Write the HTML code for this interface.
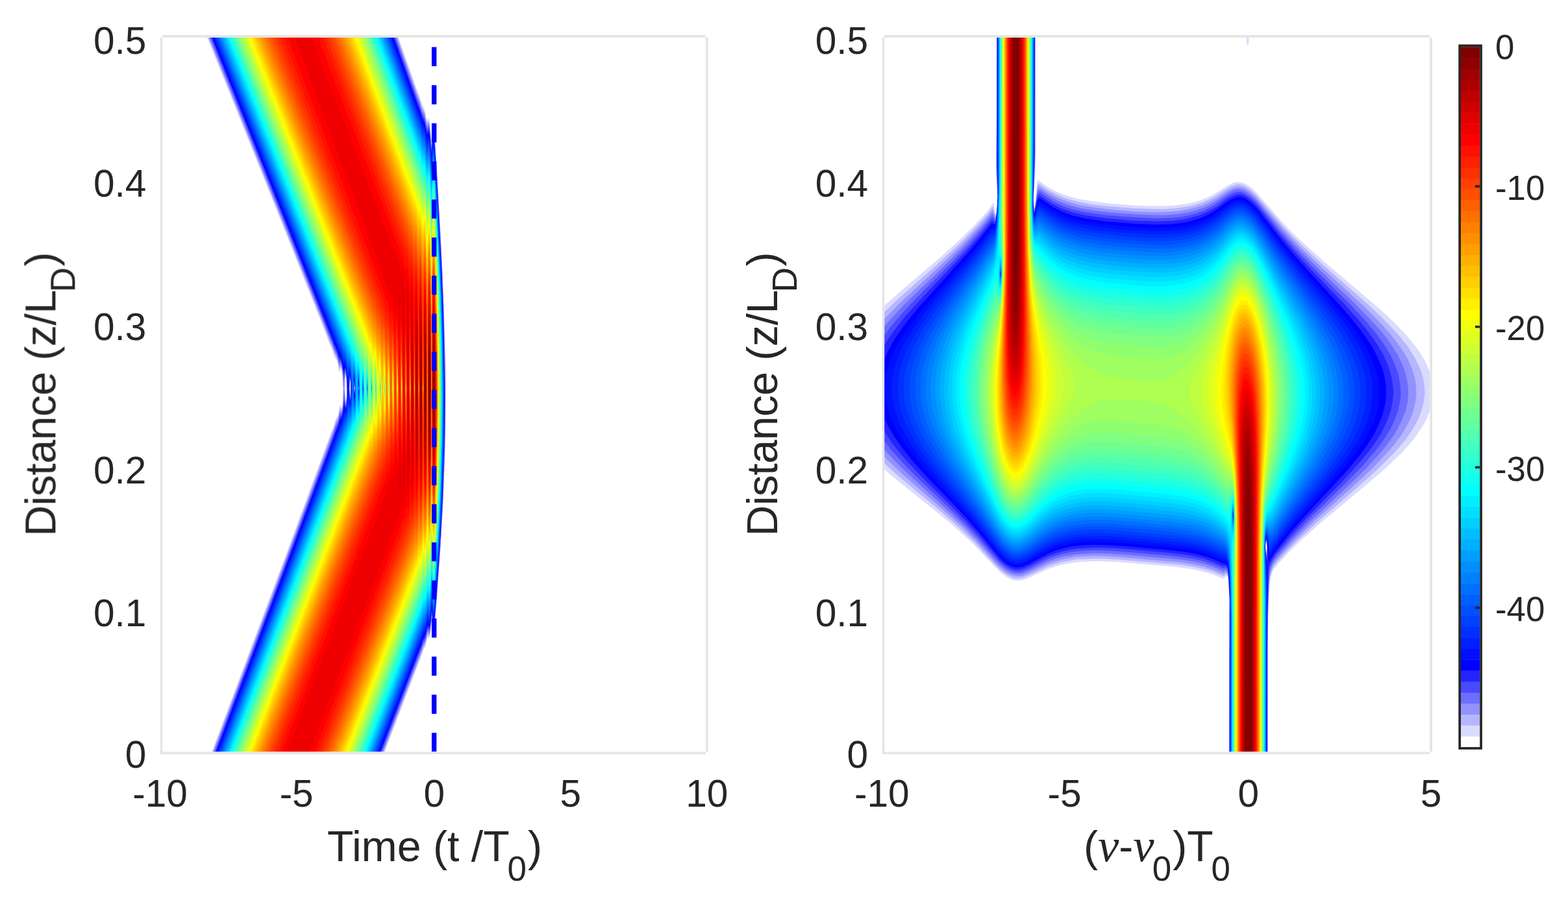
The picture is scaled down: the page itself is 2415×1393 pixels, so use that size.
<!DOCTYPE html>
<html lang="en"><head><meta charset="utf-8"><title>Temporal reflection: pulse and spectrum evolution</title>
<style>html,body{margin:0;padding:0;background:#fff}body{width:2415px;height:1393px;overflow:hidden}svg{display:block}</style></head>
<body>
<svg width="2415" height="1393" viewBox="0 0 2415 1393">
<defs><clipPath id="cl"><rect x="250.2" y="57.8" width="836.7" height="1100.7"/></clipPath><clipPath id="cr"><rect x="1362.1" y="57.8" width="840.1" height="1100.7"/></clipPath></defs>
<filter id="bh" filterUnits="userSpaceOnUse" x="200" y="0" width="2100" height="1300" color-interpolation-filters="sRGB"><feGaussianBlur stdDeviation="0.7"/></filter><filter id="bt" filterUnits="userSpaceOnUse" x="0" y="0" width="2415" height="1393" color-interpolation-filters="sRGB"><feGaussianBlur stdDeviation="0.7"/></filter>
<rect width="2415" height="1393" fill="#fff"/>
<g clip-path="url(#cl)"><g filter="url(#bh)"><rect x="200" y="0" width="940" height="1220" fill="#fff"/><path fill="#dbdbff" d="M318 52l295.5 0 0 3 0.5 3 29 82 3.5 8.5 3.5 12 3.5 6.5 3.5 16 0.5 1.5 0.5 0 2-2.5 1 1.5 1 6 2 23.5 0.5 2 2-19.5 1-3.5 0.5 0.5 1.5 14 6.5 104.5 6.5 127.5 3.5 104 0.5 40.5 0 70.5-1.5 68-1 15-2 50.5-3 52.5-6 85.5-3.5 40.5-1.5 9.5-0.5 0-0.5-2-2-16-2.5 22.5-1 4-0.5 0.5-2-2-0.5 0.5-3.5 14.5-3 5-3.5 10.5-55.5 145-1 3 0 4.5-266.5 0 0-4.5 0.5-1.5 117-311.5 67-181.5 3.5-8 3.5-12.5 0.5-1.5 1.5-1 1.5-3 2.5-16 0.5-1 2.5 5.5 0.5 0 1.5-9.5 0.5-18-1-21-1-7.5-1-4-0.5-0.5-0.5 1-1.5 5.5-0.5 0-2-12.5-1.5-6-2.5-3.5-1.5-3-3-10-3-5.5-10.5-28-65.5-164.5-114-283.5-1-3zM532 579.5l-0.5 8-0.5 15 1 12 0.5 3 0.5 0 1-7.5 0-15-1-13-0.5-2.5zM539 586.5l-0.5 4 0 9 0.5 9 0.5 2 0.5-12.5-0.5-9zM545.5 592.5l0 7 0.5 6 0.5-9-0.5-4.5zM552.5 595l0 3 0 4z"/>
<path fill="#b6b6ff" d="M319.5 52l292.5 0 0 3 0.5 3 30.5 85.5 3.5 9 3.5 11.5 4 8 3 15 0.5 1 0.5 0.5 2-3 1 1.5 1 6 2 24 0.5 2 2-20 1-3.5 0.5 0.5 1.5 14 3.5 55 7 120 3 72 2.5 90 1 39-0.5 64.5-1 61.5-1 16-1.5 50-3.5 57-6.5 91.5-3 36-1.5 10-0.5-0.5-0.5-2-2-16-2.5 22-1 4.5-0.5 0.5-2-2-0.5 0.5-3.5 14.5-3 5-3.5 10.5-56.5 148-1 3 0 4.5-264.5 0 0-4.5 0.5-1.5 113.5-301.5 71.5-193.5 1.5-3 3.5-12 3.5-6 3-15 0.5-0.5 0.5 0.5 1.5 3 0.5-0.5 1.5-10 0.5-19.5-1-24-1-6.5-1-4.5-0.5-0.5-0.5 0.5-1.5 4-0.5 0-2-12.5-1.5-4.5-4.5-8-3-10-2.5-4.5-10.5-27.5-69.5-174.5-108.5-270.5-1-3zM532 577.5l-1 7 0 15 1 15 0.5 5 0.5 0 1-8 0-15-0.5-15-1-4zM539 585l-0.5 4 0 10.5 0.5 9 0.5 3.5 1-14-0.5-9zM545.5 591l0 8.5 0.5 7 0.5-8.5-0.5-6.5zM552.5 594.5l-0.5 3.5 0.5 4.5 0.5-4.5z"/>
<path fill="#9292ff" d="M321 52l289.5 0 0 3 1 3 31.5 89.5 3.5 8.5 3.5 12 3 5 1 2.5 3 15 0.5 1.5 0.5 0 2-3 1 1.5 1 6 2 24.5 0.5 2 2-20.5 1-3.5 0.5 0.5 1.5 14 3.5 55.5 7 123.5 3 73.5 2.5 90 0.5 39-0.5 90-3 81.5-4 72.5-6.5 90-2.5 30.5-1.5 10-0.5-0.5-0.5-2-2-16.5-2.5 22.5-1 4.5-0.5 0.5-2-2-0.5 0.5-3.5 14.5-3 5-3.5 10.5-58 151-1 3 0 4.5-262 0 0.5-4.5 0-1.5 110-291.5 74-200 1.5-3.5 4-12.5 3-5.5 3-14 1 0 1.5 1.5 0.5 0 1-5 1-8 0.5-21-1-21-1.5-10.5-1-4.5-0.5-0.5-0.5 0-1.5 2.5-0.5 0-3.5-15-4.5-9-3-9.5-2.5-5-10.5-27.5-56.5-141.5-120.5-300-0.5-3zM532 575.5l-1 9-0.5 16.5 1.5 16.5 0.5 4 0.5 0 1-8.5 0.5-16.5-1-15-1-6zM539 583.5l-0.5 5.5-0.5 10.5 1 10.5 0.5 3.5 0.5-5 0.5-10.5-0.5-10.5zM545.5 590l0 9.5 0.5 8 0.5-9.5-0.5-7.5zM552.5 593.5l-0.5 4.5 0.5 5.5 0.5-5.5z"/>
<path fill="#6d6dff" d="M322 52l287.5 0 0 3 0.5 3 33 93 3.5 9 3.5 11.5 1 2.5 2 2.5 1 2.5 3.5 17 0.5 0 2-3.5 1 1.5 1 6 2 25 0.5 2 2-20.5 1-4 0.5 0.5 1.5 14 6.5 107 6.5 135 3 103 0.5 46.5-1 80-3 82-6 101.5-6.5 84.5-1.5 10-0.5-0.5-0.5-2.5-2-16.5-2 21.5-1.5 6-0.5 0.5-2-2.5-0.5 0.5-3.5 15-3 4.5-3.5 11-3 7-56 147-1 3 0 4.5-259.5 0 0-4.5 0.5-1.5 108.5-288.5 75.5-203 4-12.5 3-5.5 3-13 1-1 1.5 1 0.5-0.5 1.5-9.5 1.5-25 0.5-1.5 1.5 17.5 0.5 4.5 0.5 1.5 0.5 0 1-7.5 0.5-15-0.5-16.5-1.5-11-0.5-0.5-1 4-1.5 20-1.5-23-1.5-9-1-4-0.5-1-0.5 0-1 1.5-0.5 0-0.5-0.5-3.5-13.5-4.5-9.5-3-9-2.5-5-10.5-27.5-56.5-142-119-296.5-1-3zM539 582l-0.5 5.5-0.5 12 0.5 10.5 1 5 0.5-5 0.5-12-0.5-10.5zM545.5 588.5l-0.5 11 1 9 0.5-10.5-0.5-8.5zM552.5 593l-0.5 5 0.5 6 0.5-6z"/>
<path fill="#4949ff" d="M323.5 52l284.5 0 0 3 0.5 3 34.5 97 3.5 8.5 3.5 12 1 2 2 3 1 2.5 3.5 16.5 0.5 0.5 2-4 1 1.5 1 6 2 25.5 0.5 2 2-21 1-4 0.5 0.5 1.5 14.5 3.5 56 7 131 3 75.5 2 87.5 0.5 42-0.5 60-3 91.5-6 104-6.5 84.5-1.5 10.5-0.5-0.5-0.5-2.5-2-17-2 20.5-1.5 7.5-0.5 0.5-2-3-0.5 0.5-3.5 15-3 5-3.5 10.5-3 7-57.5 150.5-1 3 0 4.5-257 0 0-4.5 0.5-1.5 105-278.5 78-209.5 4-12.5 3-6 3-12 1-1.5 1.5 0 0.5-0.5 1.5-6 2-19.5 2 11.5 0.5 1.5 0.5 0 1.5-8.5 0-16.5-0.5-18-1.5-11.5-0.5-0.5-0.5 1.5-2 11-2.5-20-1.5-5-1-1.5-1 0.5-1-0.5-3.5-12.5-4.5-9.5-3-9-2.5-5.5-67-169.5-117.5-293-1-3zM538.5 581.5l-0.5 7.5 0 12 0.5 10.5 1 5 1-8 0-13.5-0.5-10.5-1-4zM545.5 587.5l-0.5 12 0.5 8.5 0.5 1.5 1-11.5-1-10zM552.5 592l-0.5 6 0.5 7 0.5-5.5zM559 594.5l0 7.5 0.5-4z"/>
<path fill="#2424ff" d="M325 52l281.5 0 0 3 0.5 3 36 100.5 3.5 9 3.5 12 1 2 2 2.5 1 2.5 3.5 17 0.5 0.5 2-4 1 1.5 1 6 2 25.5 0.5 2 2-21.5 1-4 0.5 0.5 1.5 14.5 3.5 56.5 7 131 3 78 2 124.5 0 45-3 98.5-3.5 65-2.5 41.5-6.5 85.5-1.5 10.5-0.5-0.5-0.5-2.5-2-17.5-2 21-1.5 7.5-0.5 0.5-2-3-0.5 0.5-3.5 15-3 4.5-3.5 11-3 7-58.5 153.5-1 3 0 4.5-254.5 0 0-4.5 0.5-1.5 121.5-323.5 60-161.5 4-12 3.5-7.5 2.5-10 1-2 2-1 0.5-1 3-20.5 0.5 0 1.5 7 0.5 1.5 0.5-0.5 1-3 0.5-6 0.5-18-1-18-1.5-13.5-0.5-1-0.5 0.5-2 7.5-4-21-1-1.5-1 0-1-0.5-3.5-12-4.5-10-3-9-2.5-5.5-67-169-116-290-1-3zM538.5 579l-0.5 8.5 0 13.5 0.5 12 1 5.5 1-8.5 0-15-1-14-0.5-2.5zM545.5 586l-0.5 13.5 0.5 9 0.5 2.5 0.5-3 0.5-10-1-10.5zM552.5 591l-0.5 2 0 5 0.5 8 0.5-6.5zM559 594l0 4 0 4.5 0.5-4.5z"/>
<path fill="#0000ff" d="M326.5 52l278.5 0 0 3 1 3 37 104.5 3.5 8.5 3.5 12 1 2.5 2 2.5 1 2.5 3.5 17 0.5 0 2-4 0.5 0 0.5 1.5 1 6 2 26 0.5 2 2-22 1-4 0.5 0.5 1.5 14.5 3.5 57 7 131.5 3 81 2 118.5-0.5 39-2.5 96.5-3 65.5-3 43-6.5 87-1.5 10-0.5-0.5-0.5-2-2-18-2 20.5-1.5 8-0.5 0.5-2-3-0.5 0.5-3.5 15-3 4.5-3.5 11-3 7-60 157-1 3 0 4.5-252 0 0-4.5 0.5-1.5 115.5-306.5 65-175 4-11.5 3.5-8 2.5-9.5 1-2 2-2 0.5-1 3-18 0.5-0.5 2 6 1-1.5 1-10.5 0.5-18-0.5-21-2-13-0.5-1-0.5 0.5-2 4.5-1-3-3-15-1-2-1.5-1-1-1.5-3-10.5-4.5-10-3-8.5-39-98.5-145.5-363-0.5-3zM539 577l-0.5 0-0.5 4.5-0.5 16.5 1 15 0.5 6 0.5 1 1-7 0-13.5-0.5-15zM545.5 584.5l-0.5 6 0 9 0.5 9 0.5 4 0.5-4 0.5-10.5-0.5-10.5zM552.5 590l-0.5 1.5 0 6.5 0.5 9 0.5-7.5zM559 593l-0.5 5 0.5 5 0.5-5z"/>
<path fill="#0010ff" d="M328 52l275.5 0 0 3 1 3 38.5 108.5 3.5 8.5 3.5 12 1 2.5 2 2 1 2.5 3.5 17.5 0.5 0 2-4 0.5 0 0.5 1 1 6 2 27 0.5 2 2-22.5 1-4.5 0.5 0.5 1.5 14.5 3.5 57.5 7 130.5 3 82.5 1.5 111-0.5 60-2 71-3 65.5-3 46.5-6.5 88-1.5 10-0.5-0.5-0.5-2-2-19-2 21.5-1.5 8-0.5 0.5-2-3.5-0.5 0.5-3.5 15.5-3 4.5-3.5 11-3 6.5-61 160.5-1 3 0 4.5-249.5 0 0-4.5 0.5-1.5 111.5-296.5 71.5-193 3.5-8.5 2.5-8.5 3.5-6 3-16 0.5-0.5 2 3.5 1-1.5 1.5-11.5 0.5-19.5-1-22.5-2-14-0.5-1-0.5 0-1.5 2.5-0.5 0.5-0.5-1-4-17-2-2-1-2-3-9.5-4.5-10.5-3-8.5-52-131-131-327-0.5-3zM538.5 575l-1 9.5 0 15 1 16.5 0.5 5.5 0.5 1 0.5-2 0.5-7.5 0.5-16.5-1-16.5-1-5zM545.5 583l-0.5 6 0 10.5 0.5 10.5 0.5 4 1-5.5 0-10.5-0.5-10.5zM552 590l0 9.5 0.5 8.5 1-8.5-1-10.5zM559 592.5l-0.5 5.5 0.5 6 0.5-6z"/>
<path fill="#0020ff" d="M329.5 52l273 0 0 3 0.5 3 40 112.5 3.5 8.5 3.5 12 1 2.5 2 2 1 2.5 3.5 17.5 0.5 0.5 2-5 0.5 0 0.5 1.5 1 6 2 27 0.5 2.5 2-23.5 1-4 0.5 0.5 1.5 14.5 3.5 57.5 6.5 126.5 3 82.5 1.5 105-0.5 75-1.5 54.5-3 67-3 48.5-6.5 88.5-1.5 10.5-0.5-0.5-0.5-2.5-2-19-2 21.5-1.5 8.5-0.5 0.5-2-4-0.5 0.5-3.5 16-3 4-3.5 11-3 7-62.5 163.5-1 3 0 4.5-247 0 0.5-4.5 0-1.5 108-286 74-200 3.5-8.5 2.5-8.5 3.5-6.5 3-14 0.5-1 0.5 0 1.5 2 1-1.5 1.5-11.5 1-22.5-1.5-22.5-1-10.5-1-6-1-1.5-1.5 1.5-0.5 0-0.5-1-4-15.5-3-4.5-3-9.5-64-161-125-312.5-0.5-3zM538.5 572.5l-1 9-0.5 18 1 16.5 0.5 6 1 2.5 0.5-1.5 0.5-7 0.5-19.5-1-17-0.5-4.5-0.5-2zM545.5 581.5l-0.5 6-0.5 12 1 12 0.5 4 1-5.5 0-12-0.5-12zM552 588.5l0 11 0.5 10 0.5-2.5 0.5-9-1-10zM559 591.5l-0.5 6.5 0.5 7 0.5-7z"/>
<path fill="#0030ff" d="M330.5 52l270.5 0 0 3 0.5 3 41.5 116.5 3.5 8 3.5 12.5 1 2.5 2 2 1 2 3.5 18.5 0.5 0 2-5 0.5 0 0.5 1 1 6 2 27.5 0.5 2.5 2-23.5 1-4.5 0.5 0.5 1.5 14.5 3.5 58.5 6.5 128.5 3 83.5 1 97.5 0 69-1.5 52.5-3 67.5-3 51.5-6.5 90-1.5 10.5-0.5-0.5-0.5-2.5-2-20-2 22-1.5 8.5-0.5 0.5-0.5-0.5-1.5-3.5-0.5 0.5-3.5 16-3 4-3.5 11.5-3 6.5-63.5 167-1 3 0 4.5-244.5 0 0-4.5 0.5-1.5 103.5-274.5 80.5-216.5 2.5-8 3.5-7 3-13 1-1.5 1.5 1 1-1.5 1-7 2-21.5 2 14 1 3 0.5-1 1-9.5 0-13.5-0.5-21-1.5-11-0.5-0.5-0.5 2.5-2 15.5-2-20-1.5-9-1-1.5-1.5 0.5-1-1-4-14.5-3-5-3-9-64-161.5-123.5-309-1-3zM545.5 579.5l-0.5 6.5-0.5 13.5 0.5 12 1 6 1-6 0-12-0.5-14zM552 587l-0.5 12.5 1 11 0.5-2 0.5-10.5-1-11.5zM559 590.5l-0.5 7.5 0.5 8 0.5-6.5zM565.5 594.5l0 7 0.5-2z"/>
<path fill="#0040ff" d="M332 52l267.5 0 0 3 0.5 3 43 120.5 3.5 8 3.5 12.5 1 2.5 2 1.5 1 2.5 3.5 18.5 0.5 0 2-5.5 0.5 0 0.5 1.5 1 6 2.5 30.5 2-24 1-5 0.5 0.5 1.5 15 3.5 58.5 6.5 130.5 3 88.5 1 86.5-1 96-2.5 70.5-4.5 77.5-6.5 88.5-1 5-0.5-0.5-0.5-2.5-2-20-2 22.5-1.5 8.5-0.5 0.5-0.5-1-1.5-3.5-0.5 0.5-3.5 16-3 4-3.5 11.5-3 6.5-65 170.5-1 3 0 4.5-241.5 0 0-4.5 0.5-1.5 102-271 80.5-216.5 2.5-7.5 3.5-7.5 3.5-13.5 0.5-0.5 1.5 0 1-1.5 1-5.5 2-17 0.5 0.5 1.5 8 1 2 0.5-1 1-10.5 0.5-16.5-1-19.5-1.5-13-0.5-1-0.5 0.5-2 11-3.5-22.5-1-2-2-1-1-2-3.5-12.5-3-5.5-10.5-27.5-65-164-113.5-284-1-3zM545.5 577.5l-0.5 5.5-0.5 15 0.5 13.5 1 7.5 1-6 0.5-13.5-1-15zM552 585.5l-0.5 14 1 12.5 0.5-3.5 0.5-10.5-0.5-10.5-0.5-2zM559 589.5l-0.5 8.5 0.5 9 0.5-2 0.5-5.5zM565.5 593.5l0 9 0.5-3z"/>
<path fill="#0050ff" d="M333.5 52l264.5 0 0 3 0.5 3 44.5 124.5 3.5 8 3.5 12.5 1 2.5 2 1.5 1 2.5 3.5 18.5 0.5 0 2-5.5 0.5 0 0.5 1 1 7 2.5 30.5 2-25 1-4.5 0.5 0.5 1.5 14.5 3.5 59.5 6.5 133 3 94 1 74-1 84.5-3 86.5-4 69-6.5 89.5-1 5-0.5-0.5-0.5-2.5-2-21-2 23-1.5 8.5-0.5 0.5-0.5-0.5-1.5-4-0.5 0.5-3.5 16.5-3 3.5-3.5 11.5-3 6.5-66.5 174-1 3 0 4.5-239 0 0-4.5 0.5-1.5 101-267.5 80.5-216 2.5-8 3.5-7.5 3.5-13 0.5-0.5 1.5-1 1-1.5 1-4.5 2-14.5 0.5-0.5 2 7 0.5 0 0.5-1 1-11.5 0.5-18-0.5-21-2-14-0.5-1-0.5 0-2 7.5-2.5-15-1.5-5.5-2.5-2.5-1-2-3.5-11.5-3-6-10.5-27.5-69.5-175.5-107.5-269-1-3zM545 577l-0.5 9 0 15 0.5 13.5 1 6.5 0.5-1 0.5-5.5 0.5-18-1-15-1-6zM552 584l-0.5 14 0.5 10.5 0.5 5 0.5-3.5 0.5-12-0.5-10.5-0.5-3.5zM559 588.5l-0.5 9.5 0.5 10 0.5-1.5 0.5-7zM565.5 592.5l0 10.5 0.5-0.5 0-3z"/>
<path fill="#0060ff" d="M335 52l261.5 0 0 3 0.5 3 46 128.5 3.5 8 3.5 12.5 1 2.5 2 1.5 1 2.5 3.5 19 0.5 0 2-6 0.5 0 0.5 1 1.5 9 2 29 2-25.5 1-5 0.5 0.5 1.5 15 4 62.5 6 132.5 3 100 0.5 61.5-0.5 78-3.5 93-3.5 64.5-6.5 90.5-1 5-0.5-0.5-0.5-2.5-2-21.5-2 23.5-1.5 9-0.5 0-0.5-0.5-1.5-4-0.5 0-3.5 17-3 3.5-3.5 11.5-3 6.5-67.5 177.5-1 3 0 4.5-236.5 0 0-4.5 0.5-1.5 118-313.5 64.5-174 3.5-8 3.5-12.5 2-2 1-2 1-4 1.5-10 1-3 2 4 0.5 0.5 0.5-1 1.5-11.5 0.5-21-1-24-2-14-0.5-1-0.5 0-2 5-4-18-2.5-3-1-2-3.5-11.5-3-6-80-203-106-265.5-1-3zM545.5 573.5l-0.5 1-0.5 5.5-0.5 16.5 1 19.5 1 7.5 0.5-1.5 0.5-6 0.5-16.5-0.5-18zM552 582l-0.5 16 0.5 10.5 0.5 6.5 0.5-1 0.5-4 0-12-0.5-11-0.5-4.5zM559 587.5l-0.5 2.5 0 8 0.5 11 0.5-1 0.5-8.5zM565.5 592l0 6 0 6 0.5-0.5 0.5-4z"/>
<path fill="#0070ff" d="M336.5 52l258.5 0 0 3 0.5 3 47.5 132.5 3.5 8 3.5 13 1 2 2 1.5 1 2 3.5 19.5 0.5 0 2-6 0.5-0.5 0.5 1 1.5 12 2 27 2-26 1-5 0.5 0.5 1.5 15 3.5 61.5 6.5 132 2.5 97.5 1 61.5-1 78-3 88-3.5 65-6.5 91.5-1 5.5-1-3.5-2-22-2 24-1.5 9-0.5 0-0.5-0.5-1.5-4-0.5 0-3.5 17-3 3.5-3.5 11.5-3 6.5-69 181-1 3 0 4.5-233.5 0 0-4.5 0.5-1.5 114-303 67-180.5 3.5-8.5 3.5-12 3-4.5 3-15 0.5-1 0.5 0.5 1.5 2 0.5 0.5 0.5-1 1.5-14.5 1-21-1-22.5-1.5-12-1-6-1-1.5-1.5 3-0.5 0-0.5-0.5-3.5-15.5-3.5-6-3.5-11-3-6.5-80-202.5-104.5-262-1-3zM545 571.5l-1 13-0.5 16.5 1.5 18 1 6.5 1-2 0.5-7.5 0-21-1-18-1-5.5zM552 580l-0.5 6 0 12 0 12 1 7 0.5-1 0.5-4.5 0-13.5-0.5-13-0.5-4zM559 586l-0.5 2.5 0 9.5 0.5 12.5 0.5-1 0.5-10zM565.5 590.5l-0.5 7.5 0.5 7 0.5 0 0.5-5.5zM572 596l0 4 0.5 2 0-6z"/>
<path fill="#0080ff" d="M338 52l255.5 0 0 3 0.5 3 45.5 126 3.5 11 4 9 3.5 13 1 1.5 1.5 0.5 1 2 3.5 20 0.5 0 2-6.5 0.5-0.5 0.5 1 1.5 11.5 2 28 2-26.5 1-5.5 0.5 0.5 1.5 15 3.5 62.5 6 129 3 106 0.5 51.5-0.5 64-3 95.5-3.5 67-6.5 93-1 5-1-3-2-23-2 24.5-1.5 9-0.5 0.5-0.5-1-1.5-4.5-0.5 0-3.5 17.5-3 3.5-3.5 11.5-3 6.5-70.5 184.5-1 3 0 4.5-231 0 0-4.5 0.5-1.5 110.5-293 73-195.5 3.5-11 3-5.5 3-13.5 1-1.5 1.5 1.5 0.5 0 0.5-1 1.5-8.5 1.5-23.5 2 17.5 1 3 0.5-1 1-9.5 0.5-15-1-21-0.5-7.5-1-5-0.5 0-0.5 2-1.5 17-0.5-0.5-2-19.5-1.5-10.5-1-1.5-1.5 1.5-0.5 0-0.5-0.5-3.5-14.5-4-7.5-3-9.5-3-6.5-66.5-169-116.5-292-1-3zM552 578l-0.5 8-0.5 13.5 1 13.5 0.5 5.5 0.5-0.5 0.5-5 0.5-13.5-1-16.5-0.5-4zM559 585l-0.5 2.5-0.5 10.5 1 14 0.5-2 0.5-10.5zM565.5 589.5l-0.5 8.5 0.5 8.5 0.5-0.5 0.5-6.5zM572 594.5l0 7 0.5 1.5 0-8z"/>
<path fill="#008fff" d="M340 52l252 0 0 3 0.5 3 47 130.5 3.5 10.5 4 9 3.5 13 1 1.5 1.5 1 1 1.5 3.5 20.5 0.5 0 2-7 0.5-0.5 0.5 1 1.5 11.5 2 29 2-27.5 1-5.5 0.5 0.5 1.5 15 3.5 61.5 6 129 3 109.5 0.5 46.5-1 61.5-2.5 93-3.5 66-6.5 94-1 5.5-1-3.5-2-23.5-2 25-1.5 9-0.5 0.5-0.5-1-1.5-4.5-0.5 0-2.5 14-1 3.5-3 3-3.5 12-3 6.5-72.5 189.5 0 1.5-0.5 4.5-228 0 0-4.5 0.5-1.5 106-281 76-203.5 3.5-11 3-6 3-12.5 1-1.5 1.5 0 1-1 1.5-7 1.5-17 0.5 0 2 11.5 0.5 0.5 0.5-0.5 1-11 0.5-16.5-0.5-22.5-1-8-1-5.5-0.5 0-0.5 1-1.5 10.5-0.5 0.5-2.5-19-1.5-6.5-0.5-0.5-2 0.5-0.5-0.5-3.5-13.5-4-8-3-9-3-7-66.5-168.5-115-288.5-0.5-3zM552 576l-1 7 0 15 0.5 13.5 1 9 0.5-0.5 0.5-5.5 0.5-15-1-16.5-0.5-6zM559 583.5l-0.5 2.5-0.5 10.5 1 17 0.5-1 0.5-2.5 0-10.5zM565.5 588.5l-0.5 11 0.5 8 0.5 0 0.5-11zM572 593.5l0 7.5 0.5 3 0-7.5 0-2.5z"/>
<path fill="#009fff" d="M341.5 52l248.5 0 0.5 3 0.5 3 48.5 134.5 3.5 11 4 9 3.5 13 1 1.5 1.5 0.5 1 2 3.5 20.5 0.5-0.5 2-7 0.5-0.5 0.5 1 1.5 11.5 2 29.5 2-28 1-5.5 0.5 0.5 1.5 15 3.5 62 3 60 3 67.5 1.5 64.5 1.5 90-1 67.5-2 84-3.5 63-6.5 95-1 5.5-1-3.5-2-24-2 25.5-1.5 9-0.5 0.5-0.5-1-1.5-5-0.5 0-2.5 14.5-1 3.5-0.5 1-2 1-0.5 1-3.5 12-3 6-73.5 193.5-0.5 1.5 0 4.5-225.5 0 0-4.5 0.5-1.5 102-270.5 78.5-210.5 3.5-10.5 3-6.5 3.5-12 0.5-1.5 2-0.5 0.5-1 1.5-6 1.5-14.5 0.5-0.5 2 8 0.5 0.5 0.5-1 1.5-10.5 0-19.5-0.5-25.5-1-8-1-5-0.5-0.5-0.5 1-1.5 6.5-0.5 0.5-2.5-17-1.5-4.5-0.5-1-1.5 0-1-1-3.5-12.5-4-8.5-3-8.5-74-187-109-273.5-0.5-3zM552 574l-1 7.5 0 16.5 0.5 16.5 1 8.5 0.5-1 0.5-6 0.5-18-0.5-16.5-1-6.5zM558.5 582.5l-0.5 17 1 15.5 0.5-0.5 0.5-4.5 0-12-1-16zM565.5 587l-0.5 12.5 0.5 9 0.5 0.5 0.5-12.5zM572 592l0 9 0.5 4 0.5-8.5-0.5-3.5zM579 595l-0.5 3 0.5 5z"/>
<path fill="#00afff" d="M343 52l245.5 0 0 3 1 3 50 139 3.5 10.5 4 9 3.5 13.5 1 1.5 1.5 0 1 2 3.5 21 0.5-0.5 2-7.5 0.5-0.5 0.5 1 1.5 12 2 30 2-29 1-5.5 0.5 0.5 1.5 15 3.5 62.5 3 61 2.5 65 2 64.5 1 87-0.5 73.5-2.5 75-3 63-6.5 94.5-1 5.5-1-3.5-2-25-2 26.5-1.5 9-0.5 0.5-0.5-1-1.5-5.5-0.5 0-2.5 15-1 3.5-0.5 0.5-2 1-0.5 1-3.5 12-3 6.5-3.5 10-71.5 187-0.5 1.5 0 4.5-222.5 0 0-4.5 1-3 100-265.5 78.5-210 3.5-10.5 3.5-8 3-11 3-3 3.5-19 2 5.5 0.5 0 0.5-0.5 1.5-12 0.5-22.5-1-25.5-1-9.5-1-5-0.5-0.5-0.5 0.5-1.5 4.5-0.5 0-4-18.5-0.5-1-1.5-1-1-1.5-3.5-11.5-4-8.5-3-9-73.5-185.5-108-271-0.5-3zM552 571.5l-0.5 1-0.5 6-0.5 18 1 19.5 1 9 0.5-0.5 1-7 0-19.5-0.5-18zM558.5 580.5l-0.5 17.5 0.5 12 0.5 6.5 0.5 0 0.5-5 0-13.5-0.5-14-0.5-4zM565.5 586l-0.5 13.5 0.5 10.5 0.5 0.5 0.5-14zM572 591l0 8.5 0 5 0.5 2 0.5-10-0.5-4.5zM579 594l-0.5 4 0.5 6z"/>
<path fill="#00bfff" d="M344.5 52l242.5 0 0 3 1 3 51.5 143 3.5 11 4 9 3.5 13.5 1 1 1.5 0.5 1 1.5 3.5 21.5 0.5 0 2-8.5 0.5-0.5 0.5 1 1.5 12 2 31 2-30 1-5.5 0.5 0.5 1.5 15 3.5 63.5 5.5 119.5 1.5 64.5 1 88.5-0.5 72-2 69.5-3 64-6.5 97-1 5.5-1-3.5-2-26-2 27.5-1.5 9-0.5 0.5-0.5-1-1.5-6-0.5 0-2.5 15-1 3.5-0.5 1-2 1-0.5 0.5-3.5 12.5-3 6-3.5 10-73 191-0.5 1.5 0 4.5-219.5 0 0-4.5 0.5-1.5 115-305.5 66-178 3.5-8 3-10.5 3-4 3.5-17 0.5 0 1.5 3 0.5 0.5 0.5-1 1-5.5 0.5-8 1-24-1-25.5-1.5-12-1-5.5-0.5-0.5-0.5 0-1.5 3-0.5 0-4-17-3-4-3.5-11-4-9-76.5-194.5-106-267-1-3zM552 569l-0.5 2-1 6-0.5 21 1 18 0.5 7.5 1 4 0.5-0.5 1-6.5 0.5-19.5-1-22.5zM558.5 578.5l-0.5 7.5 0 12 0.5 13.5 0.5 7 0.5 0 0.5-5.5 0.5-15-1-16-0.5-3.5zM565.5 584.5l-0.5 4.5 0 10.5 0.5 10.5 0 1.5 0.5 0.5 0.5-14zM572 589.5l0 10 0 6.5 0.5 1.5 0.5-11-0.5-5.5zM579 593l-0.5 5 0.5 7 0.5-5.5z"/>
<path fill="#00cfff" d="M346 52l239.5 0 0 3 0.5 3 53.5 147.5 4 12 3.5 7.5 3.5 14 1 1 1.5 0 1 1.5 3.5 22 0.5 0 2-8.5 0.5-0.5 0.5 0.5 1.5 12 2 32 2-31 1-5.5 0.5 0.5 1.5 15 2.5 45.5 5 99 3 91.5 1 93-0.5 70.5-2 67-3 66.5-6.5 98-1 5.5-1-3.5-2-27-2 28-1.5 9.5-0.5 0-0.5-1-1.5-6-0.5 0-2.5 15.5-1 3.5-0.5 1-2 0.5-0.5 1-3.5 12.5-3 5.5-3.5 10.5-74.5 194.5-0.5 1.5 0 4.5-216.5 0 0-4.5 0.5-1.5 110.5-293.5 69.5-186.5 3-7.5 3-10 3-5 3.5-15.5 0.5-0.5 1.5 2 0.5 0 0.5-0.5 1.5-8 1.5-24.5 2 17 1 3.5 0.5 0 1-9.5 0.5-18-0.5-22.5-1-8.5-1-5-0.5 0.5-0.5 4-1.5 16-0.5-1-2-24-1.5-7-1-1-1.5 1.5-0.5 0-0.5-1-3.5-14.5-3-4.5-3.5-11-4.5-10.5-59-150-121.5-306-1-3zM558.5 576l-0.5 8.5-0.5 13.5 0.5 15 1 7.5 0.5 0 0.5-4.5 0.5-18-1-18-0.5-3.5zM565.5 583l-0.5 4.5 0 12 0.5 12 0 1.5 0.5 0.5 0.5-15.5zM572 588.5l-0.5 11 0.5 7.5 0.5 2 0.5-11-0.5-8.5zM579 592l-0.5 6 0.5 8 0.5-6.5z"/>
<path fill="#00dfff" d="M348 52l235.5 0 0.5 3 0.5 3 55.5 153 3.5 11 3.5 7.5 3.5 14 1 1 1.5 0 1 1.5 3.5 22 0.5 0 2-9 0.5-0.5 0.5 0.5 1.5 12 2 33 2-31.5 1-6 0.5 0.5 1.5 15.5 2.5 44 4.5 97.5 3 91.5 1 91.5-0.5 66-1.5 64.5-3 69-6.5 99-1 5.5-1-4-2-27.5-2 29-1.5 9.5-0.5 0-0.5-1-1.5-6.5-0.5 0-2.5 15.5-1 4-0.5 0.5-2 0.5-0.5 1-3.5 12.5-3 6-3.5 10-76 198.5-0.5 1.5 0 4.5-214 0 0.5-4.5 0.5-1.5 106.5-283 75-200.5 3-10 3-5.5 3.5-14 0.5-1 1.5 1 1-1 1.5-6.5 1.5-18 0.5-0.5 2 12 0.5 1 0.5-0.5 1-10.5 0.5-19.5-0.5-25.5-1-8-1-5-0.5-0.5-0.5 2-1.5 11-0.5 0-2-17.5-1.5-7-1-1.5-1.5 0.5-1-1-3.5-13.5-3.5-6.5-3-9-63.5-161-120-302-0.5-3zM558.5 574l-0.5 7.5-0.5 15 0.5 15 1 11.5 0.5-0.5 0.5-5 0.5-19.5-0.5-18-1-5.5zM565.5 581l-0.5 5-0.5 13.5 1 12 0 3.5 0.5 0.5 0.5-17.5-0.5-12zM572 587l-0.5 12.5 0.5 9 0.5 1.5 0.5-12-0.5-9.5zM579 591l-0.5 2 0 5 0.5 9 0.5-7.5zM585.5 594l0 4 0 5.5 0.5-4z"/>
<path fill="#00efff" d="M349.5 52l232.5 0 0 3 1 3 57 157.5 3.5 11 3.5 7.5 3.5 14 1 1 1.5-0.5 1 1.5 3.5 23 0.5 0 2-9.5 0.5-1 0.5 1 1.5 12 2 34 2-33 1-6 0.5 0.5 1.5 15.5 2.5 46 4.5 97.5 3 96 1 79.5-0.5 66-1.5 64.5-3 67.5-6.5 98.5-1 5.5-0.5-1-0.5-4-2-27.5-2 29.5-1.5 10-0.5 0-0.5-1.5-1.5-6.5-0.5-0.5-2.5 16.5-1 3.5-0.5 1-2 0-0.5 1-3.5 12.5-3 6-3.5 10-77.5 202.5-0.5 1.5 0 4.5-211 0 0.5-4.5 0-1.5 103-272.5 77.5-207 3-9.5 3-6 3.5-13.5 0.5-1 1.5 0 1-1 1-4 2-16.5 0.5-1 2 8 0.5 1 0.5-0.5 1.5-10.5 0.5-22.5-1-27-1-9.5-1-5-0.5-0.5-0.5 1-1.5 8-0.5 0-3.5-21-1-1.5-1.5-0.5-1-1.5-3.5-12.5-3.5-7-4-11-66.5-169-114-287.5-1-3zM558.5 571.5l-1 8.5 0 18 0.5 16.5 1 10.5 0.5 0 1-6 0-19.5-0.5-21-1-6.5zM565.5 579.5l-0.5 5-0.5 15 0.5 13.5 0.5 3.5 0.5 1 0.5-7.5 0.5-12-0.5-12zM572 585.5l-0.5 14 0.5 10.5 0.5 1.5 0.5-13.5-0.5-11zM579 590l-0.5 1.5 0 6.5 0.5 10 0.5-8.5zM585.5 593l-0.5 5 0.5 6.5 0.5-5z"/>
<path fill="#00ffff" d="M351 52l229.5 0 0 3 0.5 3 59 162 3.5 11.5 3.5 6.5 3.5 14.5 1 1.5 1.5-1 1 1.5 1 4.5 2.5 19 0.5-0.5 2-10 0.5-0.5 0.5 0.5 1.5 12 2 35.5 2-34 1-6.5 0.5 0.5 1.5 15.5 2.5 43.5 4.5 97.5 3 94.5 0.5 78-0.5 67.5-1.5 61.5-2.5 66-6.5 99.5-1 5.5-0.5-1-0.5-5-2-27.5-2 30.5-1.5 9.5-0.5 0-0.5-1-1.5-7-0.5-0.5-2.5 16.5-1 4-0.5 0.5-2 0-0.5 0.5-3.5 13-3 6-3.5 10-79 206.5-0.5 1.5 0 4.5-207.5 0 0-4.5 0.5-1.5 101-268.5 77.5-207 3-9 3-6.5 3.5-12.5 0.5-1 1.5-1 1-1 1-4 2.5-15.5 0.5 0.5 1.5 5 0.5 0.5 0.5-0.5 1-4.5 0.5-7.5 0.5-24-0.5-27-1.5-12-1-5.5-0.5-0.5-0.5 0.5-1.5 5.5-0.5 0-3.5-18.5-1-2-1.5-1-1-1.5-4-13-3-6-4.5-12.5-70-177.5-108.5-273.5-0.5-3zM558.5 569l-0.5 2-0.5 7.5-0.5 18 1 21 1 10 0.5 0 0.5-1 0.5-6 0.5-21-1-22.5-1-7.5zM565 578.5l-0.5 10.5 0 15 1 12 0 2.5 0.5 1 1-9.5 0-15-0.5-12-1-5.5zM572 583.5l-0.5 16 0.5 10.5 0.5 3.5 0.5-15.5-0.5-12zM579 589l-0.5 0.5 0 8.5 0.5 11 0.5-9.5zM585.5 592l-0.5 6 0.5 7.5 0.5-6zM592 595l0 7 0.5-2.5z"/>
<path fill="#10ffef" d="M353 52l225.5 0 0 3 1 3 56.5 156.5 4 10 3.5 11.5 3.5 6.5 3.5 15 1 1 1.5-1 1 1.5 1 4.5 2.5 19.5 0.5-0.5 2-10.5 0.5-1 0.5 1 1.5 12 2 36.5 2-35 1-6.5 0.5 0 1 8.5 1 16.5 6 129 3 94.5 1 76.5-0.5 66-1.5 60-3.5 82.5-5.5 82-1 5.5-0.5-0.5-1-7.5-1.5-26.5-2 31.5-1.5 10-0.5 0-0.5-1.5-1.5-7.5-0.5-0.5-2.5 17-1 4-0.5 0.5-2 0-0.5 0.5-3.5 13.5-3 5.5-3.5 10-80.5 210.5-0.5 1.5 0 4.5-204.5 0 0-4.5 1-3 96.5-256 83-222.5 3.5-8.5 3-10.5 3-4 1-3.5 2.5-13.5 0.5 0 1.5 3 0.5 0.5 0.5-0.5 1-5 1-9 0.5-28.5-1-28.5-1.5-11.5-1-5-0.5-0.5-0.5 0-1.5 3.5-0.5 0-3.5-16-1-2-2-2.5-1-2-3.5-11.5-3-6-74.5-190-106.5-269.5-1-3zM558.5 566l-0.5 2-0.5 6-1 22.5 1 19.5 1.5 14.5 0.5 0 0.5-2.5 0.5-6 0.5-22.5-1-22.5-0.5-6.5zM565.5 575.5l-0.5 0.5-0.5 5.5 0 16.5 0.5 16.5 0.5 6.5 0.5 0.5 1-8.5 0-15-0.5-15zM572 582l-0.5 5.5 0 12 0.5 12 0.5 3.5 1-17-0.5-12zM578.5 588l0 11.5 0.5 11 0.5-12.5-0.5-10.5zM585.5 591l-0.5 7 0.5 8.5 0.5-7zM592 594l0 9 0.5-3.5z"/>
<path fill="#20ffdf" d="M354.5 52l222.5 0 0 3 0.5 3 59 162.5 3.5 9 3.5 11 3.5 7 3.5 14.5 1 1.5 1.5-1.5 1 1.5 1 4.5 2.5 20 0.5-0.5 2-11 0.5-1 0.5 0.5 1.5 12.5 2 37.5 2-36.5 1-6.5 0.5 0.5 1 8 1 17 6 128 3 92.5 0.5 75-0.5 76.5-2.5 75-3.5 72-4 63.5-1 5.5-0.5-1-1-8-1.5-27-2 32.5-1.5 10-0.5 0-0.5-1.5-1.5-8-0.5-0.5-2.5 17.5-1 4-0.5 0.5-2-0.5-0.5 1-3.5 13.5-3 5-3.5 10.5-82 214.5-0.5 1.5 0 4.5-201.5 0 0-4.5 1-3 113-299.5 65-175 3.5-8 3-10.5 3.5-6 3-14 0.5-0.5 1.5 1.5 0.5 0.5 0.5-0.5 1-5.5 2-24.5 0.5-0.5 2 16 0.5 2.5 0.5-0.5 1-9.5 0.5-19.5-0.5-25.5-1.5-14-0.5-1.5-1 3.5-1.5 15.5-0.5-1.5-2-23-1.5-6-0.5-1-0.5 0-1.5 2-1-1.5-3.5-14.5-3.5-6-3.5-11-3-6.5-79.5-202.5-100-252.5-0.5-3zM565 573.5l-0.5 11 0 18 0.5 16.5 0.5 4 0.5 1 1-11 0-19.5-1-17.5-0.5-3zM572 580l-0.5 6 0 13.5 0.5 13.5 0.5 4 0.5-7 0.5-12-0.5-13.5zM578.5 586.5l-0.5 13 1 12.5 0.5-14-0.5-12zM585.5 589.5l-0.5 8.5 0.5 9.5 0.5-8zM592 593l0 5 0 5.5 0.5-4z"/>
<path fill="#30ffcf" d="M356.5 52l218.5 0 0 3 1 3 60.5 167.5 3.5 8.5 3.5 11.5 3.5 6.5 3.5 15 1 1 1.5-1 1 1 1 4.5 2.5 20.5 0.5 0 2-12 0.5-1 0.5 0.5 1.5 12.5 2 38.5 2-37.5 1-6.5 0.5 0 1.5 16 2.5 42.5 4 97.5 2.5 90.5 1 73-1 76.5-2 75-4 74.5-4 58-0.5 1.5-1-4-0.5-6-1.5-27-2 33.5-0.5 5.5-1 5-0.5-0.5-0.5-1.5-1.5-8.5-0.5-0.5-2.5 18-1 4-0.5 0.5-2-0.5-0.5 0.5-3.5 13.5-3 5.5-3.5 10.5-3 7-80.5 211.5-0.5 1.5 0 4.5-198.5 0 0-4.5 0.5-1.5 109.5-290.5 71-189.5 3-9.5 3.5-7 3-13 0.5-0.5 2 0.5 0.5-0.5 1-4.5 2-19 0.5-1.5 2 11 0.5 1.5 0.5 0 1.5-11.5 0.5-22.5-1-24-1.5-17-0.5-1.5-0.5 0.5-2 12-0.5-0.5-2-17.5-1.5-6.5-1-1.5-1.5 1-1-1.5-3.5-13.5-3.5-6.5-3.5-10.5-3-7-79.5-202.5-98-248-1-3zM565 570.5l-1 9.5 0 19.5 1 19.5 0.5 6.5 0.5 1 1-10.5 0-19.5-0.5-19.5-1-6.5zM572 578l-0.5 6.5-0.5 15 1 13.5 0.5 6 1-7.5 0-13.5-0.5-13.5zM578.5 584.5l-0.5 16.5 1 12.5 1-15.5-1-13.5zM585.5 588.5l-0.5 9.5 0.5 11 0.5-9.5zM592 592l-0.5 6 0.5 7 0.5-5.5zM598.5 595.5l0 5.5 0.5-3z"/>
<path fill="#40ffbf" d="M358.5 52l215 0 0 3 0.5 3 62.5 172.5 3.5 8.5 3.5 11.5 3.5 6 3.5 15.5 1 1 1.5-1.5 1 1 1 4.5 2.5 21 0.5 0 2-12.5 0.5-1 0.5 0.5 1.5 12.5 2 40 2-39 1-7 0.5 0.5 1.5 16 2.5 44 4 99 2.5 87 0.5 69-0.5 69-2.5 81-3.5 72-4 58.5-0.5 1.5-1-4.5-0.5-6-1.5-28.5-2 35-0.5 5.5-1 5-0.5-0.5-0.5-1.5-1.5-9-0.5-0.5-2.5 18.5-1 4-0.5 0.5-0.5 0-1.5-1-0.5 0.5-3.5 14-3 5-3.5 11-3 7-82.5 215.5 0 1.5-0.5 4.5-195 0 0-4.5 0.5-1.5 105.5-279.5 73.5-196 3.5-10.5 3-6 3-12.5 1-1 1.5 0 1-1.5 3-21 0.5 1 1.5 6.5 0.5 1 0.5 0 1-4 0.5-7.5 0.5-25.5-1-28.5-1-13-1-4-0.5 0-0.5 1-1.5 7-0.5 0-0.5-2.5-3-18.5-1-1.5-1.5 0-1-1.5-3.5-12.5-3.5-7-3.5-10.5-69.5-176.5-109.5-276.5-0.5-3zM565 568l-1 12 0 21 1 21 0.5 6.5 0.5 0.5 1-11.5 0.5-21-1-21-1-7.5zM572 576l-0.5 7-0.5 16.5 0.5 15 1 6.5 1-8 0-15-0.5-15zM578.5 582.5l-0.5 18.5 1 14 0.5-5 0.5-12-1-13.5 0-1.5zM585.5 587l-0.5 3 0 8 0.5 12 1-10.5zM592 591l-0.5 7 0.5 8 0.5-6.5zM598.5 594.5l0 7.5 0.5-4z"/>
<path fill="#50ffaf" d="M360 52l211.5 0 0 3 0.5 3 64.5 177 3.5 8.5 3.5 12 3.5 6 3.5 15.5 0.5 1 0.5 0 1.5-2 0.5 0 0.5 1 1 4.5 2.5 22 0.5 0 2-13.5 0.5-1 0.5 0 1.5 13 2 41.5 2-38 1-9.5 0.5 0 0.5 3 4 75.5 3.5 84 2 85.5 1 66-1 64.5-2 76-3.5 74-4 59-0.5 1.5-1-4.5-0.5-6-1.5-29.5-2 36-0.5 5.5-1 5-0.5-0.5-0.5-1.5-1.5-9.5-0.5-1-2.5 19.5-1 4-0.5 0.5-0.5 0-1.5-1.5-0.5 0.5-3.5 14.5-3 5-3.5 10.5-3 7-83.5 218.5-1 3 0 4.5-192 0 0.5-4.5 0-1.5 104-275 73.5-196 3.5-10.5 3-6.5 3-11 1-2 1.5-0.5 1-2 3-18 0.5 0 2 5.5 0.5 0 1-5 1-8.5 0.5-28.5-1-30-1-12-1.5-5.5-0.5-0.5-0.5 1-1.5 4.5-0.5 0-3.5-18-1-2-1.5-0.5-1-1.5-3.5-12.5-3.5-7-3.5-10-69.5-177-107.5-272-1-3zM565 565l-1 10.5-0.5 24 1 22.5 1 7.5 0.5 2.5 1-4 0.5-9 0-24-1-22.5-1-7zM572 573.5l-0.5 6.5-0.5 18 0.5 16.5 1 8.5 1-8.5 0-16.5-0.5-15.5zM578.5 580.5l-0.5 17.5 0.5 12 0.5 7 0.5-5.5 0.5-13.5-0.5-13.5-0.5-3zM585.5 585.5l-0.5 2.5 0 10 0.5 13.5 1-12zM592 589.5l-0.5 8.5 0.5 9 0.5-7.5zM598.5 593.5l0 9.5 0.5-5z"/>
<path fill="#60ff9f" d="M362 52l207.5 0 0 3 1 3 66 182 3.5 8.5 3.5 12 3.5 5.5 3.5 16 0.5 1 0.5 0 1.5-2 0.5 0 0.5 0.5 1.5 6 2 21.5 0.5 0 2-14.5 0.5-1 0.5 0 1.5 13 2 43.5 2-38.5 1-11 0.5 0 0.5 3 4 77 3.5 86 2 79 0.5 64.5-0.5 60-2 73-3.5 75.5-4 61-0.5 1.5-1-4.5-0.5-6.5-1.5-30.5-2 37-0.5 6-1 5-0.5-0.5-0.5-1.5-2-11.5-2.5 20.5-1 4-0.5 0.5-0.5-0.5-1.5-1.5-0.5 0.5-3.5 14.5-3 5-3.5 11-3 6.5-85 223-1 3 0 4.5-188.5 0 0-4.5 1-3 99-262.5 76-202.5 3.5-10.5 3-6.5 3-10.5 3.5-5.5 3-15.5 0.5-1 2 4 1-1 1-7.5 1.5-27.5 0.5-0.5 2 19 0.5 5 0.5 0.5 1.5-10 0-21-0.5-27-1.5-14.5-0.5-1-0.5 3.5-2 22.5-2.5-28.5-1.5-9-0.5-0.5-0.5 0.5-1.5 3-0.5-0.5-4-17.5-3-3.5-3.5-11.5-4-9-3-8.5-69.5-177-105.5-267.5-1-3zM571.5 572.5l-0.5 12 0 16.5 0.5 16.5 1 8 1-9.5 0-19.5-0.5-17-1-8.5zM578.5 578.5l-0.5 7.5 0 13.5 0.5 13.5 0.5 6 1-6 0-15-0.5-15-0.5-3.5zM585.5 584l-0.5 1.5 0 12.5 0.5 15 0.5-2.5 0.5-11zM592 588l-0.5 10 0.5 10.5 0.5-2 0.5-7zM598.5 592l0 6 0 6 0.5-1 0-5z"/>
<path fill="#70ff8f" d="M364 52l203.5 0 0 3 1 3 68 187.5 3.5 8 3.5 12 3.5 5.5 3.5 16.5 0.5 1 0.5 0 1.5-2.5 0.5-0.5 0.5 1 1.5 8.5 2 19.5 0.5 0 2-15 0.5-1.5 0.5 0.5 1.5 12.5 2 45.5 2-39 1-12.5 0.5 0 0.5 3 4 77 3.5 87 1.5 76.5 0.5 61.5-0.5 58.5-1.5 72-3.5 75-4 60-0.5 1.5-1-4.5-0.5-6.5-1.5-32.5-2 39-0.5 6-1 5-0.5-0.5-0.5-1.5-2-12.5-2.5 21-1 4-0.5 0.5-0.5-0.5-1.5-1.5-0.5 0.5-3.5 15-3 4.5-3.5 11-3 6.5-86.5 227.5-1 3-0.5 4.5-185 0 0-4.5 1-3 97.5-257.5 79.5-213 3-7 3-10 3.5-6 3-14.5 0.5-0.5 0.5 0 1.5 2 1-2 3-27 2 13.5 1 2.5 0.5-2.5 1-7.5 0.5-24-0.5-27-2-17.5-0.5-1-1 3.5-1.5 12.5-0.5-1.5-2-20-1.5-7-0.5-0.5-0.5 0-1.5 2-1-2-3.5-14.5-3-4.5-3.5-11-4-9-76.5-195.5-99.5-253-1-3zM571.5 569.5l-0.5 12-0.5 21 1 18 1 8 1-10 0.5-22-1-21-1-7zM578.5 576l-0.5 8.5 0 15 0.5 15 0.5 6.5 1-6.5 0-16.5-0.5-15-0.5-5.5zM585.5 582.5l-0.5 2-0.5 13.5 1 17 0.5-2.5 0.5-13zM592 586.5l-0.5 11.5 0.5 12 0.5-1.5 0.5-9zM598.5 590.5l-0.5 7.5 0.5 7.5 0.5-0.5 0.5-5.5zM605 596.5l0.5 5.5 0-6.5z"/>
<path fill="#80ff80" d="M366 52l199.5 0 0 3 1 3 70 192.5 3.5 8 3.5 12 1 2.5 1.5 1 1 2 4 18 0.5-0.5 1.5-2.5 0.5-0.5 0.5 0.5 1.5 9 2 20.5 0.5-0.5 2-16 0.5-1.5 0.5 0.5 1.5 13 2 47 1.5-39.5 1.5-14 0.5 0 0.5 3 4 77 3.5 84 1.5 70.5 0.5 66-0.5 63-2 66-3 73.5-4 59-0.5 1.5-1-4.5-0.5-7-1.5-34-2 40.5-0.5 6-1 5-0.5 0-0.5-2-2-13-2.5 21.5-1 4.5-0.5 0-0.5 0-1.5-2.5-0.5 0.5-3.5 15.5-3 4-3.5 11.5-3 6.5-88.5 232-1 3 0 4.5-181.5 0 0-4.5 1-3 111-294.5 64-171 3-7.5 3-9.5 3.5-6.5 3-13 1-1.5 1.5 1 1-2 3-22.5 0.5 1 1.5 8 1 2 0.5-1.5 1.5-13.5 0-22.5-0.5-30-2-18-0.5-1-0.5 0-2 11-0.5-0.5-2-17-1.5-6-1-1.5-1.5 1-1-1.5-3.5-14-3-5-4-11.5-178-452-0.5-3zM571.5 566l-1 11 0 22.5 1 22.5 0.5 7.5 0.5 1.5 0.5-3 1-9 0-24-1-22.5-1-6.5zM578.5 573.5l-0.5 9.5-0.5 16.5 1 16.5 0.5 7 1-7 0-16.5-0.5-18-0.5-6.5zM585 581l-0.5 18.5 1 17.5 0.5-4 0.5-15-1-17.5zM592 585l-0.5 13 0.5 13.5 0.5-1 0.5-11zM598.5 589l-0.5 10.5 0.5 7.5 0.5 0 0.5-9zM605 594.5l0 6.5 0.5 3 0-10z"/>
<path fill="#8fff70" d="M368 52l195.5 0 0 3 1 3 68.5 187 3.5 10.5 3.5 8 3.5 12.5 1 2 1.5 1.5 1 1.5 4 18.5 0.5-0.5 1.5-3 0.5-0.5 0.5 0.5 1.5 8.5 2 21.5 0.5 0 2-17 0.5-1.5 0.5 0 1.5 13 2 49.5 1.5-40.5 1.5-15.5 0.5 0 0.5 3 4 77 3 82.5 1.5 64.5 0.5 67.5-0.5 64.5-1.5 60-3 73.5-4 61-0.5 1.5-1-5-0.5-7-1.5-35.5-2 42-0.5 6.5-1 5-0.5-0.5-0.5-2-2-13.5-2.5 22-1 4.5-0.5 0.5-0.5-0.5-1.5-2.5-0.5 0-3.5 16-3 4-3.5 11.5-3 6.5-90 236.5-1 3-0.5 4.5-178 0 0-4.5 0.5-1.5 107.5-284.5 69.5-185 3-9.5 3.5-7 3-12 1-2 1.5 0 1-1.5 3-19.5 0.5 0 2 7 0.5 0 0.5-1 1.5-14.5 0.5-27-0.5-27-1.5-15-1-8-0.5-1.5-0.5 0-2 7.5-0.5-0.5-0.5-2-1.5-12-1.5-6-1-1.5-1.5 0-1-1.5-3.5-13-3-5.5-4-11.5-62.5-159-113.5-288-0.5-3zM571.5 563l-1 14-0.5 24 1 24 1 7.5 0.5 1.5 1-3 0.5-9 0-27-1-24.5-0.5-5-0.5-2.5zM578.5 571l-0.5 9-0.5 19.5 0.5 18 1 8 0.5-1.5 0.5-6.5 0-18-0.5-21zM585.5 578.5l-0.5 0.5 0 2.5-0.5 13.5 0.5 15 0.5 9 1-4.5 0-13.5zM592 583l-0.5 15 0.5 15.5 0.5-1 0.5-13zM598.5 587.5l-0.5 12 0.5 9 0.5 0.5 0.5-11zM605 593l0 8 0.5 4.5 0-13z"/>
<path fill="#9fff60" d="M370 52l191.5 0 0 3 1 3 70.5 192.5 3.5 10.5 3.5 8 3.5 12.5 1 2 1.5 1 1 1.5 4 19 0.5-0.5 1.5-3.5 0.5-0.5 0.5 0.5 1.5 8.5 2 22.5 0.5 0 2-18 0.5-1.5 0.5 0 1.5 13 2 51.5 1.5-40.5 1.5-18 0.5 0 0.5 3 4 79.5 3 84.5 1.5 60 0.5 63-0.5 61.5-1.5 57-3 75-3 50-1 11.5-0.5 1.5-1-5-0.5-7.5-1.5-37.5-2 44-0.5 6.5-1 5-0.5 0-0.5-2.5-2-14.5-2.5 23.5-1 4-0.5 0.5-0.5-0.5-1.5-3-0.5 0-3.5 16.5-3 3.5-3.5 11.5-3 6.5-92 241.5-1 3 0 4.5-174.5 0 0-4.5 0.5-1.5 100.5-266.5 74.5-198.5 3-9 3.5-7.5 3-11 1-2 1.5-1 1-1.5 2.5-15 1-3 2 5 0.5 0 0.5-1 1.5-9.5 1-28 0.5-3 2 23.5 1 6.5 0.5-1.5 1-11 0.5-21-1-27-0.5-10.5-1-7-0.5 0-0.5 4-2 26-2-32-1-6-1-4-0.5-0.5-0.5 1-1.5 4-1-2-3-16-1-2-1.5-0.5-1-2-3.5-12-3.5-7-3.5-10-63-161-111-281.5-0.5-3zM578.5 568.5l-1 8.5 0 19.5 0.5 21 1 11 0.5-1.5 0.5-7.5 0.5-20-1-22.5zM585 576l-0.5 22 0.5 15 0.5 8 0.5-1.5 0.5-5 0-18-0.5-14.5-0.5-5.5zM592 581l-0.5 3.5 0 13.5 0.5 17 0.5-0.5 0.5-15zM598.5 585.5l-0.5 14 0.5 10.5 0.5 1 0.5-13zM605 591l0 8.5 0.5 8 0.5-11-0.5-5.5z"/>
<path fill="#afff50" d="M372 52l187.5 0 0 3 1 3 72.5 198 3.5 10.5 3.5 7.5 3.5 13 1 2 1.5 1 1 1 4 19.5 0.5 0 1.5-4.5 0.5-0.5 0.5 0.5 1.5 9 2 23.5 0.5 0 2-19.5 0.5-2 0.5 0 1.5 13.5 2 54 1.5-43 1.5-18 0.5 0 0.5 3 4 78 3 82.5 1 58.5 0.5 63-0.5 61.5-1 55.5-3 72-3 50-1 11.5-0.5 2-1-5.5-0.5-7.5-1.5-40-2 46.5-0.5 6.5-1 5.5-0.5-0.5-0.5-2.5-2-15.5-2.5 24-1 4.5-0.5 0.5-2-4.5-0.5 0.5-3.5 16.5-3 3.5-3.5 12-3 6-3.5 10.5-90.5 236-1 3 0 4.5-171 0 0.5-4.5 1-3 97.5-258.5 78.5-210 3-6.5 3.5-12 2-2 1-2 3-15.5 0.5-0.5 0.5 0 1.5 2.5 0.5 0 0.5-1 1-7.5 2-22.5 2 15.5 1 3.5 0.5-1 1-13.5 0.5-22.5-0.5-30-1-10.5-1-7.5-0.5-0.5-0.5 2-2 17-2.5-23.5-1.5-7.5-0.5-1-2 3.5-0.5-0.5-3.5-16-3.5-5-3.5-11.5-3.5-7.5-70.5-181-104.5-266.5-1-3zM578.5 565.5l-0.5 1.5-0.5 8.5-0.5 22.5 1 22.5 1 10.5 0.5-1 0.5-8 0.5-22.5-0.5-24zM585 573.5l-0.5 9.5 0 15 0.5 16.5 0.5 9 0.5-1 0.5-5 0-18-0.5-20-0.5-5.5zM592 579l-0.5 4-0.5 15 1 19 0.5 0 0-2.5 0.5-15zM598.5 583.5l-0.5 16 0.5 12.5 0.5 1 0.5-15zM605 588.5l0 11 0.5 10 0.5-13-0.5-7zM612 591l-0.5 7 0.5 8z"/>
<path fill="#bfff40" d="M374 52l183.5 0 0 3 0.5 3 75 203.5 3.5 10.5 3.5 7.5 3.5 13 1 2 1.5 0.5 1 1.5 4 20 0.5 0 1.5-5 0.5-1 0.5 0.5 1.5 9 2 24.5 0.5 0 2-20.5 0.5-2 0.5 0 1.5 13.5 2 57 1.5-45.5 1.5-19 0.5 0 0.5 3 3.5 73.5 3 76.5 1.5 60 0.5 67.5-0.5 63-1.5 55.5-3 69-3.5 59-0.5 1.5-1-5.5-0.5-7.5-1.5-42.5-2 49-0.5 6.5-1 5.5-0.5-0.5-0.5-2.5-2-17-2.5 24.5-1 5.5-0.5 0-2-4.5-0.5 0-3.5 17.5-0.5 1-2 1-0.5 1-3.5 12-3 6-3.5 10.5-93 242.5 0 1.5-0.5 4.5-167 0 0-4.5 1-3 94-248 80.5-215 3-7 3.5-11.5 3-5 3-13.5 1-1.5 1.5 1.5 1-1 1-5.5 2-19 0.5 0.5 1.5 9.5 1 2.5 0.5-1 1.5-14 0.5-25.5-1-33-1-11.5-1-7-0.5-1-1 3-1.5 10-0.5-1-2.5-19.5-1-5-0.5-0.5-0.5 0-1.5 1.5-0.5-0.5-3.5-14.5-3.5-6-3.5-11-3.5-8-74.5-191-98.5-251-1-3zM578 563l-1 12.5 0 24 1 24 1 11 1-3.5 0.5-9 0-28.5-0.5-21-1.5-10zM585 570.5l-0.5 11 0 18 0.5 18 0.5 8.5 0.5-1 0.5-6 0.5-19.5-1-22.5-0.5-5.5zM592 577l-0.5 4.5-0.5 16.5 1 21.5 0.5 0 0.5-3.5 0-15 0-15zM598.5 581.5l-0.5 18 0.5 14 0.5 1.5 0.5-17zM605 586.5l0 13 0.5 11.5 0.5-14.5-0.5-9zM612 589.5l-0.5 8.5 0.5 10 0.5-10z"/>
<path fill="#cfff30" d="M376.5 52l179 0 0 3 0.5 3 77 209 3.5 11 3.5 7 3.5 13.5 1 2 2 0.5 1 2.5 3.5 19 0.5 0 1.5-5.5 0.5-1 0.5 0.5 1.5 8.5 2 26.5 0.5 0 2-22 0.5-2.5 0.5 0 1 6.5 0.5 8 2 59.5 1.5-48.5 1.5-19.5 0.5 0 0.5 3 3.5 65.5 2.5 69 1.5 70.5 0.5 66-0.5 63-1.5 63-2.5 60-3.5 57.5-0.5 1.5-1-5.5-0.5-8-1.5-45-2 51.5-0.5 7-1 5.5-0.5-0.5-0.5-2.5-2-18.5-2 24.5-1.5 7-0.5 0-2-5.5-0.5 0.5-2.5 14-1 3.5-0.5 1-2 1-0.5 1-3.5 12-3 6-3.5 10.5-94.5 247.5-0.5 1.5 0 4.5-163.5 0 0-4.5 0.5-1.5 176-466.5 3.5-11 3-5.5 3-12.5 1-1.5 1.5 0.5 1-1.5 1-5 1.5-13 0.5-3 0.5 0 2 8 0.5 0.5 0.5-1 1.5-15 0.5-30-0.5-31.5-1.5-15-1-7.5-0.5-1-0.5 0.5-2 8.5-0.5-1-2-16-1.5-5-1-1-1.5 0.5-1-2-3.5-13-3.5-7-3.5-10.5-174-443.5-0.5-3zM578.5 559l-0.5 0.5-0.5 2.5-0.5 7.5-0.5 28.5 1 24 0.5 10.5 1 5 1-2 0.5-7.5 0.5-27-1-28.5zM585 567.5l-0.5 11-0.5 21 0.5 19.5 1 10 0.5-1 0.5-6.5 0.5-22-1-24-0.5-7zM592 574.5l-0.5 1.5 0 5.5-0.5 18 0.5 16.5 0.5 6 0.5 0 0.5-24zM598.5 579.5l-0.5 20 0.5 16.5 0.5 1 0.5-19-0.5-15zM605 584.5l-0.5 15 1 13.5 0.5-16.5-0.5-10.5zM612 588l-0.5 10 0.5 12 0.5-12z"/>
<path fill="#dfff20" d="M378.5 52l174.5 0 0 3 1 3 79 214.5 3.5 11 4 8.5 3.5 13.5 1 1 1.5 0 1 2 3.5 20.5 0.5-0.5 1.5-6 0.5-1 0.5 0 1.5 8 2 28.5 0.5 0.5 2-23 0.5-3 0.5-0.5 1 6.5 1 13.5 1.5 58 1.5-51.5 1.5-20.5 0.5 0 0.5 3 3 59 2.5 69 1.5 72 1 66-0.5 61.5-2 61.5-2 60-3.5 56-0.5 1.5-1-5.5-0.5-8-1.5-48.5-2 55-0.5 7-1 5.5-0.5-0.5-0.5-3-2-20-2 25-1.5 8-0.5 0-0.5-0.5-1.5-5.5-0.5 0-2.5 15-1 3.5-0.5 1-2 0.5-0.5 1-3.5 12.5-3 6-3.5 10-96.5 253-0.5 1.5 0 4.5-159.5 0 0-4.5 0.5-1.5 108.5-287 65.5-174 3.5-11 3-6 3-11.5 1-2 1.5-0.5 1-1 2.5-15.5 1-3.5 2 5.5 0.5 0.5 0.5-1 1.5-10.5 1.5-31.5 2 26 1 5 0.5-0.5 1-12.5 0.5-22.5-0.5-31.5-1-11.5-1-7-0.5 0-0.5 3.5-1.5 25-0.5 1.5-2-28-1.5-13-0.5-1-0.5 0-2 5.5-1-2.5-3-16.5-1-1.5-1.5-0.5-1-2-3.5-12-3.5-7.5-3.5-10-171.5-438.5-1-3zM585 564.5l-1 9.5 0 22.5 0.5 22.5 1 13 0.5-0.5 0.5-8 0.5-25.5-0.5-24-1-8.5zM592 572l-0.5 1 0 5.5-0.5 19.5 0.5 20.5 0.5 6 0.5 0 1-26.5-0.5-16.5zM598.5 577l-0.5 6 0 16.5 0.5 16.5 0.5 3.5 0.5-21.5-0.5-15zM605 582l-0.5 17.5 0.5 12.5 0.5 3.5 0.5-19-0.5-12.5zM612 586l-0.5 2.5 0 8 0.5 15.5 0.5-12.5zM618.5 588l-0.5 10 0.5 11 0.5-11zM625 589.5l0 16 0.5-7.5zM651.5 589.5l0 10 0 9 0.5-9z"/>
<path fill="#efff10" d="M381 52l170 0 0 3 0.5 3 78 212 4 10 3.5 11 3.5 7 3.5 14 1 0.5 1.5 0 1 2 3.5 21 0.5-0.5 2-8 0.5 0 0.5 1.5 1 7.5 2 29 0.5 0.5 2-24 0.5-4 0.5 0 1 6 1 19 1.5 57 2-63 0.5-10 0.5-3.5 0.5 0 0.5 3 3 57 2.5 69 1.5 73.5 0.5 61.5-0.5 60-1.5 64.5-2.5 58.5-3 51.5-0.5 1.5-1-6-0.5-8-1.5-52.5-2 59-0.5 7-1 6-1-3.5-2-22-2 25.5-1.5 9-0.5 0.5-0.5-1.5-1.5-5.5-0.5 0-2.5 15.5-1 3.5-1 1-1.5 0-0.5 1-3.5 13-3 5.5-3.5 10.5-98.5 258-0.5 1.5 0 4.5-155.5 0 0-4.5 1-3 103.5-273.5 68-181 3.5-10 3-6.5 3.5-12 3-3.5 3.5-17.5 0.5 0.5 1.5 3 0.5 0.5 0.5-1 1.5-7.5 1.5-23.5 0.5 1.5 2 16.5 0.5 1.5 0.5-0.5 1.5-13.5 0-25.5-0.5-34.5-1-12.5-1-7-0.5-0.5-0.5 2-2 18-2.5-24-1-7-1-1.5-1.5 3-0.5 0.5-0.5-0.5-3.5-16.5-1-2-1.5-1-1-1.5-3.5-12-3.5-7.5-3.5-10-169.5-433-0.5-3zM585 561l-0.5 4-0.5 9-0.5 24 1 24 1 13 0.5 0 1-8.5 0-25.5-0.5-28.5-1-10zM592 569l-0.5 0.5-0.5 6 0 22.5 0.5 22.5 0.5 6.5 0.5 0.5 1-11.5 0-18-0.5-18zM598.5 574.5l-0.5 7 0 18 0.5 18 0.5 4.5 0.5-24 0-16.5zM605 579.5l-0.5 20 0.5 14.5 0.5 3.5 0.5-19.5-0.5-16.5zM612 584l-0.5 1.5 0 11 0.5 17.5 0.5-14.5zM618.5 586l-0.5 10.5 0.5 14.5 0.5-11.5zM625 587.5l0 20 0.5-8zM631.5 591.5l0 10.5 0.5-2.5zM651.5 588l0 11.5 0 11 0.5-11zM658 588l0 20.5 0.5-10.5z"/>
<path fill="#ffff00" d="M383 52l165.5 0 0 3 0.5 3 80.5 218 4 10 3.5 11 3.5 6.5 3.5 14.5 1 1 1.5-1 1 2 3.5 22 0.5-0.5 2-9 0.5 0 0.5 1.5 1 9 2 29.5 0.5 0.5 2-24 0.5-6 0.5-0.5 1 6.5 1 19 1.5 62 2-64.5 0.5-14 0.5-3 0.5-0.5 0.5 3 2.5 46 2.5 76.5 2 73.5 0 60 0 57-1.5 64.5-2.5 57-3 51-0.5 2-1-6-0.5-8.5-1.5-57-2 63.5-0.5 7.5-1 5.5-1-3.5-2-23.5-2 26.5-1.5 9.5-0.5 0.5-0.5-1.5-1.5-6.5-0.5 0-2.5 16.5-1 3.5-1 1-1.5-0.5-0.5 0.5-3.5 13.5-3 5.5-3.5 10.5-3 7-98 256.5 0 1.5-0.5 4.5-151 0 0-4.5 1-3 98.5-260 74.5-199 3-6.5 3.5-11.5 3-4.5 3.5-15.5 0.5-0.5 1.5 2 0.5 0 0.5-0.5 1-6.5 2-19 0.5 0 2 12 0.5 1.5 0.5-0.5 1.5-15 0.5-28.5-1-34.5-1-16.5-1-7-0.5-0.5-0.5 1-2 12.5-2.5-21-1.5-5.5-0.5-0.5-0.5 0.5-1.5 1.5-0.5-0.5-3.5-15-3.5-5.5-3.5-11.5-3.5-7.5-67.5-174-103-263.5-1-3zM585 557.5l-0.5 3-0.5 9-0.5 27 1 28.5 1 13.5 0.5 0 0.5-1.5 0.5-7.5 0.5-28.5-1-30-0.5-9zM591.5 566l-0.5 14 0 22.5 0.5 22.5 0.5 5 0.5 0.5 1-13 0-24-1-22.5-0.5-5zM598.5 572l-0.5 8-0.5 19.5 0.5 18 0.5 5.5 0.5 1.5 0.5-8.5 0.5-18-0.5-18zM605 577l-0.5 21 0.5 16.5 0.5 5.5 0.5-22-0.5-18zM611.5 582.5l0 18.5 0.5 15 0.5-16.5-0.5-17.5zM618.5 584l-0.5 12.5 0.5 16.5 0.5-13.5zM625 585.5l0 11 0 13 0.5-10zM631.5 588.5l0 16.5 0.5 0 0-5.5zM638.5 592.5l-0.5 7 0.5 8zM645 588.5l-0.5 11 0.5 11.5zM651.5 585.5l-0.5 14 0.5 13 0.5-13zM658 585.5l0 25.5 0.5-13z"/>
<path fill="#ffef00" d="M385.5 52l160.5 0 0 3 1 3 83 226 3.5 8 3.5 11.5 3.5 6 3.5 15 0.5 1 0.5 0 1.5-1.5 1 2 3.5 23 0.5-0.5 2-10.5 0.5 0 0.5 1.5 1.5 11 1.5 30 0.5 0.5 2-26 0.5-6.5 0.5-0.5 1 6 1 20 1.5 68 1.5-66 1-19 0.5-3.5 0.5 0 0.5 3 2.5 46.5 2.5 78 1.5 67.5 0.5 58.5-0.5 57-1.5 61.5-2 57-3 49.5-0.5 2-1-6.5-0.5-9-1.5-62-2 68.5-0.5 8-1 5.5-1-3.5-2-26-2 28.5-1.5 10-0.5 0-0.5-1-1.5-7.5-0.5-0.5-2.5 17.5-1 4-1 0.5-1.5-1-0.5 1-3.5 14-3 4.5-3.5 11-3 7-100 262-0.5 1.5 0 4.5-147 0 0.5-4.5 1-3 96-254.5 74.5-198.5 3-7 3.5-11 3-5 3.5-14.5 0.5-0.5 1.5 1 1-1 1-4.5 2-17 0.5-0.5 2 8.5 0.5 1 0.5-0.5 1-7.5 0.5-10.5 1-33-1-37.5-1.5-15-1-7-0.5-1-0.5 1-2 9-1-4.5-2-14.5-1-4-0.5-0.5-2 0.5-0.5-0.5-4-15-3-5-3.5-11-3.5-8-168-431.5-1-3zM585 553.5l-0.5 2.5-1 9-0.5 31.5 1 28.5 1 12 0.5 5.5 0.5 0 0.5-2.5 0.5-7.5 0.5-31.5-1-31.5-0.5-9.5zM591.5 562.5l-1 14.5 0 27 1 22.5 0.5 7 0.5 0.5 1-15 0-27-1-24-0.5-5zM598.5 569l-0.5 9.5-0.5 21 0.5 19.5 0.5 7 0.5 1.5 0.5-10 0.5-19.5-0.5-19.5zM605 574.5l-0.5 23.5 0.5 18 0.5 6.5 1-24.5-0.5-18zM611.5 580l0 21 0.5 17.5 0.5-22-0.5-17zM618.5 581.5l-0.5 15 0.5 18.5 0.5-15.5zM625 583.5l-0.5 13 0.5 15.5 0.5-12.5zM631.5 586l0 18 0 4 0.5 0 0-16zM638.5 590l-0.5 8 0.5 12zM645 586.5l-0.5 13 0.5 13.5 0.5-13.5zM651.5 583l-0.5 16.5 0.5 15.5 0.5-15.5zM658 582l0 16 0 16 0.5-16z"/>
<path fill="#ffdf00" d="M388 52l155.5 0 0 3 1 3 85.5 232.5 3.5 8 3.5 11.5 3.5 6 3.5 15.5 0.5 0.5 0.5 0 1.5-2 1 1.5 3.5 25 0.5-1 2-11.5 0.5-0.5 0.5 1.5 1.5 14.5 1.5 29 0.5 1 1.5-27 1-7.5 0.5-1.5 1 6 1 20 1.5 76 1.5-73 1-20 0.5-3.5 0.5-0.5 0.5 3 2.5 46 2.5 76.5 1 66 0.5 57-0.5 55.5-1 60-2.5 64.5-2.5 40-0.5 2-1-6.5-0.5-11.5-1.5-66.5-2 72.5-0.5 10.5-1 6-0.5-0.5-0.5-4-2-27.5-2 30.5-1.5 10.5-0.5 0-0.5-1.5-1.5-8.5-0.5-0.5-2.5 18.5-1 4-0.5 0.5-0.5 0-1.5-1.5-0.5 0.5-3.5 14.5-3 5-3.5 11-3 6.5-101.5 266.5-1 3 0 4.5-142.5 0 0-4.5 0.5-1.5 172.5-457 3-9 3-6 3.5-13 0.5-1 2-0.5 0.5-1 3.5-19.5 2 6 0.5 0.5 0.5-0.5 1.5-9 1.5-30 2.5 24 0.5 4 0.5-0.5 1-12.5 0.5-27-0.5-39-1-12.5-1-6-0.5 0.5-0.5 3-1.5 23-0.5 1-2-28.5-1.5-10-0.5-1-0.5 0-2 6-1-3-1.5-11.5-1.5-5-1-1.5-1.5 0-1-2-3.5-13-3-5.5-4-11.5-168.5-432.5-1-3zM591.5 559l-1 13.5 0 28.5 1 27 0.5 9 0.5 0.5 1-14 0-27-0.5-28.5-1-8.5zM598.5 566l-0.5 2-0.5 7.5 0 22.5 0.5 24 0.5 7 0.5 2 1-12 0-21-0.5-21zM605 571.5l-0.5 26.5 0.5 19.5 0.5 8 0.5-8 0.5-19.5-0.5-19.5zM611.5 577l-0.5 24 1 20 0.5-6.5 0.5-18-1-19.5zM618.5 579.5l-0.5 17 0.5 21 1-18zM625 581l-0.5 15.5 0.5 18 0.5-4 0-11zM631.5 583l0 21 0 6.5 0.5 0.5 0-17.5zM638.5 587.5l-0.5 2.5 0 8 0.5 14.5zM645 584l-0.5 15.5 0.5 16 0.5-16zM651.5 580l-0.5 19.5 0.5 18 0.5-18zM658 578l0 20 0 20 0.5-20z"/>
<path fill="#ffcf00" d="M390.5 52l150.5 0 0 3 1 3 84.5 228.5 3.5 10.5 3.5 8 3.5 12 3.5 5 3.5 16.5 0.5 0.5 0.5 0 1.5-2.5 1 1.5 3.5 26 0.5-1 1.5-11 1-2.5 0.5 1.5 1 8 2 38.5 0.5 1 1.5-29.5 0.5-6.5 1-3.5 1 6.5 1 20 1.5 87.5 1.5-84.5 1-20.5 0.5-3.5 0.5-0.5 0.5 3 2 33 2.5 85.5 1.5 61.5 0.5 58.5-0.5 57-1.5 57-2.5 73.5-2 29-0.5 2-1-6.5-0.5-18.5-1.5-69-1.5 75-1 17.5-1 6-0.5-1-0.5-6-2-28.5-2 33-1.5 11-0.5 0-0.5-1.5-1.5-9.5-0.5-1-2.5 20-1 4-0.5 0.5-0.5-0.5-1.5-1.5-0.5 0.5-3.5 15-3 4-3.5 11.5-3 6.5-104 272.5-1 3 0 4.5-138 0 0-4.5 0.5-1.5 106-279.5 64.5-171 3-9.5 3-6 3.5-12.5 0.5-1 1.5-1 1-1.5 3.5-17 0.5 0 1.5 3 0.5 0.5 0.5-0.5 1.5-6.5 1.5-23.5 0.5 0 2 16.5 0.5 2 0.5-0.5 1.5-14 0.5-30-1-37.5-1-18-1-6.5-0.5 0-0.5 2-1.5 15.5-0.5 1-2-22.5-1.5-7.5-0.5-1.5-0.5 0-2 4-1-2.5-3-15-1-2-1.5-1-1-1.5-3.5-12-3.5-7.5-3.5-10-166-426.5-1-3zM591.5 554.5l-0.5 4.5-0.5 12-0.5 31.5 1.5 30 0.5 8.5 0.5 0.5 1-16.5 0.5-30-1-28.5-1-10.5zM598.5 562.5l-0.5 1.5-0.5 8.5 0 25.5 0.5 25.5 0.5 9 0.5 1.5 1-12 0-24-0.5-22.5zM605 568.5l-0.5 10 0 21 0.5 21 0.5 8 0.5-9.5 0.5-21-0.5-21zM611.5 573.5l-0.5 27.5 1 23 0.5-6.5 0.5-21-1-21zM618.5 576.5l-0.5 4 0 16 0.5 23.5 0.5-4.5 0.5-16zM625 578.5l-0.5 18 0.5 20.5 0.5-3 0.5-14.5zM631.5 580l0 22.5 0 10.5 0.5 1 0.5-19zM638 585.5l0 18.5 0.5 11 0-30.5zM645 581l-0.5 18.5 0.5 19 0.5-19zM651.5 576.5l-0.5 23 0.5 21.5 0.5-21.5zM658 573l-0.5 25 0.5 24.5 0.5-24.5zM664.5 562.5l0 60 0.5-26z"/>
<path fill="#ffbf00" d="M393.5 52l145 0 0 3 0.5 3 87.5 235.5 3.5 10.5 3.5 7.5 3.5 12.5 3.5 4.5 3.5 17.5 0.5 0.5 0.5-0.5 1.5-3 0.5 0 0.5 1 1 5.5 2.5 22.5 0.5-1 1.5-12.5 1-3 0.5 1 1 9 2 41 0.5 2 1.5-33 0.5-7 1-4 0.5 2 1 12.5 1 33 1 88.5 1.5-105 1-22 0.5-3.5 0.5-0.5 0.5 3 2 33.5 2.5 85.5 1 58.5 0.5 55.5-0.5 54-1 55.5-2.5 73.5-2 28.5-0.5 2-1-7-1-26-1-76-1.5 84-1.5 28-0.5 1.5-0.5-1-1-8.5-1.5-30-2 36.5-1.5 11-0.5 0-0.5-2-2-11.5-2.5 21-1 4-0.5 0.5-0.5-0.5-1.5-2.5-0.5 0.5-3.5 16-3 4-3.5 11.5-3 6.5-3.5 10-102.5 268.5-1 3 0 4.5-133.5 0 0-3 1-4.5 102.5-270.5 68-181.5 3.5-7 3-11 3-4.5 3.5-15.5 0.5-0.5 2 2 0.5-0.5 1-4.5 2-20 0.5-1 2 11.5 0.5 1.5 0.5 0 1-7 0.5-10.5 1-34.5-0.5-28.5-2-29.5-0.5-4-0.5-2-0.5 0-2.5 13-2.5-21-1.5-5.5-0.5-0.5-0.5 0.5-1.5 2-0.5-0.5-3.5-15.5-3.5-5.5-3.5-11.5-3.5-7.5-167-430-0.5-3zM591.5 550.5l-0.5 4-0.5 10.5-0.5 34.5 1 33 0.5 9 0.5 3.5 0.5 1 1.5-16.5 0-34.5-1-31.5-0.5-9zM598.5 559l-0.5 0.5-0.5 10-0.5 28.5 1 28.5 0.5 9.5 0.5 2 1-13 0-25.5-0.5-25.5zM605 565l-0.5 10.5-0.5 24 1 22.5 0.5 9.5 1-9.5 0-24-0.5-22.5zM611.5 570.5l-0.5 27.5 0.5 19.5 0.5 9.5 0.5-8 0.5-22.5-0.5-21-0.5-4zM618.5 574l-0.5 3 0 19.5 0.5 26.5 0.5-3.5 0.5-18.5zM625 575.5l-0.5 21 0.5 23 0.5-2 0.5-16.5zM631.5 577l0 25.5 0 13.5 0.5 1 0.5-22zM638 581.5l0 22.5 0.5 14.5 0.5-22-0.5-15zM645 578l-0.5 21.5 0.5 22 0.5-22zM651.5 573l-0.5 26.5 0.5 25 0.5-25zM658 566.5l-0.5 31.5 0.5 30 0.5-30zM664.5 539.5l0 96.5 0.5-38z"/>
<path fill="#ffaf00" d="M396 52l139.5 0 0 3 1 3 90 242.5 3.5 10.5 3.5 7.5 3.5 12.5 1 2 1.5 0.5 1 2 3 16 1 2.5 2-4.5 0.5 0 0.5 1 1 5.5 2.5 24.5 0.5-1.5 1.5-14 1-3.5 0.5 1 1.5 16.5 1.5 38 0.5 2.5 1.5-37 0.5-8 1-4 0.5 1.5 1.5 26.5 1.5 69 0.5 205.5-1 103.5-1 26.5-1 13.5-0.5 1.5-1-4-0.5-7.5-1.5-32.5-0.5 4-1.5 36-1.5 12-0.5 0-0.5-2-2-14-2.5 23-1 4-0.5 0.5-2-3.5-0.5 0-3.5 17-3 3-3.5 12-3 6.5-3.5 10-105 275-1 3 0 4.5-128.5 0 0-3 1-4.5 98-259 70-186 3.5-8 3-10 3-5 3.5-14.5 0.5-0.5 2 0.5 0.5-0.5 1-4 2.5-18.5 0.5 1 1.5 7 0.5 1.5 0.5-0.5 1-4.5 0.5-9 1.5-35.5 2 31 1 7 0.5 0.5 1.5-13.5 0.5-30-0.5-31.5-1.5-24-1-6-0.5 1.5-0.5 7.5-1.5 30-2.5-37.5-1.5-12-0.5-0.5-0.5 0.5-2 8.5-1-4.5-2-14.5-1-3.5-1-1-1.5 1-0.5-0.5-3.5-14-3.5-6.5-3.5-11-3.5-7.5-164-423.5-1-3zM598 555l-1 17.5 0 33 1 25.5 0.5 9.5 0.5 1.5 1-15.5 0.5-31.5-1-30-1-10zM605 561.5l-0.5 11-0.5 27 0.5 24 1 11.5 1-11.5 0-27-0.5-22.5zM611.5 567l-0.5 31 0.5 21 0.5 11 1-9.5 0-24-0.5-22.5-0.5-5.5zM618.5 571l-0.5 3-0.5 21 1 31 0.5-4 0.5-21zM625 572.5l-0.5 22.5 0.5 27.5 0.5-1.5 0.5-20zM631.5 574l-0.5 27 0.5 18 0.5 1.5 0.5-25.5zM638 577.5l0 25 0.5 19 0.5-25-0.5-18zM645 574.5l-0.5 25 0.5 25.5 0.5-25.5zM651.5 568.5l-0.5 31 0.5 29.5 0.5-29.5zM658 559l-0.5 39 0.5 36.5 0.5-36.5zM667.5 376l0.5-1 1 10 3 84 1.5 66 1 66-0.5 60-1.5 57-3 80-1 14-0.5 2-1-7.5-0.5-10-1-59-0.5-210 0.5-106.5 1-33z"/>
<path fill="#ff9f00" d="M399 52l134 0 0 3 0.5 3 93 249.5 3.5 11 3.5 7 3.5 13.5 1 1.5 1.5 0.5 1 1 1 4 2 13 1 3 2-5.5 0.5-0.5 0.5 1 1 5.5 2.5 27 0.5-1.5 1.5-16 1-4 0.5 1 1.5 17 1.5 42 0.5 4.5 1.5-43 0.5-7.5 1-5.5 0.5 1.5 1 13 1 36.5 1 95.5 0 207-1 51-1.5 30-0.5 1.5-1-4.5-0.5-7.5-1.5-37.5-0.5 4.5-1.5 40.5-0.5 6.5-1 6-0.5-0.5-0.5-2.5-2-15.5-2.5 24.5-1 4.5-0.5 0.5-0.5-0.5-1.5-4.5-0.5 0.5-3.5 17.5-0.5 1-2 1-0.5 1-3.5 12.5-3 5.5-3.5 10.5-108 282.5-0.5 2 0 4.5-123.5 0 0-3 1-4.5 169-446.5 3-9.5 3.5-7 3-12 1-1 1.5-0.5 0.5-0.5 1-3.5 2.5-16 0.5 0 1.5 5 0.5 1 0.5 0 1-6 2-29 0.5-0.5 2 20.5 0.5 3 0.5 0.5 1-5 0.5-10.5 0.5-33-0.5-36-1.5-24.5-1-6-0.5 0.5-0.5 3.5-1.5 20-0.5 0-2-26.5-1.5-8.5-0.5-1-0.5 0.5-2 5.5-1-3.5-2-12.5-1-4-1-1-1.5 0-1-2-3.5-13-3-5.5-3.5-10.5-165-424.5-0.5-3zM598 550.5l-1 19 0 31.5 1 33 0.5 10.5 0.5 2 1-5 0.5-12 0-34.5-1-33-0.5-9-0.5-2.5zM605 557.5l-1 10.5 0 28.5 0.5 28.5 1 14 1-12.5 0-27-0.5-28.5zM611.5 563l-0.5 12.5 0 22.5 0.5 24 0.5 11.5 1-10 0-27-0.5-22.5-0.5-9zM618.5 567.5l-0.5 1.5 0 3.5-0.5 22.5 1 34.5 0.5-6 0.5-22.5zM625 569.5l-0.5 25.5 0.5 31 0.5-1 0.5-24zM631.5 570.5l-0.5 30.5 0.5 21.5 0.5 2 0.5-28zM638 573l0 29.5 0.5 23 0.5-29-0.5-21.5zM645 570.5l-0.5 7.5 0 21.5 0.5 29.5 0.5-29.5zM651.5 563l-0.5 36.5 0.5 34.5 0.5-34.5zM658 549.5l-0.5 48.5 0.5 44.5 0.5-44.5zM667.5 382l0.5-1 1.5 20.5 2.5 67.5 1.5 66 0.5 64.5-0.5 58.5-1 57-3 77.5-1 14-0.5 2-1-7.5-1-28-1-97 0.5-211.5 0.5-55z"/>
<path fill="#ff8f00" d="M402 52l128 0 0 3 0.5 3 92.5 249 3.5 8 3.5 11 3.5 7 3.5 13.5 1 2 1.5-0.5 1 1.5 1 4 2 14 1 3 2-7 0.5-0.5 0.5 0.5 1.5 11 2 25 0.5-2 1.5-18 1-5 0.5 1 1.5 17 2 55.5 1.5-51.5 0.5-8.5 1-5.5 1 6.5 1.5 33.5 0.5 63 0.5 186-0.5 93-1 26-1 15-0.5 1.5-1-5-0.5-8-1.5-44.5-0.5 5-1.5 47-0.5 7-1 6-0.5-0.5-0.5-2.5-2-18.5-2.5 27-1 5-0.5 0-0.5-0.5-1.5-5.5-0.5 0-2.5 15.5-1 3.5-0.5 1-2 0-0.5 1-3.5 13-3 5.5-3.5 10.5-3 7-108 283 0 1.5-0.5 4.5-118 0 0-3 1-4.5 166.5-439.5 3-9 3.5-7.5 3-11 1-2 1.5-0.5 1-2.5 2.5-14 1-2 1.5 3 0.5 0.5 0.5 0 1.5-6 1.5-21.5 0.5-2 2 14.5 0.5 2.5 0.5 0.5 1-6.5 0.5-11.5 1-37.5-0.5-34.5-2-30-1-6-0.5 0-0.5 2.5-1.5 14-0.5 0.5-2.5-23-1-5.5-0.5-1-0.5-0.5-2 4-1-3-3-15-1-1.5-1.5-1-1-2-3.5-12-3.5-7-3.5-10.5-161.5-416-0.5-3zM598 545l-0.5 6.5-0.5 12-0.5 34.5 1 36 0.5 12 1 5 1-5 0.5-12 0-36-1-37.5-0.5-10.5-0.5-4zM605 553l-0.5 2-0.5 10 0 31.5 0.5 31.5 1 15.5 0.5-2.5 0.5-11 0.5-30.5-1-31.5zM611.5 559l-0.5 13.5 0 27 0.5 25.5 0.5 12.5 0.5-2 0.5-9 0-27-0.5-29-0.5-9.5zM618 564.5l-0.5 36.5 1 32 0.5-1.5 0.5-8 0-27-1-32.5zM625 565.5l-0.5 6.5 0 23 0.5 34.5 0.5-0.5 0-2.5 0.5-24zM631.5 566.5l-0.5 33 0.5 26.5 0.5 2.5 0.5-32zM638 568.5l0 34 0.5 27 0.5-31.5-0.5-27zM645 566l-0.5 6 0 27.5 0.5 34 0.5-32.5zM651.5 557l-0.5 42.5 0.5 40 1-40zM658 537l-0.5 61 0.5 55 0.5-15.5 0.5-39.5zM667.5 388l0.5-1.5 1.5 21.5 2 62.5 1.5 64.5 1 64.5-0.5 57-1 55.5-3 74.5-1 14.5-0.5 2-1-7.5-1-30-0.5-97 0-202.5 0.5-49.5z"/>
<path fill="#ff8000" d="M405 52l121.5 0 0 3 1 3 95.5 257 3.5 8 3.5 11.5 3.5 6 3.5 14.5 1 2 1.5-1 1 0.5 1 4.5 2.5 18 0.5 0.5 2-8.5 0.5-1 0.5 0.5 1.5 11 2 29 0.5-2.5 2-23 0.5-4 0.5 1 1 9 1 15 1.5 65.5 1.5-62.5 0.5-14 1-6.5 1 6.5 1 23.5 1 59.5 0.5 187.5-1 94.5-0.5 24-1 15.5-0.5 2-1-6-0.5-8.5-1.5-55-0.5 6-1.5 56.5-0.5 7.5-1 6.5-0.5-0.5-0.5-3-2-22-0.5 2.5-1.5 25.5-1.5 7.5-0.5 0-0.5-1-1.5-6.5-0.5 0-2.5 16.5-1 4-1 0.5-1.5-0.5-0.5 1-3.5 13.5-3 5-3.5 11-3 7-110.5 290-0.5 1.5 0 4.5-112.5 0 0-3 1-4.5 163.5-432 3-9 3.5-8 3-10 3.5-5.5 3-14.5 0.5-0.5 0.5 0 1.5 1.5 1-1.5 3-23.5 0.5 1 1.5 9 1 2 1-5 0.5-9.5 1.5-42 0.5 3 2 34.5 1 9 0.5-3 1-10.5 0.5-34.5-0.5-37.5-1.5-26.5-1-5-1 12-1.5 36.5-2-44-1-9-1-6-0.5 0-0.5 1.5-1.5 9.5-0.5 1-3.5-24-1-2-1.5 2-0.5 0-0.5-0.5-3.5-15.5-3.5-5.5-3.5-11-3.5-8-3.5-10-158-408.5-1-3zM605 548.5l-0.5 1.5-0.5 12-0.5 36 1 34.5 1 15.5 0.5-2 0.5-12 0.5-34.5-0.5-34.5zM611.5 554.5l-0.5 15-0.5 30 0.5 28.5 1 14 0.5-2 0.5-10.5 0.5-30-1-33zM618 560l-0.5 38 0.5 24 0.5 15 0.5-1 0.5-8 0-28.5-0.5-30.5-0.5-9zM625 561.5l-0.5 11 0 28.5 0.5 27 0 5.5 0.5 0 0.5-37zM631.5 562.5l-0.5 37 0.5 30 0.5 3.5 0.5-36.5zM638 563.5l-0.5 39 1 31.5 0.5-36-0.5-31zM645 561l-0.5 4.5 0 32.5 0.5 40.5 0.5-37.5zM651.5 550l-0.5 49.5 0.5 47 1-47zM658 516l-0.5 82 0.5 69 0.5-11 0.5-58zM667.5 394l0.5-1 1.5 21.5 2 57.5 1.5 64.5 0.5 61.5-0.5 57-1 54-2.5 71.5-1 15-0.5 2-1-8-1-31.5-0.5-97 0-192 0.5-45z"/>
<path fill="#ff7000" d="M408.5 52l115 0 0 3 0.5 3 99 265.5 4 9 3.5 12 2.5 3 1 2.5 3 14 1 1.5 1.5-1.5 0.5 0 0.5 0.5 1 3.5 2 17.5 1 4 2-11 0.5-1 0.5 0.5 1.5 11 2 33.5 0.5-2 1.5-26 1-6.5 0.5 0.5 0.5 3.5 2 38 1 72-0.5 96 0.5 126-1 50.5-1.5 26-0.5 1.5-0.5-0.5-0.5-4-2-25.5-0.5 2.5-1.5 27.5-1.5 10-0.5 0-0.5-1.5-1.5-8-0.5-0.5-2.5 18-1 4-0.5 1-0.5-0.5-1.5-1-0.5 0.5-3.5 14.5-3 4.5-3.5 11.5-3 6.5-113 296.5-1 3 0 4.5-107 0 0-3 1.5-4.5 164-434 3-7 3-10 3.5-6.5 3-12.5 1-1.5 1.5 1 1-2 3-20 0.5 0 2 8 0.5 0 0.5-1 1-11 1.5-25.5 0.5-2 2 23 1 5.5 0.5-1.5 1.5-20.5 0-36-0.5-39-1.5-26-1-5.5-1 6-1.5 23-0.5-1-2-31-1.5-8-0.5-0.5-0.5 1-1.5 7-0.5 0.5-3-18.5-1-3.5-1-0.5-1.5 0-0.5-0.5-3.5-14-3.5-6-3.5-11-3.5-8-158.5-410.5-0.5-3zM604.5 543.5l-1 23 0 34.5 0.5 36 1.5 16.5 1-4.5 0.5-13.5 0-43.5-1-37.5-1-11.5zM611.5 549.5l-1 14 0 31.5 0.5 33 1 18.5 0.5-1.5 0.5-10.5 0.5-35-1-36zM618 555l-0.5 16 0 27 0.5 28.5 0.5 15 0.5-0.5 0.5-10 0.5-31.5-1-35-0.5-9zM625 557.5l-0.5 12-0.5 31.5 0.5 28.5 0.5 8 0.5 0.5 0.5-40zM631.5 558l-0.5 13 0 28.5 0.5 31.5 0.5 6.5 0.5-39.5-0.5-30zM638 558l-0.5 44.5 1 36.5 0.5-41-0.5-36zM645 555.5l-0.5 2.5 0 40 0.5 46.5 1-43.5zM651.5 541.5l-0.5 58 0.5 55 1-55zM661 395.5l0-0.5 0.5 1.5 0.5 5 1 24.5 1 113.5 0 187.5-1 50.5-0.5 10.5-1 7.5-1-6.5-0.5-8.5-1-55 0-127.5-0.5-96 0.5-73.5 1-26zM667.5 400l0.5-1 1.5 22 2 54 1 63 0.5 60 0 54-1 54-2.5 68-1 16-0.5 2-1-8.5-1-33-0.5-97 0-183 1-48z"/>
<path fill="#ff6000" d="M412 52l108 0 0 3 0.5 3 99.5 265 3.5 10.5 3.5 7.5 3.5 12.5 1 1.5 1.5 1 1 2 3.5 17 0.5 0.5 2-3.5 1 1.5 3 26 0.5 1 2-13.5 0.5-2 0.5 0.5 1.5 11.5 2 40.5 0.5-3 1.5-32 1-7.5 0.5 0.5 0.5 3 1.5 31 1 45.5 0.5 213-0.5 70.5-1 21.5-1 13.5-0.5 2-0.5-0.5-1-8-1.5-28.5-0.5 3-1.5 32-1.5 11.5-0.5-0.5-0.5-1.5-2-11-2.5 20.5-1 4.5-0.5 0.5-2-3-0.5 0.5-3.5 16-3 3.5-3.5 12-3 6.5-3 9-113 295.5-1 3 0 4.5-100.5 0 0-3 1-4.5 164-433 3-9.5 3.5-7 3-11.5 1-1.5 1.5-0.5 1-2 2.5-15 1-2.5 2 5 0.5 0 0.5-1 3-31 2 16.5 1 4 0.5-1.5 1.5-21 0.5-43.5-0.5-37.5-2-31.5-1-6.5-1 4-1.5 16-0.5 0-2-24-1.5-7.5-0.5-1-0.5 0.5-2 5-1-3.5-2-11.5-1-4-1-1.5-1.5-0.5-1-2-3.5-12.5-3-5.5-4-12-158-409-0.5-3zM604.5 537l-1 22-0.5 39 1 39 0.5 15 1 7 1-4 0.5-13.5 0.5-45-1.5-45-0.5-10.5-0.5-3.5zM611.5 544l-1 15 0 36 0.5 37.5 1 19.5 0.5-1 0.5-12.5 0.5-39-0.5-39zM618 549.5l-0.5 17 0 31.5 0.5 31.5 0.5 17 0.5-0.5 0.5-11.5 0.5-35-1-39-0.5-10zM625 552.5l-0.5 2.5 0 10-0.5 36 0.5 30 0.5 11.5 0.5 1 1-45.5-0.5-30zM631.5 552.5l-0.5 14 0 33 0.5 33 0.5 10.5 1-45-1-33zM638 552l-0.5 47.5 0.5 34.5 0.5 11 1-47-1-40.5zM644.5 550l-0.5 51 1 50 1-50-1-52.5zM651.5 530.5l-0.5 15.5 0 53.5 0.5 65 0.5-13.5 0.5-51.5zM661 403l0-1 1 6.5 1 25 1 106 0 186-1 45-0.5 11-1 7.5-1-6.5-1-22.5-0.5-66-0.5-220.5 1-51zM667.5 406l0.5-0.5 1 11 2 66 1.5 60 0.5 57-0.5 54-1 51-2 63-1 16.5-0.5 2-1-9-1-35-0.5-105 0-163.5 1-52z"/>
<path fill="#ff5000" d="M415.5 52l100.5 0 0 3 0.5 3 103.5 274.5 3.5 10.5 3.5 7 3.5 13.5 1 1 1.5 0.5 1 2 3.5 18.5 0.5 0 2-5 0.5 0 0.5 1.5 1 6.5 2 22.5 0.5 1.5 2-17 0.5-2 0.5-0.5 1 6 1 13 1.5 45 0.5-3 1.5-40.5 1-11 0.5 0.5 0.5 3 1.5 30 1 45 0.5 199.5-1 70.5-0.5 21-1 15-0.5 2-0.5-3.5-1-8-1.5-36.5-0.5 3-1.5 41-0.5 7-1 5.5-0.5 0-0.5-2-2-15-2.5 24-1 4.5-0.5 0.5-0.5-0.5-1.5-3.5-0.5 0-3.5 17.5-1 1-1.5 1-0.5 0.5-3.5 12.5-3 6-3.5 10.5-116 303.5-0.5 2.5 0 4.5-94.5 0 0-3 1-4.5 161-424.5 3-8.5 3.5-8 3-10.5 1-2 1.5-1 1-2 3-15 0.5-1 0.5 0 1.5 3 0.5 0 0.5-1.5 3-25.5 0.5 0.5 1.5 10.5 1 3.5 0.5-1 1.5-13.5 1-41 0.5-2.5 2 36 1 12 0.5-1 1.5-23 0-39-0.5-40.5-1.5-27.5-0.5-3.5-0.5-1-1 12.5-1.5 38-2-45.5-1-9.5-1-5.5-0.5 0-0.5 2-1.5 11.5-0.5 0.5-3.5-26-1-1.5-1.5 3-0.5 0-0.5-1-3.5-16-1-1.5-1.5-1.5-1-2-3.5-12-3.5-7-3.5-10.5-154-400-1-3zM611.5 538l-0.5 3-0.5 15-0.5 40.5 1 40.5 1 20.5 0.5-0.5 1-12.5 0-40.5-0.5-45zM618 543.5l-0.5 21.5-0.5 42 1 36 0.5 9 0.5 0 1-22.5 0-37.5-1-38.5-0.5-8.5zM625 547l-0.5 1.5 0 10.5-0.5 37.5 0.5 40 0.5 11.5 0.5 1 0.5-18 0.5-33-0.5-33zM631.5 546.5l-0.5 15.5 0 37.5 0.5 36 0.5 13.5 0.5-16.5 0.5-34.5-0.5-36zM638 545l-0.5 53 0.5 39 0.5 14.5 0.5-14 0.5-39.5-1-42zM644.5 540.5l-0.5 60.5 1 58 0.5-13.5 0.5-47.5-1-57zM651.5 514.5l-0.5 12.5 0 72.5 0.5 79.5 0.5-11.5 0.5-68zM661 409l0-0.5 0.5 1.5 0.5 5 1 26.5 1 110 0 174-1 38-0.5 11.5-1 8-1-7-1-25-0.5-70.5 0-205.5 0.5-46 0.5-11.5zM668 412l1.5 23.5 2 62 1 54 0 52.5 0 51-1 49.5-2 56-1 17-0.5 2.5-1-9.5-1-42-0.5-171 0.5-107.5 1-32 0.5-5z"/>
<path fill="#ff4000" d="M420 52l92 0 0 3 0.5 3 104 276.5 3.5 8 3.5 11 3.5 6.5 3.5 14 1 1.5 1.5-1 1 1.5 3.5 21.5 0.5 0 2-8 0.5 0 0.5 1 1 7 2.5 30 2-23 0.5-3 0.5 0 1.5 10.5 1 28.5 1 37.5-0.5 121.5 1 109.5-0.5 51-1 16.5-1 11.5-0.5 2-0.5-0.5-0.5-2-2-20-0.5 2-1.5 25-1.5 6.5-0.5 0-0.5-0.5-1.5-5.5-0.5 0-2.5 15.5-1 3.5-1 1-1.5 0-0.5 1-3.5 13-3 5.5-3.5 10.5-3 7-116.5 307-0.5 1.5 0 4.5-87.5 0 0-4.5 162-427.5 3-7 3.5-11 3-5 3-13.5 1-1.5 1.5 1.5 1-1 2.5-19 0.5-2.5 0.5-0.5 2 8.5 0.5 1.5 0.5-1 1-9.5 2-32 2 25 1 6.5 0.5-0.5 1.5-21.5 0.5-43.5-0.5-42-1.5-34.5-1-7-0.5-1-1 7-1.5 25-0.5-1.5-2-33-1.5-8-0.5-0.5-0.5 1-1.5 8.5-0.5 0.5-3.5-22-1-2-1.5 1-0.5 0-0.5-0.5-3.5-14.5-3.5-6-3.5-11-3.5-8-153.5-400.5-0.5-3zM611.5 531l-0.5 2.5-0.5 13.5-0.5 46.5 0.5 42 1 19.5 0.5 9.5 0.5-0.5 0.5-3 0.5-12 0.5-45-1-46.5-0.5-16.5zM618 536.5l-1 21 0 43.5 1 43.5 0.5 13.5 0.5 0.5 1-24.5 0-43.5-1-40.5-0.5-11zM625 540.5l-0.5 1-0.5 13 0 42 0.5 45 0.5 12.5 0.5 2 1-20.5 0-37.5-0.5-37.5zM631.5 540l-0.5 17.5-0.5 42 0.5 39 1 17.5 0.5-19 0.5-39-0.5-39zM638 537l-0.5 19 0 42 0.5 43.5 0.5 17.5 0.5-16 0.5-45-0.5-45zM644.5 528.5l-0.5 74 1 66.5 0.5-12.5 0.5-58.5-1-67zM654 410.5l0.5-0.5 0.5 3.5 1.5 22.5 1 84 0 198-1 46-0.5 10-1 8-1-5.5-0.5-15-1.5-52.5 0.5-109.5-0.5-124.5 0.5-43zM661 416.5l0-0.5 1 6.5 1 27 1 102-0.5 171-0.5 36-0.5 10.5-1 7-1-7.5-1-23.5-0.5-73.5 0-190.5 0.5-42.5 0.5-13zM667.5 419.5l0.5-0.5 1 11.5 1.5 52 1.5 60 0.5 57-0.5 49.5-0.5 49.5-2 55-1 17-0.5 3-1-9.5-1-40-0.5-105 0.5-147 0.5-35z"/>
<path fill="#ff3000" d="M424.5 52l83 0 0 3 0.5 3 105 277.5 3.5 10 3.5 7.5 3.5 12 1 2 2.5 3.5 3.5 15.5 0.5 1 0.5 0 1.5-2 1 1 1 4.5 2.5 20.5 0.5-0.5 1.5-9 1-2.5 0.5 1 1.5 13 2 34.5 2-29.5 0.5-7.5 0.5-0.5 1 5.5 0.5 7 1 30 0.5 36 0 111 0.5 102-0.5 51-1.5 27.5-0.5 2-0.5-0.5-1-6.5-1.5-24.5-0.5 2-1.5 29-1.5 11-0.5 0-0.5-1.5-2-8.5-2.5 18.5-1 4-0.5 0.5-2-1.5-0.5 0.5-3.5 15-3 4.5-3.5 11.5-3 6.5-120 315.5-1 3 0 4.5-79.5 0 0-4.5 158-417.5 3-7 3.5-10.5 3-5.5 3-12 1-2 1.5 0 1-1 2.5-16 1-3.5 2 6 0.5 0.5 0.5-0.5 1-7 2-26 0.5 1 2 19.5 0.5 2 0.5-0.5 1-10.5 0.5-16.5 1-48-0.5-37.5-2-42.5-0.5-8.5-1-3-1 4.5-1.5 18-0.5 0-2-25.5-1.5-8-0.5-1-0.5 0.5-2 6-4-20.5-0.5-0.5-1.5 0-1-1-3.5-13-3.5-7-3.5-10.5-3.5-8.5-149-389.5-0.5-3zM611 523.5l-1 25-0.5 49.5 1 46.5 0.5 18 1 9.5 0.5 0 0.5-5 0.5-15 0.5-57-1-54-1-14-0.5-4zM618 529l-0.5 6-0.5 18 0 49.5 0.5 48 1 15 0.5 0.5 1-23 0-46.5-0.5-48-1-17zM624.5 533l-0.5 27.5 0 45 0.5 43.5 0.5 12 0.5 2.5 1-26.5 0-48-1-47-0.5-8.5zM631.5 532l-0.5 4.5 0 13.5-0.5 45 0.5 47 1 21.5 1-20.5 0-45-0.5-43.5zM638 527l-0.5 21.5 0 49.5 0.5 48 0.5 22.5 0.5-19.5 0.5-51-0.5-49.5zM644.5 511l-0.5 87 1 85 0.5-16 0.5-69-1-80.5zM654.5 418l1 10 0.5 11.5 1 43 0.5 177-0.5 78-1 29-1 8-1-5.5-0.5-9-1-46.5 0-115.5-0.5-99 0.5-58.5 1-18.5 0.5-3.5zM661 424l0-1 0.5 1.5 0.5 5 1 29 1 96-0.5 166.5-1 40-1 8.5-1-8-0.5-24-1-77.5 0-176 0.5-39zM667.5 427l0.5-1 1 12 1 34 1.5 66 0.5 60 0 51-1 51-1.5 48-1 16.5-0.5 2.5-1-10-1-34.5-0.5-105 0.5-139.5 0.5-32.5z"/>
<path fill="#ff2000" d="M429.5 52l73 0 0 3 0.5 3 110 289.5 4 12 3 5.5 3.5 13 1 2 1.5 0.5 1 1 4 19.5 0.5-0.5 1.5-4 0.5-0.5 0.5 0.5 1.5 9 2 22 0.5 0 1.5-14.5 1-4 1 3 1 12 1.5 28.5 0.5 27-0.5 118.5 1 118.5-1 40.5-1.5 24-0.5 2-0.5 0-2.5-16-2.5 23.5-1 4.5-0.5 0.5-0.5-0.5-1.5-3-0.5 0-3.5 17-3 3-3.5 12.5-3 6-3.5 10-120.5 317-1 3 0 4.5-71.5 0 0-4.5 157-413 3.5-10.5 3-6 3.5-11.5 0.5-1.5 1.5-1 1-1.5 3.5-17 0.5 0 1.5 3.5 0.5 0.5 0.5-1 1-5.5 1.5-17.5 0.5-3.5 0.5-0.5 2 14 0.5 2 0.5-0.5 1.5-14 1.5-42.5 2.5 39.5 0.5 8 0.5 0 1.5-21.5 0.5-46.5-0.5-49.5-1.5-38-1-11.5-0.5 0-1 10.5-1.5 38-2.5-45.5-1.5-13-0.5 0.5-0.5 2-1.5 13-0.5 0.5-3.5-27.5-0.5-1-0.5 0-2 3.5-1-3-3-15-1-1.5-1.5-1-1-2-3.5-12-3.5-7.5-3.5-10-147-385-0.5-3zM618 520l-0.5 4.5-0.5 18-0.5 54 1 55.5 0.5 15.5 0.5 6.5 0.5 1 1-27.5 0.5-52.5-1-52.5-1-18zM624.5 523.5l-1 29.5 0 55.5 1 46.5 0.5 14.5 0.5 2.5 1-24.5 0-51-0.5-54-1-18zM631.5 522l-0.5 3-0.5 16 0 52.5 0.5 54 1 26 1-24.5 0-51-0.5-48zM638 513.5l-0.5 26-0.5 58.5 1 54 0.5 28.5 1-24 0-58.5-0.5-54zM647.5 419.5l0-0.5 1 5.5 1 19.5 1 65.5 0.5 205.5-1 41.5-0.5 10-1 7-0.5-0.5-0.5-3.5-0.5-11-1.5-42 0.5-118.5-1-120 1-39 0.5-14.5zM654 427l0.5-1 1 10.5 0.5 12 1 86.5 0 175.5-0.5 36-0.5 11.5-1 9-1-6.5-0.5-17-1-58.5 0-199.5 0.5-39zM661 431.5l0-0.5 0.5 1 0.5 5.5 1 30 1 91.5-0.5 150.5-1 43.5-1 9-1-8.5-0.5-22-1-82.5 0-157.5 1-42zM667.5 434.5l0.5-1.5 1 12.5 1.5 46 1.5 105-0.5 49.5-0.5 49.5-1.5 48-1 14-0.5 2.5-1-10.5-0.5-27-1-103.5 0.5-138 0.5-27z"/>
<path fill="#ff1000" d="M435 52l61.5 0 0 3 1 3 112.5 296.5 3.5 8 3.5 11 3.5 6 3.5 15 0.5 0.5 0.5 0 1.5-1 1 1.5 3.5 22.5 2-9 0.5-1 0.5 0.5 1.5 9.5 2 35 0.5 1 1.5-25.5 1-9 0.5 0.5 0.5 2.5 1 13 1.5 50 0 114 0.5 108-0.5 39-1.5 24.5-0.5 2.5-0.5-0.5-1-5.5-1.5-22.5-0.5 2-1.5 28-1.5 9-0.5 0.5-0.5-1-2-7-2.5 16.5-1 4-0.5 1-2-0.5-0.5 1-3.5 13.5-3 5-3.5 11-3 7-123 324-0.5 1.5 0 4.5-61.5 0 0-4.5 155.5-410.5 3-6.5 3.5-11.5 3-4 3.5-15 0.5-0.5 1.5 1.5 0.5 0 0.5-0.5 1-5 2-17 0.5-1 2 9.5 0.5 1.5 0.5-0.5 1-8.5 2-33.5 0.5 1 2 28 0.5 3.5 0.5 0 1-8 0.5-15 1-55.5-0.5-46.5-1.5-48-1-11-0.5-4.5-0.5-1-1 8-1.5 26-0.5-1.5-2-34-1.5-8.5-0.5 0-0.5 1.5-1.5 9-0.5 1-3-21-1-3.5-0.5-0.5-0.5 0-1.5 1.5-0.5-0.5-3.5-15-3.5-6-3.5-11.5-3.5-7.5-144.5-381.5-1-3zM618 509l-0.5 1.5-0.5 6.5-0.5 21-0.5 63 1.5 60 0.5 17 0.5 6 0.5 1.5 1-9.5 0.5-21 0-61.5-1-55.5-0.5-16.5zM624.5 511.5l-1 31 0 57 1 60 0.5 20.5 0.5 3 1-28 0.5-60-1-60-1-21zM631.5 509.5l-0.5 1-0.5 18 0 65 0.5 61.5 1 31 1-25 0-57-0.5-57zM638 490.5l-0.5 35.5-0.5 70.5 0.5 60 1 43 0.5-6.5 0.5-21.5 0-67.5-0.5-66zM647.5 428.5l0.5 1 0.5 4.5 1 21.5 1 67.5 0 187.5-0.5 36-0.5 10-1 8.5-0.5-1-0.5-4-0.5-13.5-1-46.5 0-99-0.5-121.5 0.5-34.5 0.5-10.5zM654 436l0.5-1.5 1 10.5 0.5 18 1 78 0 163.5-0.5 39-1 13-0.5 2.5-1-7.5-0.5-12.5-1-60 0-186 0.5-40.5zM661 439l0.5 1 0.5 5.5 1 31.5 1 88-0.5 131.5-1 45.5-0.5 10.5-0.5 2-1-9.5-1-42-0.5-133.5 0.5-96 0.5-21.5zM667.5 442l0.5-1 1 13 1 30 1 60 0.5 54 0 49.5-1 51-1.5 44-1 10.5-1-11.5-0.5-22-0.5-106.5 0-119.5 0.5-30z"/>
<path fill="#ff0000" d="M442.5 52l47 0 0 3 0.5 3 116.5 303 3.5 10.5 3.5 7 3.5 13 1 1.5 1.5 0.5 1 1.5 3 17 0.5 2 0.5 0.5 2-5.5 0.5 0 0.5 1 1.5 10 2 26 2-20.5 0.5-4 0.5-0.5 1.5 9 1 18 0.5 34.5 0 114 1 123-0.5 31.5-1.5 19-0.5 2-0.5 0-1-5-1.5-13.5-0.5 1.5-1.5 21.5-1.5 7.5-0.5 0.5-0.5-0.5-1.5-3.5-0.5 0-3.5 17.5-3 3-3.5 12.5-3 6-3.5 10.5-125 329-0.5 1.5 0 4.5-50.5 0 0-4.5 150-395 3.5-8 3-9.5 3-5 3.5-14 0.5-0.5 2 0 0.5-0.5 3.5-20 0.5 0.5 1.5 6 0.5 1 0.5-0.5 1.5-7.5 1.5-26 0.5-0.5 2 21 0.5 2.5 0.5 0.5 1-6.5 0.5-12 1.5-60.5 2 57.5 1 14 0.5 1.5 0.5-5 1-18 0.5-54-0.5-63-1-45-1.5-19.5-0.5 0.5-0.5 11.5-1.5 54.5-0.5 7-2-61.5-1-12.5-1-6.5-1 5-1.5 19.5-0.5 0.5-2.5-28.5-1-6.5-0.5-1-0.5 0.5-2 7.5-1-3.5-2-13.5-1-4-1-1.5-1.5 0.5-1-2-3.5-13.5-3.5-6.5-3.5-11-3.5-8.5-137-363-0.5-3zM624.5 495l-0.5 8.5-0.5 27-0.5 72 1 66 1 24 0.5 5 0.5-6.5 1-25.5 0-70.5-1-67-1-26zM631 485.5l-1 48 0 70.5 1 64.5 1 37 0.5-4.5 0.5-27 0.5-77.5-1-76.5-1-32zM640.5 431.5l0.5-0.5 0.5 2.5 1 15 1 56.5 0.5 205.5-0.5 33.5-0.5 10.5-1 8-0.5-0.5-0.5-3-0.5-9.5-1-36 0.5-112.5-1-126 0.5-28.5zM647.5 439l0-0.5 0.5 1 0.5 4.5 1 20.5 1 66 0 171-0.5 37.5-1 13.5-0.5 3-0.5-1.5-0.5-4.5-0.5-10.5-0.5-48-0.5-202.5 0.5-34.5zM654 445l0.5-1.5 1 11 1 22 0.5 87 0 135-1 41.5-1 10.5-1-8.5-0.5-12.5-0.5-61-0.5-166.5 0.5-37zM661 448l0-0.5 0.5 0.5 0.5 6 1 24 0.5 88.5 0 129-1 41-1 10.5-1-10.5-0.5-15.5-0.5-88.5 0-135 0.5-35.5zM668 449.5l0-0.5 1 13.5 1 33.5 1.5 103.5-1.5 96-1 39-1 11-1-12-0.5-21.5-0.5-112.5 0-103.5 1-38z"/>
<path fill="#ef0000" d="M453 52l25.5 0 0 3 1 3 120 308 4 12 3.5 6.5 3.5 13 0.5 0.5 2 1 1 2 3.5 19 2.5-6.5 1 2 2 14.5 1 24-1 85.5 0 64.5 1 72 1.5 51.5 0.5-3.5 1-34.5 0.5-78-1-66-1.5-90 0.5-19.5 1.5-10 0.5 0.5 0.5 2 0.5 4.5 1.5 28.5 0 138 1.5 126-0.5 25.5-1.5 15-0.5 2.5-0.5 0-1-5.5-1.5-15-0.5 1.5-1.5 22.5-1.5 8.5-0.5 0.5-0.5-0.5-1.5-3-0.5 0-3.5 17-3 3.5-3.5 12-3 6.5-3.5 10-125.5 331-1 3 0 4.5-35.5 0 0-4.5 146-383 3-9 3-6 3.5-12 0.5-1 2-1 0.5-1 3.5-17.5 0.5 0 1.5 3.5 0.5 1 0.5 0 1-5 2-22.5 0.5-2 2 16 1 3.5 1.5-12.5 1.5-44.5 0.5 0.5 2 42.5 1 9.5 0.5-2.5 1-19 0.5-57 0-48-0.5-60-1.5-44.5-1-17.5-0.5-2-1 14.5-1.5 43-0.5-3-2-46-1.5-12.5-0.5 0-0.5 3-2 18-1-6.5-2-21-1-4.5-0.5 0-0.5 1-1.5 4-0.5 0-0.5-2-3-16-1-2-1.5-1-1-1.5-3.5-12.5-3.5-7.5-3.5-10.5-62-165.5-67.5-183-1-3zM634 436l0.5 1 0.5 3.5 1 12 0.5 45 1 216-0.5 30-1.5 15-0.5-0.5-0.5-2.5-0.5-7.5-1-28.5 0.5-121.5-1-126 0.5-24zM641 443.5l1 8.5 0.5 14 1 61.5 0.5 175.5-0.5 34.5-1.5 13.5-0.5-1-0.5-4.5-0.5-9-0.5-39.5-0.5-213 0.5-30 0.5-9zM647.5 449.5l0.5 0.5 0.5 4.5 1 19 0.5 69 0.5 153-1 39-1 11-1-7.5-0.5-12-0.5-48.5-0.5-181.5 0.5-32.5zM654.5 454l0-1 1 11 0.5 15.5 1 97.5 0 121.5-1 31.5-1 11.5-1-9.5-0.5-15-0.5-66.5 0-147 0.5-36zM661 457l0-0.5 0.5 0.5 0.5 6 0.5 12.5 1 94 0 126-1 32-1 11-1-11-0.5-17.5-0.5-82 0-127 0.5-28zM668 458.5l0-1 1 14 1 33.5 1 91.5-1 93.5-1 36-1 11.5-1-13-0.5-20-0.5-93 0.5-103.5 0.5-34.5z"/>
<path fill="#df0000" d="M614 440.5l0-1 0.5 2.5 0.5 12 0 16.5-0.5 8.5-1-20.5zM620.5 443.5l0-1 0.5 0.5 1 6.5 0.5 24-0.5 81.5-0.5 5-1.5-89.5 0-18zM627.5 448l0-0.5 0.5 2 1 12 0.5 36 0 108 1 106.5-0.5 25.5-1 11-0.5-0.5-0.5-6-0.5-24 0-123-1-118.5 0-20zM634 454l0-1 0.5 0 1 13 1 48 0.5 186-0.5 31-1 11.5-0.5-0.5-0.5-9-0.5-30-0.5-99-0.5-114 0-22.5zM641 458.5l0-1.5 1 9 0.5 13.5 1 52.5 0 162-0.5 31.5-1 12.5-0.5-3.5-0.5-12-1-39-0.5-183 0.5-30zM647.5 461.5l0.5 0 0.5 5 0.5 11.5 1 74 0 139-0.5 30.5-1 12.5-1-8.5-0.5-16-0.5-52 0-151 0-28.5zM654.5 464.5l0-1 1 11.5 0.5 16.5 1 85.5-0.5 117-0.5 24.5-1 13-1-10.5-0.5-17.5-0.5-63.5 0-132 0.5-32.5zM661 466l0.5 0.5 0.5 6 0.5 19 1 97.5-0.5 107.5-0.5 21-1 12-1-12-0.5-19.5-0.5-77.5 0-105 0.5-30zM668 467.5l0-1 1 15 1 26.5 0.5 88.5-0.5 88.5-1 31.5-1 12.5-1-14-0.5-22-0.5-81.5 0.5-103.5 0.5-31zM622 629.5l2 93-0.5 23-1 10-0.5-0.5-0.5-5.5-0.5-18zM616 709l0-1 1.5 32.5-0.5 13.5-1 9-0.5 0-0.5-3-0.5-12 0.5-24zM609.5 748l0.5 1.5 0.5 9-0.5 9-0.5 3.5-0.5-0.5 0-1.5-0.5-6z"/>
<path fill="#cf0000" d="M634.5 473.5l1 16 0.5 53 0.5 142.5 0 25.5-1 13-0.5-2-0.5-9.5-0.5-42-0.5-165 0.5-22.5zM641 473.5l0-1 0.5 2 0.5 7.5 0.5 12.5 0.5 54 0.5 132-0.5 25.5-1 17.5-0.5-2-0.5-11-0.5-45-0.5-153 0.5-25.5zM647.5 475l0.5-1 1 16 0.5 18 0.5 67.5 0 105-0.5 25.5-1 16-0.5-2.5-0.5-18-0.5-55.5-0.5-129 0.5-28.5zM654.5 475l0-0.5 1 12 0.5 18.5 0.5 78 0 94.5-0.5 28.5-1 15-1-12-0.5-21.5-0.5-77 0-96.5 0.5-24.5zM661 476.5l0-0.5 0.5 0.5 0.5 6 0.5 14.5 1 89-0.5 96.5-0.5 24-1 13.5-1-13.5-0.5-22.5-0.5-78.5 0.5-90zM668 476.5l0-0.5 1 14 0.5 21.5 1 88-1 84-0.5 23-1 13-1-15-0.5-24.5-0.5-82 0.5-88 0.5-22zM628 481l0-0.5 0.5 14 0.5 38 1 154-0.5 24-0.5 8.5-0.5-4-0.5-22.5-0.5-187.5z"/>
<path fill="#bf0000" d="M654.5 487l0-0.5 1 12.5 0.5 19.5 0.5 64.5 0 88.5-0.5 24-1 14-0.5-9.5-0.5-21-0.5-75 0-85.5 0.5-22.5zM668 487l0-1 1 17.5 0.5 23 0.5 71.5-0.5 76-0.5 21.5-1 14.5-1-13 0-22.5-0.5-75 0-73.5 0.5-26.5zM648 488.5l0-0.5 1 24.5 1 81-0.5 85.5-0.5 24.5-0.5 5-0.5-5.5-0.5-21-0.5-78 0-85.5 0-19.5zM661 488.5l0-1.5 0.5 0 1 23 1 71.5-0.5 84-0.5 29-1 15-0.5-6.5-0.5-22.5-0.5-69 0-87zM641 493l0-1.5 0.5 0.5 1 22 0.5 66 0 93-0.5 26.5-0.5 6.5-0.5-2.5-0.5-13-0.5-45.5 0-114.5zM634.5 502l0-1 0.5 3.5 0.5 18 0.5 63.5 0 82.5-0.5 28.5-0.5-9-0.5-33-0.5-120z"/>
<path fill="#af0000" d="M668 497.5l0.5 5 1 29.5 0.5 69-0.5 66-1 27-0.5 5-0.5-4.5-0.5-23-0.5-76.5 0.5-72 0.5-22.5zM654.5 500.5l0-0.5 0.5 2.5 1 20.5 0.5 70.5-0.5 79.5-1 23.5-1-17-0.5-69.5 0-80zM661 500.5l0.5-1.5 1 25.5 0.5 55.5 0 84-0.5 25.5-1 8.5-1-17.5-0.5-66 0-78zM648 505l0-1 1 22 0.5 60 0 74-0.5 26-0.5 6.5-0.5-3-0.5-15-0.5-58.5 0-84.5zM641.5 515.5l0-1.5 1 34.5 0.5 52.5-0.5 58.5-0.5 24.5-0.5-3.5-0.5-21 0-45-0.5-69zM635 553l0.5 66 0 22.5-0.5 0 0-61.5z"/>
<path fill="#9f0000" d="M668 511l0-1 1 23 0.5 65-0.5 66-1 23-1-23-0.5-66 0.5-68.5zM661 514l0.5-1.5 1 30 0.5 46.5-0.5 74-1 22-1-21.5-0.5-57.5 0.5-59zM654.5 517l0-1 0.5 2 0.5 12.5 0.5 55.5 0 63-0.5 26-0.5 6.5-0.5-4-0.5-17.5-0.5-56 0.5-57zM648 524.5l0.5 5 0.5 21 0.5 44.5 0 54-1 24-0.5-4-0.5-21.5 0-43.5 0-57zM641.5 547l0-0.5 1 45.5-0.5 58.5-0.5-4-0.5-47z"/>
<path fill="#8f0000" d="M668 526l0-1 1 28.5 0.5 44.5-0.5 48.5-1 26-1-29 0-42.5 0-50.5zM661.5 529l0-0.5 1 24.5 0 48 0 43.5-1 25-1-28.5 0-46 0-46.5 0.5-18zM654.5 536.5l0-0.5 0.5 1 0.5 16.5 0.5 37 0 49.5-1 22.5-0.5-10.5-0.5-40.5 0-52.5zM648 554.5l0-1.5 0.5 5 0.5 37-0.5 50-0.5-5.5-0.5-32.5z"/>
<path fill="#800000" d="M668 544l0-0.5 0.5 14 0.5 42-0.5 42-0.5 13-0.5-13-0.5-43.5 0.5-40.5zM661.5 550l0-0.5 0.5 13 0.5 38.5-0.5 38.5-0.5 9.5-0.5-9-0.5-43.5 0.5-37.5zM655 566.5l0-1 0.5 37-0.5 32-0.5-27.5z"/></g></g>
<g clip-path="url(#cr)"><g filter="url(#bh)"><rect x="1310" y="0" width="940" height="1220" fill="#fff"/><path fill="#dbdbff" d="M1534.5 52l60.5 0 0 192-0.5 18-2.5 45 0.5 10.5 1 1.5 1.5-9 2-25.5 0.5-4.5 1-1.5 1-0.5 2 1 6 5 6 4 15 8 15 5.5 17 5 21 3.5 27 3.5 38 3 29 1 18 0 16-1 15-2 13-2.5 13-4 12-5 10-5.5 19-12 7-3.5 5-1.5 4 0 4 0.5 5 1.5 8.5 5 9.5 8.5 43 49 15 15.5 17 16 32 28.5 77 65.5 18.5 16.5 15.5 15 16.5 18 14.5 18 10.5 16.5 7.5 16.5 4 13.5 2 13.5 0 10.5-2 13.5-3.5 12-5.5 13.5-8 13.5-9.5 13.5-8.5 10.5-11 12-26.5 25.5-28 24-69.5 58-32 28.5-18 17.5-17 18.5-6 7.5-3 5.5-2.5 8.5-1.5 12.5-2 44.5-0.5 42 0 175.5-60.5 0 0-160.5 1-79.5-1.5-25.5-0.5-6.5-1-4-1-2-1 0.5-3 3.5-2 0.5-16-6.5-16-4.5-19-4-22-3-87-7.5-23-1-19 0-24 1.5-21 3.5-11 3-11 3.5-29 13.5-8 3-5 1.5-5 0-5 0-4-1-9-4.5-10-8-41-43-15-14-17-15.5-23-19-57.5-46-29.5-24.5 0-243 28-25 62-53 31-28 19-18.5 17-18 10-11.5 6-9.5 1 1.5 1.5 12.5 1.5 3 1-2.5 1-11 0.5-13.5-2-39 0.5-72zM1950.5 836l-1 1.5-0.5 5 0.5 3.5 1 4 0.5-7.5z"/>
<path fill="#b6b6ff" d="M1535 52l59.5 0 0 186-0.5 27-2.5 42 1 12 1 1.5 1-7.5 3-26 1-3 1-1 2 0.5 7 5 8 5.5 13 6.5 15 6 17 4.5 21 4 27 3 38 3 29 1 18 0 16-1 14-2 13-2.5 13-4 12-5.5 11-6 18-11.5 7-3.5 5-1.5 4-0.5 4 0.5 5 1.5 8 5 10 9 42 48.5 15 16 16 15.5 29 27 70.5 62 17.5 16.5 15 15 16.5 18 14 18 10 16.5 8 16.5 4 13.5 2 12 0.5 12-2 13.5-3.5 13.5-5.5 13.5-7.5 13.5-9 13.5-8.5 10.5-10.5 12-25.5 25.5-26.5 24-63.5 55-32 29.5-16 16.5-17 18.5-5 6.5-3 5.5-2.5 8-2 12-1 18-1 27-0.5 46.5 0 175.5-59.5 0 0-159 0.5-79.5-1-27-1-8.5-1-4.5-1-2-1 0-3 3-2 0-16-6.5-15-4.5-17-3.5-21-3-89-7.5-23-1.5-20 0-24 1-22 4-11 3-11 4-29 13.5-8 3-5 1.5-5 0.5-5-0.5-4-1-8-4-9-6.5-9-9-31-34-24-23-28-25-65-54-28-25.5 0-223 27.5-26 66.5-59 29-27.5 17-17 15-16 11-12.5 6-9 1-0.5 1 2 1.5 9 0.5 1.5 1 0.5 1-3 1.5-12.5 0.5-13.5-2.5-43.5 1-70.5zM1950.5 835l-1 1.5-0.5 6 0.5 5 1 4 1-9z"/>
<path fill="#9292ff" d="M1535 52l59.5 0 0 181.5-0.5 27-2.5 46.5 1 13.5 1 1.5 1.5-7.5 2.5-22.5 1-3 1-1.5 1 0 16 10.5 14 7.5 15 5.5 17 5 22 3.5 27 3.5 38 3 29 1 18-0.5 15-1 14-2 13-3 13-4 12-5.5 10-5.5 18-12 7-3.5 5-1.5 4-0.5 4 0.5 5 1.5 8.5 5 9.5 9 41 48 29 30.5 27 26 66 60.5 17 16.5 14.5 15 15.5 18 13.5 18 10 16.5 6.5 15 4.5 13.5 2 13.5 0.5 12-1.5 13.5-3 12-5 13.5-7 13.5-8.5 13.5-8 10.5-10 12-24 25.5-25.5 24-63.5 57-30 29.5-15 16-15 17-4 5.5-3 6.5-2.5 9.5-1.5 12-1.5 46.5-0.5 46.5 0 174-59.5 0 0.5-240-1-28.5-1-8-1-4.5-1-2-1-0.5-3 2-2 0.5-16-6.5-14-4.5-17-3.5-19-3-91-8-23-1.5-20-0.5-25 1.5-22 4-11 3-11 4-29 14-8 3.5-5 1-5 0.5-5-0.5-4-1-8-3.5-9.5-7.5-9-9-28.5-32-22-22.5-26-24-66.5-58-32.5-31.5 0-201.5 33.5-34 65.5-60.5 27-26.5 28-29.5 11-13 7-9.5 1 0.5 1 2 2 7.5 1 0 1-3.5 1.5-13 0.5-15-2-48 0.5-69zM1950.5 833.5l-1 2-0.5 7 0.5 6.5 1 4.5 0.5-3.5 0.5-7.5z"/>
<path fill="#6d6dff" d="M1535.5 52l58.5 0 0 181.5-0.5 24-2 49.5 0.5 15 1.5 1.5 1-6 3-20.5 1-3.5 1-1 1-0.5 2 1 15 10 13 7 15 6 17 4.5 22 4 27 3 39 3 29 1 17 0 16-1.5 14-2 13-3 13-4.5 12-5.5 10-6 17-11.5 7-4 5-1.5 4-0.5 4 0.5 5 1.5 8 5 10 9 41 49.5 28 30.5 24 23.5 60.5 58 29 30 15.5 18 13 18 9.5 16.5 7 15 4 13.5 2.5 13.5 0.5 13.5-1 12-2.5 12-5 13.5-6.5 13.5-8 13.5-8.5 12-9.5 12-23 25.5-24.5 24-60 56.5-29 29-27 31.5-4 6-3 6-2 9-1 11.5-2 48.5-0.5 49.5 0 172.5-58.5 0 0.5-240-1.5-31-1-8.5-2-6.5-1-0.5-3 1.5-2 0-15-6.5-14-4.5-16-3.5-18-3-26-2.5-66-5.5-24-1.5-20-0.5-25 1.5-22 3.5-12 3.5-11 4-29 14.5-8.5 3.5-5.5 1.5-5 0-5-0.5-4-1-8-4.5-9.5-7.5-8.5-9-26-30-19-20-25-24-68-62.5-19.5-19.5-17.5-19.5 0-177 18-21 18.5-19.5 69.5-67 25-25.5 24-26.5 10-12 6-8 1-0.5 1 0.5 3 7 1-1 1-3.5 1-9 1-21-1.5-51zM1950.5 832.5l-1 1.5-1 8.5 1 8.5 1 4.5 1-2.5 0-9 0-6z"/>
<path fill="#4949ff" d="M1535.5 52l58.5 0 0 178.5-2.5 78 0.5 15 1.5 2 1.5-6.5 2.5-17.5 1-3 1-1.5 1-0.5 2 0.5 18 12.5 14 7 17 6 20 4.5 32 4.5 46 3.5 31 1.5 27-1 13-1.5 12-2.5 11-3 10-3.5 15-7.5 23-16 9-4.5 4-1 4-0.5 4 0.5 4 1.5 8 5 9 8 9 10.5 30 37.5 22 25 25 26 60 59.5 26.5 28.5 14.5 18 13 18 9.5 16.5 6.5 15 4.5 13.5 2.5 13.5 1 13.5-1 12-3 13.5-4.5 13.5-6 13.5-8 13.5-7 10.5-9 12-22 25.5-23.5 24-58 57-28 30-23 27-4 6-3.5 7.5-2 7.5-1 10.5-1.5 51-0.5 52.5 0 172.5-58.5 0 0.5-243-2-33-1.5-10.5-1-2.5-1-0.5-5 0.5-16-6.5-13-4.5-16-3.5-18-3-27-3-66-5.5-23-1.5-20-0.5-25 1.5-11 1.5-11 2.5-12 3.5-11 4-10 5-19 10-9 3.5-5 1.5-5 0.5-5-1-4-1-8-4.5-9-7.5-8-8.5-28-33-19-20-23-23-49.5-47-18-18-20.5-22.5-18-23 0-148.5 16.5-22 18-21 22.5-24 50-50 22-22.5 24-27 18-22.5 1-0.5 1 0.5 2 4 1 1 1-1.5 2-13.5 1-22.5-1.5-55.5zM1950.5 831l-1 2-1 9.5 1 10 1 5.5 1-1 0-1 0.5-10.5-0.5-7.5z"/>
<path fill="#2424ff" d="M1536 52l57.5 0 0 175.5-2.5 81 1 15 0.5 3 1 1 1-5.5 3-16 1-3 1-1.5 1-0.5 3 1.5 17 11.5 14 7 17 6 19 4.5 31 4.5 44 4 33 1 27-0.5 22-3 19-5.5 10-4 10-5 9-5.5 16-12 7-3.5 5-2 4-0.5 4 0 5 1.5 8 5 9 8.5 9 10.5 29 37 20 23.5 24 26 55.5 57.5 24 27 14.5 18 12.5 18 9.5 16.5 7 16.5 4 13.5 2.5 13.5 1 12-1 13.5-2.5 13.5-4.5 13.5-6 13.5-7 13.5-7 10.5-8.5 12-21.5 25.5-22 24-55.5 56.5-27 30-20 25-4 6.5-4 8-1.5 6-0.5 9-1.5 63-0.5 217.5-57.5 0 0-244.5-1.5-33-2-12-2-3.5-6 0-16-7-15-5-14-3-15-2.5-26-3-68-6-24-1.5-20 0-25 1.5-11 1.5-11 2.5-12 3.5-11 4-10 5-19.5 10.5-8.5 3.5-5 1.5-5 0.5-5-0.5-5-2-8-4.5-9-8-33-39.5-18-20-21-21.5-48-47.5-20-21-13-15-12-15-9-13.5-9-15 0-113 9-16 10.5-15 12.5-16.5 14-16.5 19.5-21 66.5-70.5 21-24 17-21.5 2-1.5 1 0.5 2 3 1 0 1-2 2-14.5 1.5-24-1.5-58.5zM1950.5 830l-1 1.5-1 11 1 12 1 6 1 1.5 0.5-6 0-13.5-0.5-7.5z"/>
<path fill="#0000ff" d="M1536 52l57.5 0-0.5 174-2 82.5 1 16.5 0.5 3.5 1 0.5 1-4 3-14.5 1-3 2-2 3 1 18 12.5 13 6.5 17 6.5 19 4.5 31 4.5 43 3.5 33 1.5 27-0.5 22-3 10-2.5 10-3 11-4.5 10-5.5 9-6 15-11 7-4 5-2 4-0.5 4 0 5 1.5 8 5 10 10 9 11 27 35 19 23 21 23.5 52 56.5 22 25.5 14 18 12.5 18 9 16.5 7.5 16.5 4.5 15 2.5 15 0.5 15-1.5 13.5-3.5 15-5.5 15-7 15-10 16.5-14.5 19.5-18.5 22.5-65 70-23 26-22 28-10 16-1-0.5-0.5-1.5-1-25.5-0.5-6.5-1-3-1 2-1 10.5 0.5 9 1.5 13.5 1.5 6 0.5 9-1 102 0 184.5-57.5 0 0-246-1.5-34.5-2-12-2-3.5-6-1-15-7-14-4.5-14-3.5-16-2.5-26-3-68-6-24-1.5-20-0.5-14 0.5-12 1-11 1.5-11 2.5-12 3.5-11 4.5-10 5-20 11-8 3.5-5 1.5-5 0.5-5-0.5-5-2-8-4.5-9-8.5-32-39-16-18.5-20-21.5-45.5-47-23-25.5-14-18-12.5-18-9.5-16.5-7-15-3.5-11 0-60.5 7.5-20 10-19.5 7.5-12 9.5-13.5 11.5-15 12.5-15 75.5-83.5 19-22.5 17-21.5 2-1.5 3 2 1-0.5 1-2.5 2-15.5 1.5-25.5-1-61.5z"/>
<path fill="#0010ff" d="M1536.5 52l56.5 0 0 172.5-2 84 0.5 16.5 1 5.5 1 1 4-17 2-4 2-0.5 18 12.5 14 7.5 17 6.5 19 4.5 29 4.5 42 4 35 1.5 27-0.5 13-1.5 11-1.5 10-2.5 10-3 11-4.5 10-5.5 9-6.5 16-12 7-4 5-1.5 4-0.5 4 0.5 4 1 5 3 4 3 10 10 35 46 17 21 20 23.5 46 52 21.5 25.5 13.5 18 12 18 9 16.5 6.5 15 4.5 15 3 15 1 15-1 13.5-3 15-4.5 15-7 15-9 16.5-12.5 18-15 19.5-19 22.5-42 47-19 22-22 27.5-7 9.5-6 9-2 2.5-1-1-0.5-2.5-2-21-1.5-6.5-1 2-1 9 0 7.5 1 13.5 2 18 0.5 15-1 94.5 0 178.5-56.5 0 0-243-1-22.5-1-18.5-2-11.5-2-4-6-1.5-15-7-13-4.5-14-3.5-16-3-26-3-68-6-25-1.5-20-0.5-14 0.5-12 1-11 2-11 2-12 4-11 4.5-10 5-20 11.5-8 3.5-5 1.5-5 0.5-5-0.5-5-2-4.5-2-4.5-3.5-9-9-30-37.5-15-18-60-65.5-22-25.5-13.5-18-11-16.5-9.5-16.5-6.5-15-4.5-13.5-2.5-13.5-1-13.5 0.5-13.5 2-13.5 4.5-15 5-13.5 7.5-15 7.5-12 9-13.5 21.5-28.5 72-82.5 17-21 16-21 3-2.5 3 0.5 1-1 1-2.5 2.5-18.5 1-27-1-63z"/>
<path fill="#0020ff" d="M1536.5 52l56.5 0-0.5 171-1.5 85.5 0.5 18 1 6 1 1 5-17 1-1.5 2-0.5 18 12.5 14 8 16 6 19 5 29 4.5 41 4 36 1.5 27-0.5 13-1 11-2 11-2.5 10-3 11-5 10-5.5 9-6 16-12.5 7-4.5 5-1.5 4-0.5 4 0 4 1.5 5 2.5 4 3.5 10 10 34 46 16 20.5 60.5 72 19.5 24 13 18 11.5 18 9 16.5 6.5 15 5 15 3 15 1 15-1 13.5-2.5 15-4.5 15-6 15-9 16.5-12.5 19.5-15.5 21-17 21-55 65-18 23-17 23.5-1 0-1-2-2.5-19.5-1.5-5-1 2-1.5 15 1.5 19.5 1.5 16.5 0.5 19.5-0.5 93 0 174-56.5 0 0-244.5-0.5-24-1.5-18.5-2-12-2-4-1-1-6-1.5-14-6.5-11-4-15-4-16-3-27-3.5-68-6-25-1.5-20-0.5-14 0.5-12 1-11 2-11 2.5-12 3.5-11 4.5-11 6-19 11-8 4-5 1.5-5 0.5-5-0.5-5-2-4-2-5-4-9.5-9-42.5-54.5-54.5-62.5-20-24-13.5-18-10.5-16.5-9-16.5-6.5-15-4.5-13.5-2.5-13.5-1.5-13.5 0.5-13.5 2-13.5 3.5-15 5-13.5 7-15 7-12 8.5-13.5 19.5-27 18-22.5 51.5-61 30-39 2-2 4-1 2-5 2.5-21 1.5-28.5-1-66zM1541.5 418.5l-1 4 1 2.5 0.5-2.5z"/>
<path fill="#0030ff" d="M1537 52l55.5 0 0 169.5-2 87 1 19 1 7.5 1 1 5-15.5 1-1 2 0 3 1.5 16 11.5 13 7.5 16 6 19 5 28 4.5 39 3.5 37 2.5 27-0.5 13-1 12-2 11-2.5 11-3.5 11-5 10-5.5 9-6.5 16-13 7-4 5-2 4-0.5 4 0 4 1.5 5 2.5 4 3.5 11 11.5 47 64 54.5 67.5 17.5 22.5 14 19.5 10 16.5 9 16.5 7 16.5 5 15 3 15 1 15-0.5 15-2.5 15-4 15-6 15-7.5 15-13 21-16 22.5-16.5 21-47 58-18 23.5-15 21.5-2 1.5-1-0.5-1-2-2.5-16.5-1.5-3.5-1 2-1.5 16.5 2.5 40.5 0.5 21-0.5 261-55.5 0-0.5-249-0.5-24-1.5-18-2-11-1-3-2-2.5-5-2-15-7-11-4-15-4.5-16-3-27-3-69-6-25-2-20 0-14 0.5-12 1-11 2-11 2.5-12 4-11 5-10 5.5-19 11.5-8 4-5 1-5 1-5-1-4-1-4-2-5-3.5-11-11-40-53-49.5-59.5-17-21-14-19.5-10.5-16.5-9-16.5-6.5-15-4-13.5-3-13.5-1-13.5 0-13.5 1.5-13.5 3-13.5 4.5-13.5 6.5-15 6.5-12 8-13.5 18.5-27 18.5-24 48.5-60 27-36.5 2-2 4-2.5 2-5.5 2.5-22.5 1.5-31.5-1-66zM1541.5 418l-1 4.5 1 3 0.5-3z"/>
<path fill="#0040ff" d="M1537 52l55.5 0-0.5 168-1.5 90 1 20.5 1 6.5 1 1 5-13 1-1 2 0 3 1.5 15 11.5 13 7.5 16 6.5 19 5 27 4.5 39 4 38 2 27 0 14-1.5 12-2 11-2.5 11-3.5 11-5 10-5.5 9-6.5 16-13.5 7-4.5 5-2 4-0.5 4 0.5 4 1 5 3 4 3 5 5 6 7 45 63 49.5 64 16 21 13.5 19.5 10 16.5 8.5 16.5 7 16.5 5 15 3 15 1.5 15-0.5 13.5-2 15-3.5 15-5.5 15-7 15-12 21-16 24-16 21-44.5 57.5-31 43-1 0.5-1-0.5-1-2.5-2.5-12.5-0.5-2.5-1-1.5-1 2.5-1.5 18 2 40.5 1 21-0.5 261-55.5 0 0.5-213-0.5-39-1-24-1.5-18.5-2-11-1-3-2-3-18-8.5-12-5-15-4-17-3.5-26-3-70-6.5-25-1.5-20-0.5-14 0.5-12 1.5-12 2-11 2.5-12 4.5-11 5-28 17-8 4-5 1.5-5 0.5-5-0.5-4-1-5-3-5-4-10-10.5-38-51.5-44-55-16-21-13.5-19.5-10.5-16.5-8.5-16.5-6-15-4.5-13.5-3-13.5-1.5-13.5 0-13.5 1.5-13.5 3-13.5 4-13.5 6-15 6-12 6.5-12 17.5-27 19-25.5 46-59.5 23-32 3-3.5 3-2 2-4 1-3.5 2.5-23 1.5-34.5-0.5-69zM1541.5 417l-1 5.5 1 4 0.5-4zM1899.5 789.5l-0.5 3.5 0.5 5 0-5z"/>
<path fill="#0050ff" d="M1537.5 52l54.5 0 0 166.5-1.5 91.5 1 23.5 1 6 1 1 1-1.5 3-8 1-1.5 2-1 3 1 18 13.5 12 7 16 6.5 18 5 26 4 37 4 38 2.5 28 0 14-1.5 13-1.5 12-3 11-3.5 11-5 11-7 9-6.5 15-13 7-4.5 5-2.5 4-0.5 4 0.5 4 1 5 3 5 4 11 12.5 42 60.5 58 79 13.5 19.5 10.5 18 8.5 16.5 7 16.5 4.5 15 3.5 15 1.5 15-0.5 13.5-1.5 15-3.5 15-5 15-6.5 15-12 22.5-15.5 24-15 21-39.5 53-27 39-3 3.5-1 0.5-1-1-1-2-2.5-10.5-0.5-2-1-0.5-1 2-1 8.5-0.5 11.5 2 43.5 0.5 22.5-0.5 256.5-54.5 0 0-213-0.5-42-1-25.5-1.5-18-2-11-1-3-2-3-17-8.5-12-5-15-4.5-17-3.5-27-3.5-70-6.5-25-1.5-20-0.5-13 0.5-13 1.5-12 2-11 3-12 4.5-11 5-10 6-18 11.5-8 4.5-5 1.5-5 0.5-5-0.5-4-1.5-5-2.5-4.5-3.5-4.5-4.5-6-7-36-50.5-53-70-13-19.5-10-16.5-9-16.5-6-15-5-15-3-13.5-1.5-13.5 0-13.5 1-13.5 3-13.5 3.5-13.5 6-15 11.5-24 17-27 15.5-22.5 43-58 23-32.5 6-7 2-4.5 1-4 1.5-12.5 1.5-13.5 1.5-34.5-1-73.5zM1541.5 416l-1.5 6.5 1.5 4.5 0.5-6zM1899.5 788.5l-1 4.5 1 6.5 0.5-5z"/>
<path fill="#0060ff" d="M1537.5 52l54.5 0-0.5 163.5-1 97.5 1 23.5 1 5.5 1 1.5 1-1.5 3-6.5 1-1.5 2-1 3 1.5 17 13 12 7 16 7 18 5 26 4.5 36 3.5 39 2.5 28 0.5 15-1.5 13-2 12-2.5 11-4 11-5 11-6.5 9-7 15-13.5 7-5 5-2 4-1 4 0.5 4 1 5 3 5 4 5 5.5 6 7.5 40 59 51.5 73 12.5 19.5 11 18 8 16.5 7 16.5 5 15 3.5 15 1.5 15 0.5 13.5-1.5 15-3 15-4.5 15-6 15-11 22.5-15.5 25.5-15.5 22.5-36.5 51.5-26 38.5-2 1-1-0.5-4-12-1-0.5-1 2.5-1 8-1 13.5 2 46.5 0.5 21 0 255-54.5 0 0.5-213-1-45-1-25.5-1.5-19.5-2-10-1-3-2-3.5-16-8.5-13-6-15-4.5-17-3.5-27-3.5-70-6.5-25-1.5-20-0.5-13 1-13 1-12 2.5-11 3-12 4-11 5.5-10 6-18 12-8 4.5-5 1.5-5 1-5-1-4-1-5-3-5-4-10-11.5-34-49-46.5-64-12.5-19.5-11-18-8-16.5-6.5-15-4-13.5-3.5-13.5-1.5-13.5-0.5-13.5 1-13.5 2-13.5 3.5-13.5 5-15 11-24 16-27 20-30 35.5-50 21-31 6-7.5 2-5 1-4.5 1.5-13 1.5-13.5 1.5-37.5-0.5-76.5zM1541.5 415l-1.5 7.5 0.5 3 1 2.5 0.5-7zM1899.5 787.5l-1 5.5 1 8 0.5-6.5z"/>
<path fill="#0070ff" d="M1538 52l53.5 0 0 162-1.5 99 1.5 26.5 1 5 1 1.5 1-1 4-6.5 1-0.5 2 0 19 14.5 15 9 9 4 10 3.5 22 5 26 4 36 3 32 2 24 0 15-1 13-2 13-3 11-4 11-5 11-7 9-7 16-14.5 7-5 4-2 4-0.5 4 0 4 1.5 5 2.5 5 4.5 6 6.5 6 7.5 38 58.5 43 63.5 13.5 21 10.5 18 9 18 6.5 16.5 5 15 3.5 15 2 15 0 13.5-1 15-2.5 15-4 15-5.5 15-11 22.5-14.5 25.5-14.5 22.5-35 51.5-21 32.5-2 2.5-2 1-1-0.5-1-1.5-3-8-1 0-1 2.5-1.5 10-0.5 13.5 2.5 70.5-0.5 252-53.5 0 0-210-0.5-46.5-1-27-2-21-2-12.5-3-6.5-2-1.5-12-7-14-6-15-5-18-4-27-3.5-70-6.5-25-1.5-20-0.5-14 1-13 1.5-12 2-11 3-11 4.5-11 5.5-10 6-18 12.5-8 4.5-5 2-4 0.5-5-0.5-4-1-5-2.5-5-4-5-5-6-7.5-33-49.5-38-55-12.5-19.5-10.5-18-8.5-16.5-7-16.5-5-15-3-13.5-2-13.5-0.5-13.5 1-13.5 2-13.5 3-13.5 5-15 10.5-24 13.5-25.5 20-31.5 57-83.5 2-4.5 2-7.5 2-14 1-15 1.5-39zM1541.5 414l-1.5 8.5 0.5 4.5 1 2 1-8zM1899.5 786l-1.5 7 0.5 4.5 1 5 0.5-8z"/>
<path fill="#0080ff" d="M1538 52l53.5 0-0.5 162-1 99 1 27 1.5 7.5 1 1.5 1-0.5 4-5.5 1-0.5 2 0.5 18 14 15 9.5 9 4 9 3 21 5.5 25 4 36 3.5 34 2 25 0.5 15-1.5 14-2 12-2.5 12-4.5 11-5 11-7 9-7.5 16-15 7-5 4-2 4-1 4 0.5 4 1 5 3 5 4 6 6.5 6 8.5 37 58 34.5 53 14 22.5 11 19.5 9 18 6.5 16.5 5 15 3.5 15 2 15 1 15-1 13.5-2 15-4 15-5 15-10.5 24-13.5 25.5-13 21-51.5 80.5-3 4-2 1-2-1.5-3-6-1 0-1 3-1.5 10.5-0.5 15 2 73.5 0 249-53.5 0 0.5-211.5-1-52.5-1.5-28.5-1.5-19.5-3-12-3-4.5-15-9-13-6-15-5-17-3.5-27-3.5-71-6.5-25-2-20 0-13 0.5-13 1.5-12 2.5-11 3.5-11 4-11 6-10 6-18 13-8 4.5-5 2-4 0.5-5 0-4-1-6-3.5-7-6.5-7-8.5-8-11.5-68.5-106.5-15-27-10.5-24-5-15-3-13.5-2-13.5-1-13.5 0.5-13.5 1.5-13.5 3-13.5 4.5-15 9.5-24 13-25.5 19-31.5 53-82 2-4.5 2-9.5 2-13 1-17 2-43.5zM1541.5 412.5l-1 4-0.5 6 0.5 6.5 1 1 1-9zM1899.5 785l-1 3.5-0.5 4.5 0.5 6.5 1 4.5 1-9.5z"/>
<path fill="#008fff" d="M1538.5 52l52.5 0 0 160.5-1 102 1 27 1.5 9 1 1.5 1-0.5 4-4 3 0 18 15 14 9 8 3.5 9 3.5 20 6 25 4 34 3.5 36 2.5 27 0 15-1 14-2 13-3 12-4 11-5.5 11-7.5 9-7.5 16-15.5 7-5 4-2 4-1 4 0 4 1 6 4 7 6.5 8 10.5 8.5 13.5 71 115.5 15 28.5 10.5 24 5 15 3.5 15 2.5 15 1 15-0.5 13.5-2 15-3 15-4.5 15-10 24-14 27-13 22.5-45 73.5-3 5-3 2.5-2-1.5-3-4-1 0.5-1.5 5-1 10.5-0.5 15 1.5 76.5 0 246-52.5 0 0-211.5-1-57-1-27-2-19.5-2-10.5-2-5-2-2.5-14-9-14-6.5-15-5-17-4-27-3.5-71-6.5-25-1.5-20-0.5-14 1-12 1.5-12 2.5-11 3-11 4.5-11 6-10 6.5-18 13.5-8 4.5-5 2-4 1-5-0.5-4-1-6-3.5-7-6.5-7-8.5-8-12-62.5-102-13.5-25.5-10-22.5-4.5-15-3.5-13.5-2.5-13.5-1-13.5 0.5-13.5 1-13.5 2.5-13.5 4-15 4.5-13.5 5.5-13.5 7-15 8-15 16.5-28.5 47-75.5 3-8.5 2-11 2.5-31 1.5-43.5zM1541.5 411l-1 4-1 7.5 1 8.5 1 0.5 1-10.5zM1899.5 783.5l-1 3-0.5 8 0.5 7.5 1 4 1-11.5z"/>
<path fill="#009fff" d="M1538.5 52l52 0 0 157.5-1 106.5 1.5 28.5 1.5 9 1 1.5 1 0 4-3 2 0 3 2 16 14 13 8.5 8 4 9 3.5 19 6 24 4 33 3.5 38 3 28 0.5 16-1.5 14-2 13-3 12-4.5 12-6 11-7.5 9-8 15-15 7-5.5 4-2 4-1 4 0 4 1 6 3.5 7 7 7 9 9.5 15 64.5 109.5 14 27 10 24 5 15 4 15 2.5 15 1 15 0 13.5-1.5 15-3 15-4 15-6 16.5-7 16.5-9 18-10.5 19.5-45.5 78-2 2.5-2 1.5-2-0.5-3-3-1 1-1 3-1 6-1.5 24 2 78 0 244.5-52 0 0-211.5-1-61.5-1.5-27-1.5-18-2.5-12-2-5-2-2.5-13-8.5-14-7-16-6-17-3.5-27-4-72-6.5-25-1.5-20-0.5-13 1-13 1.5-12 3-11 3.5-11 4.5-11 6-9 6.5-18 14-8 4.5-5 2-4 1-4 0-4-1-6-3.5-7-6-7-8.5-7.5-12-57.5-97.5-12.5-24-9.5-22.5-5-15-3.5-13.5-2-13.5-1.5-13.5 0-13.5 1-13.5 2-13.5 3.5-15 4.5-13.5 5-13.5 6.5-15 7.5-15 16.5-30 42.5-72 3-9 2-10.5 2.5-31.5 2-46.5zM1541.5 409.5l-1 3.5-1 8 1 12 1-0.5 1-10 0-8zM1899.5 782.5l-1 2-1 10 1 10.5 1 3 1-6.5 0-7 0-6z"/>
<path fill="#00afff" d="M1539 52l51.5 0 0 156-1 109.5 1 28.5 1 7.5 1 3 1 2 1 0 4-2 2 0.5 3 2 15 14 13 8.5 16 8 19 6 23 4.5 32 3.5 40 3 29 0.5 16-1 15-2 13-3.5 13-5 11-5.5 11-8 9-8 15-16 7-5.5 4-2 4-1.5 4 0 4 1.5 6 3.5 7 7 7 9 9 15 58.5 103.5 13 25.5 10 24 5 15 4 15 2.5 15 1.5 15 0 13.5-1 15-2.5 15-3.5 15-5 15-6.5 16.5-7.5 16.5-9.5 19.5-44 79-2 2.5-2 2-1 0-4-2-1 1.5-2 9.5-1.5 27.5 1.5 79.5 0 241.5-51.5 0 0-213-1-66-1-27-2-16.5-2.5-12.5-2-4.5-2-2.5-4-3.5-9-5.5-14-7.5-15-5.5-18-4.5-27-3.5-72-6.5-25-2-20 0-14 1-13 2-12 2.5-11 4-11 5-10 5.5-9 6.5-18 14.5-8 5-5 2-4 1-4 0-4-1-6-3.5-7-6.5-7-8.5-7.5-12-51.5-91.5-12-24-8.5-21-5-15-3.5-13.5-2.5-15-1.5-13.5 0-13.5 0.5-13.5 2-13.5 3.5-15 4-13.5 4.5-13.5 6.5-15 7-15 15.5-30 38.5-68 3-9.5 2.5-14 2.5-36 1.5-45zM1541.5 407.5l-1.5 4.5-0.5 9 1 14 1-1 1-11.5 0-10zM1899.5 781l-1.5 3-0.5 10.5 0.5 12 1.5 3.5 1-6 0-9.5 0-7.5z"/>
<path fill="#00bfff" d="M1539 52l51 0 0 151.5-0.5 115.5 1 28.5 1 8 1 4.5 1 2 1 0.5 4-1 3 1.5 18 16.5 7 5 8 5 14 6.5 16 5 22 4.5 31 4 42 3.5 30 0.5 17-1 15-2.5 14-3.5 12-5 11-6 11-8 9-8 16-17 6-5.5 4-2 4-1.5 4 0 4 1 6 4 7 7 7.5 10.5 9 15 52.5 96 12 25.5 9 22.5 5 15 4 15 3 15 1.5 15 0.5 13.5-1 15-2 15-3 15-4.5 15-5.5 15-6.5 16.5-9.5 19.5-41 78-4 5-2 0.5-2-0.5-1 0-1 1.5-2 10-1 13.5-0.5 16.5 1.5 82.5-0.5 238.5-50.5 0 0-214.5-1.5-72-1-25.5-1.5-15.5-3-12-2-4.5-2-3-4-3.5-9-6-14-7.5-16-6-17-4-27-4-73-6.5-24-1.5-20-0.5-14 1-13 2-12 3-11 4-11 5-10 6-10 7.5-17 14-8 5.5-5 2-4 1-4 0-4-1-6-3.5-6-5.5-7-8.5-7.5-12-46-85.5-10.5-22.5-9-21-5-15-3.5-13.5-3-15-1.5-13.5-0.5-13.5 0.5-15 1.5-13.5 3-15 3.5-13.5 4.5-13.5 6-15 6.5-15 14.5-30 35.5-65.5 3-11 3-16.5 2.5-37.5 1.5-49.5zM1541.5 405.5l-1.5 5-1 10.5 0.5 10.5 1 5.5 1-1.5 1.5-13-0.5-12.5zM1898.5 780.5l-1 8 0 12 0.5 10.5 1.5 2 1-6.5 0-15-1-12z"/>
<path fill="#00cfff" d="M1539.5 52l50.5 0-1 267 1.5 31.5 1 8.5 2 6.5 1 1 4 0 3 1.5 17 16.5 14 10 14 7 16 5.5 22 5 29 3.5 44 3.5 31 1 17-1 15-2 14-4 13-5 12-7 11-8 9-9 15-16.5 6-5.5 4-2.5 4-1.5 4 0 4 1 6 3.5 7 7.5 7 9.5 8.5 14.5 47 90 12 25.5 8.5 21 5.5 16.5 4 15 3 15 1.5 15 0.5 15-0.5 13.5-1.5 15-3 15-4 15-4.5 15-6.5 16.5-7.5 16.5-13.5 28.5-24.5 48.5-4 6-2 1.5-3 1-2 2.5-2.5 11-1 15-0.5 16.5 1.5 84 0 237-50.5 0 0-219-1.5-81-1-21-2-13.5-3.5-12-2-4-2-2.5-13-9.5-14-7.5-16-6-17-4-27-4-73-6.5-24-2-20 0-14 1-13 2.5-12 3-11 4-11 5.5-10 6.5-9 7-17 14.5-7 5-5 2.5-4 1.5-4 0-4-0.5-6-3.5-6-5-7-8.5-7-12-41-79.5-10.5-22.5-8.5-21-5-15-4-15-3-15-1.5-13.5-1-13.5 0.5-13.5 1.5-13.5 2.5-15 3-13.5 4.5-13.5 5-15 6.5-15 14-30 32-63 4-14 2-16 2.5-36 1.5-54zM1541.5 403l-1.5 4.5-1 13.5 0.5 12 1 6 1-2 1.5-14.5-0.5-15zM1899.5 778l-1 0.5-0.5 2.5-1 12 0.5 15 1 8 1-0.5 0.5-4.5 1-12-0.5-12z"/>
<path fill="#00dfff" d="M1540 52l49.5 0-0.5 271.5 1.5 33 2 10.5 2 3.5 4 1 2 1 17 17 13 10 15 8 17 6 22 5 28 3.5 45 4 31 1 17-1 15-2.5 14-3.5 13-5.5 12-7 11-8.5 9-9.5 15-17 7-6.5 4-2.5 4-1 4 0 3 1 6 3.5 7 7.5 7 10 8 14 16 31.5 24.5 49.5 12 25.5 8.5 21 5.5 16.5 4 15 3 15 2 15 1 15 0 15-1.5 15-2.5 15-3 13.5-4 13.5-11 30-13.5 30-23 48-5 8.5-2 2.5-3 1.5-2 3.5-1.5 5-1.5 10.5-1 31.5 1 85.5 0 234-49.5 0 0-222-2-93-0.5-13.5-1.5-10.5-4-12-2.5-4.5-2-2.5-13-10-14-7.5-16-6.5-17-4.5-27-3.5-73-7-24-1.5-20 0-14 1-13 2-12 3.5-11 4.5-11 5.5-10 6.5-9 7.5-17 15-7 5.5-5 2.5-4 1-4 0.5-4-1-6-3-6-5.5-6-8-7-11.5-11.5-22-24-49.5-10.5-22.5-7.5-19.5-5.5-16.5-4.5-15-3-15-2-13.5-0.5-15 0-13.5 1-13.5 2-15 3-13.5 4-13.5 5-15 5.5-15 13.5-30 29-60 4-15 2.5-18 2.5-42 1.5-51zM1541.5 400.5l-1 1-1 3-1 15 0.5 15 1.5 6.5 1-2.5 1.5-16-0.5-16.5zM1898.5 776.5l-1.5 9-0.5 13.5 0.5 15 1.5 7 1-2 1-7 0.5-17.5-0.5-12.5-1-5.5z"/>
<path fill="#00efff" d="M1540 52l49.5 0-0.5 273 1.5 33.5 2 12 2 4 6 3.5 16 16.5 13 10.5 15 8.5 17 6.5 21 5 28 4 47 4 31 1 17-1 15-2.5 14-4 13-5.5 12-7 11-9 9-9.5 15-18 7-6.5 4-2.5 4-1.5 4 0 3 1 6 4 6 6 7 10 8 14 13.5 26.5 22 46.5 11 25.5 8.5 21 5.5 16.5 4.5 16.5 3.5 15 2 15 1.5 15 0 15-1.5 15-2 15-2.5 13.5-4 13.5-9.5 28.5-12.5 30-20.5 45-5.5 11-6 6.5-2 6.5-2 15-1 33 1 87 0 231-49.5 0 0-216-1-108 0-9 2.5-9 1.5-19.5 0-15-1.5-14-1-0.5-1.5 8.5-1 31.5-0.5 5.5-1-0.5-4.5-9.5-2.5-5-3-3.5-5-4.5-9-6-10-6-10-4.5-12-4.5-18-4-21-3-78-7.5-28-1.5-17 0.5-15 2-14 3-13 5-12 6-11 7.5-10 8.5-17 15.5-7 5.5-4 2.5-4 1.5-4 0.5-3.5-0.5-3.5-1.5-3-1.5-6-5-6-8-7-11-10.5-21-19.5-42-10.5-24-7.5-19.5-8.5-27-3.5-13.5-2-12-2.5-24 0-12 0.5-12 1.5-13.5 3-15 3.5-15 5-16.5 6.5-18 8-19.5 28.5-61.5 4-13.5 3.5-16.5 2-31.5 2-70.5zM1540.5 397.5l-1.5 8.5-0.5 16.5 0.5 15 0.5 3.5 1 2 1-3 0.5-5.5 1-13.5-0.5-19-1-5z"/>
<path fill="#00ffff" d="M1540.5 52l48.5 0-0.5 276 2 35 2 11.5 2 4 6 5 17 18.5 11 9 7 4.5 8 4.5 17 7 21 5 28 4 47 4.5 32 1 18-1.5 15-2.5 14-4 13-6 11-7 11-9 9-10 15.5-19.5 6-6 3.5-2 4-2 3-0.5 4 1 6 3 6 6 7 9.5 7.5 13.5 12 24 17.5 39 11.5 25.5 8.5 22.5 9.5 28.5 3 13.5 3 13.5 1.5 13.5 1 12 0.5 12-0.5 13.5-2 16.5-2.5 16.5-4.5 16.5-6 19.5-11 30-18 42-7 15.5-7 10.5-2 6.5-1 6.5-2 19.5-0.5 24 1 91.5 0 228-48.5 0 0-205.5-1-108 0.5-13.5 2.5-22.5 0.5-19.5-0.5-13.5-1-10-1-0.5-1 4.5-2 28.5-1 4.5-1 0-5-9-4-5-7-6-9-6.5-9-5-9-4.5-10-3.5-11-3.5-14-2.5-16-2.5-81-7.5-27-1-22 1-11 2-11 2.5-10 4-10 4.5-10 6.5-9 6.5-23 22-7.5 6-7.5 4-4 1-4 0-6-2.5-6-5-6-7.5-6.5-11-9-18-13.5-30-11.5-27-8-21-6.5-18-5-18-3.5-16.5-2-15-1.5-16.5 0-15 1-15 2.5-16.5 5.5-24 8-25.5 12-31.5 22-49 9-29 0.5 33 1 9 1.5 1.5 1-3 1.5-13.5 0-13.5-0.5-16-1-5.5-1-1-2 2-0.5-5 2.5-112.5z"/>
<path fill="#10ffef" d="M1540.5 52l48 0-0.5 258 0.5 28.5 1 21 2 15 2 7 2 3 5 5 15 17 13 11.5 14 8.5 16 7 18 5 28 4.5 46 4.5 30 1.5 23-1 14-2 12-3 12-4.5 11-6 10-7.5 10-9 8-9.5 14-18.5 6-6.5 4-3 4-1.5 3-0.5 4 0.5 6 3 6 6 6.5 9.5 6.5 12 10.5 21 12.5 28.5 12 28.5 9.5 24 9.5 30 4 15 2.5 13.5 2 13.5 1.5 13.5 0 13.5 0 12-1.5 15-2.5 16.5-3.5 16.5-5 18-9.5 27-13.5 34.5-9.5 22.5-8 14.5-2 7.5-1.5 11-1.5 18-0.5 25.5 1 91.5 0 226.5-48 0-0.5-199.5-0.5-105 0.5-18 2-25.5 1-21-1-19.5-1-6-1-1-1.5 7-2 21-0.5 3-1 1.5-1-0.5-5-8-4-4.5-8-7-9-6.5-9-5-9-4.5-10-3.5-10-3-13-2.5-16-2.5-80-7.5-27-1-21 1-12 2-11 2.5-11 4-10 5-10 6.5-9 7.5-23.5 23-7 6-7.5 4.5-4 1-4-0.5-5.5-2-5.5-4.5-6-7.5-6-10-7-14-9-19.5-21-52.5-10-31.5-4-15-2.5-13.5-2-13.5-1-13.5-0.5-12 0.5-13.5 1.5-15 2.5-16.5 4-16.5 5-18 11-31.5 20.5-49 8-21 1 1 1.5 19.5 1.5 8.5 1 0 1-3.5 1-8 0.5-13.5 0-16.5-0.5-11-3-13-0.5-10.5 2-100.5z"/>
<path fill="#20ffdf" d="M1541 52l47.5 0-0.5 259.5 0.5 30 1 22.5 2 14.5 1 4.5 2 5 16 19.5 7 7.5 13 11.5 14 8.5 16 7 18 5 13 2.5 16 2 47 4.5 28 1 22-1 14-2.5 13-3.5 12-5 11-6.5 10-8 9-9 8-10 13-18 6-6.5 4-3.5 3-1.5 3-0.5 4 0 6 2.5 5.5 5.5 6.5 8.5 6 11 8 16.5 10 22.5 11.5 27 9.5 25.5 11 33 4 15 3 15 2.5 15 1 13.5 1 13.5-0.5 13.5-1 15-2.5 16.5-3.5 16.5-4 16.5-7.5 24-11 30-10 25.5-8.5 18-2 8-2 14.5-1.5 21-0.5 24 1 93 0 223.5-47.5 0-0.5-300 0.5-16.5 2-33 0.5-19.5-1-21.5-1-6-1-1.5-1.5 5-2.5 20-1 2.5-1 0-7-9-4-4-8-7-9-6.5-8-5-9-4.5-10-3.5-10-3-13-2.5-16-2.5-79-7.5-26-1-21 1-12 2-12 3-11 4.5-10 5-10 7-9 7.5-23 24-7 6.5-4 2.5-4 2-4 1-3 0-6-2-5-4-5-6-6-9.5-6-11-6.5-15-18-46.5-11.5-34.5-4-15-3.5-15-2.5-15-1-13.5-1-13.5 0.5-15 2-22.5 4-22.5 6.5-24 9-27 25-64 1 0 1 3.5 1.5 12.5 1.5 5.5 1-0.5 1-4 1-8 1-15.5 0-16.5-1-15-2-13.5-0.5-15 1-96z"/>
<path fill="#30ffcf" d="M1541.5 52l46.5 0 0 259.5 0 31.5 1.5 24 2 16 1 4.5 2 5 15 20.5 9 10 12 11 14 9 16 7 18 5 13 2.5 16 2.5 48 4.5 28 1 22-1 14-2.5 12-4 12-5 11-7 10-8.5 9-9 8-10.5 13.5-19.5 5.5-6.5 4-3.5 3-1.5 3-1 4 0 5 2.5 6 5 6 8 6 10.5 6.5 13.5 8 18 18.5 48 12 36 4.5 16.5 3 15 2.5 15 2 15 0.5 13.5 0 15-1 15-2 15-3 16.5-4 16.5-6.5 22.5-9 27-8.5 24-9.5 23-2 8-2 15.5-1.5 22.5-0.5 25.5 0.5 96 0 220.5-46.5 0-0.5-294 2.5-73.5-1-24-1-7.5-1-1.5-1.5 3-2.5 16.5-1 3-1 0.5-2-1.5-6-7.5-6-6-8-7-8-5.5-8-5-9-4.5-9-3.5-10-3-13-2.5-16-2.5-77-7-26-1.5-20 1-12 1.5-12 3.5-11 4-11 6-10 7-9 8-8 8-16 18-7 6.5-4 3-4 2-4 1-3 0-5-1.5-5-3.5-5-6-5-7.5-5-9.5-5.5-12-13.5-34.5-13.5-40.5-4.5-16.5-4-16.5-2.5-15-1.5-15-1-15 0-15 1.5-21 3.5-22.5 5.5-22.5 7-24 9.5-27 14-36 1-1 1 1 2.5 12 1.5 3 1-1.5 1-4.5 1-9 1-16.5 0-16.5-1-15-1.5-19.5-0.5-16.5 1-94.5z"/>
<path fill="#40ffbf" d="M1541.5 52l46.5 0-0.5 261 0.5 33 1.5 25.5 2 16 3 10 15 22 12 14 13 11 14 9 16 6.5 18 5 13 2 17 2.5 49 4 26 1 20-1.5 14-3 12-4 11-5.5 11-7.5 10-8.5 9-10 7-9.5 13.5-20.5 5.5-7 3.5-3.5 3.5-2 3-1 3 0 5 1.5 5 4 5 6 6 9 6 12 6 14 16.5 42 13 39 5 18 4 16.5 2.5 16.5 2 15 1 16.5 0 15-1 15-1.5 15-2.5 15-3.5 16.5-5 19.5-7.5 24-8 24-10 27.5-3 13-1.5 15-1.5 22.5 0 27 0.5 97.5 0 217.5-46.5 0 0-289.5 2.5-78-1.5-25.5-1-8-1-2.5-1 1-1 2-3 15-1 1.5-1-0.5-8-9.5-6-6-8-7-8-6-8-5-9-4.5-9-3.5-10-3-13-3-15-2.5-77-7-24-1.5-20 1-13 2-12 3-12 5-11 6.5-10 7-9 8.5-8 8.5-16.5 19-6.5 6.5-7 5-4 1.5-3 0-5-1-4-2.5-5-5-4-5.5-4.5-8-4.5-9-10.5-27-15-45-5-18-4-16.5-3-16.5-2-15-1-16.5 0-15 1-19.5 2.5-21 4.5-21 6-22.5 8.5-27 12-32.5 2-4 1-0.5 1 1 3 9 1 0 1-2 1-4.5 1.5-13 0.5-15 0-16.5-2.5-39 0-18 0.5-91.5z"/>
<path fill="#50ffaf" d="M1542 52l45.5 0 0 261 0.5 36 1.5 27.5 2 16 2 8 2 4.5 15 23 6 7.5 7 8 13 11 14 8.5 15 6.5 18 5 29 4.5 51 4.5 25 0.5 20-1.5 14-3.5 12-4.5 11-6 11-8 9-8.5 9-10.5 7-9.5 13-21.5 6-7.5 4-4 3-2 3-1 3 0 4 1 5 3.5 5 5.5 5 7.5 10 21 13 33 14.5 42 5.5 19.5 4 18 3 16.5 2.5 16.5 1 16.5 0.5 16.5-0.5 13.5-1.5 15-2 15-3 16.5-5 19.5-5.5 21-17.5 54-3 15.5-2 17.5-1 22.5-0.5 28.5 0.5 313.5-45.5 0 0-285 2-82.5-1.5-27-1-9-1-3-1 0.5-0.5 1-3.5 12.5-1 1.5-1 0-2-1.5-9-11-7-7-8-7-9-6.5-10-6-10-4-10-3.5-12-3-24-3.5-75-7-20-1-17 1-13 2-13 3.5-12 5-11 6.5-10 7.5-10 9.5-9 10.5-15 18.5-7 7.5-7 5-4 1.5-3 0-4-1-4-2-4-3.5-4-5-8-14.5-9-21.5-7.5-22.5-7-22.5-5.5-19.5-4-18-3-16.5-2-16.5-1.5-16.5 0-15 1-18 2-19.5 3.5-19.5 5-21 8.5-28.5 10.5-30.5 2-3.5 1-0.5 1 1 3 5 1-1 1-2.5 1-7 1.5-13.5 1-15 0-18-2.5-40.5 0-21 0.5-90z"/>
<path fill="#60ff9f" d="M1542 52l45 0 0 264 0.5 39 2 27 1 9 2 11 4 10.5 8 14 7 10.5 7 9 7 7.5 13 11.5 14 8.5 15 6.5 18 5 29 4.5 51 4.5 24 0.5 10-1 10-1 13-3.5 12-5 11-6 11-8.5 9-9 9-11 8-12 12-21 6-8 4-4 3-2 3-1.5 3 0 4 1 5 3.5 4 4.5 4.5 6.5 9.5 18.5 11 28 14 43.5 5.5 19.5 4.5 19.5 3 16.5 2 16.5 1.5 16.5 0.5 16.5-1.5 28.5-4.5 30-4 18-5.5 21-15.5 53.5-3 16-2 21-1.5 25 0 28.5 0 312-44.5 0-0.5-280.5 2-87-1-27-1.5-12-1-3-1.5 0-3.5 10.5-1 1-1 0-2-1.5-8-10-8-8.5-8-7.5-8-6-9-6-9-4.5-9-3.5-10-3-14-3-16-2.5-70-6.5-19-1-19 0-17 3-8 2-8 3-14 7.5-12 8.5-12 11.5-8 9-17.5 22.5-6.5 8-6 5-6 2.5-5 0-4-1.5-4-3-4-4.5-4-6-4-7.5-8.5-20-6.5-19.5-6.5-22.5-5-19.5-4.5-19.5-3-16.5-2-16.5-1-16.5-0.5-16.5 1-18 1.5-18 3-18 4.5-19.5 8-30 8.5-25 2-3.5 1-0.5 1 0 2 2 1 0 1-1.5 2-8.5 1.5-18.5 1-15 0-18-2-45-0.5-21 1-90z"/>
<path fill="#70ff8f" d="M1542.5 52l44.5 0-0.5 265.5 1 40.5 2 29.5 3 20 2 6.5 3 7 8 14.5 7 11 8 10.5 8 8.5 13 11.5 14 8.5 15 6.5 18 5 13 2 17 2 50 4.5 23 0 10-0.5 9-1.5 12-3.5 12-5.5 11-6.5 11-9 9-9.5 9-12 8-12.5 12.5-22.5 5.5-8 3.5-4 3.5-3 3-1 3-0.5 4 1 4 2.5 4 4 4 5.5 8.5 17 9.5 24 7.5 21 6.5 22.5 5.5 19.5 4.5 19.5 3 18 2.5 16.5 1 16.5 0.5 18-1 27-4 28.5-7.5 36-15.5 58.5-3 18-1.5 21-1 25.5-0.5 28.5 0.5 310.5-44.5 0 0-276 1.5-90-1-30-1.5-12-1-4.5-1-1-1 1-3 6.5-1 1-2-0.5-17-20-8-8-8-7-8-5.5-9-5-9-4.5-10-3.5-14-3-17-2.5-72-7-18-1-19 0.5-16 3-8 2.5-8 3-14 8-10 8-10 9.5-11 13-23 31-7 7-6 3-4 0.5-4-0.5-4-2.5-4-4-4-5-4-7.5-8-18.5-6-18-6-21-5.5-21-4-19.5-3-18-2-16.5-1-16.5 0-15 0.5-16.5 1.5-16.5 2-16.5 3.5-18 6.5-27 7.5-24 3-6.5 1-1 3-0.5 2-3.5 2-9 2-24.5 0.5-33-1.5-45-0.5-22.5z"/>
<path fill="#80ff80" d="M1543 52l43.5 0 0 268.5 1 43.5 2 29.5 2 14.5 2 9 2 6 4 8.5 7 13.5 8 13 8 10.5 9 10 13 11.5 14 9 15 6 17 5 13 2 17 2 50 4.5 22 0 9-1 9-1.5 12-4 12-5.5 11-7.5 11-10 10-11.5 9-13 7-11.5 12.5-24.5 5.5-8 6-6.5 3-2 3-0.5 4 0 4 2.5 4 3.5 4 5.5 8 15 8.5 22 7 19.5 6 21 5.5 21 4.5 19.5 3 18 2.5 18 1 18 0.5 16.5-1 27-3.5 27-6 31.5-14 59.5-3 21-2 23-1 25.5-0.5 31.5 0.5 307.5-43.5 0 0-273 1.5-93-0.5-19.5-1.5-16.5-1-10.5-1-3.5-1-1.5-1 0-4 5.5-2-0.5-18-22.5-8-8.5-7-6.5-8-6-9-6-9-4.5-10-4-15-4-17-2.5-71-6.5-19-1-18 0.5-16 3.5-8 3-7 3-14 8.5-11 9.5-10 10-11 14-23 33-6 6.5-6 4-4 1-4-0.5-4-2-4-3.5-4-5.5-3.5-5.5-7.5-18-5.5-16.5-5.5-19.5-4.5-19.5-4.5-21-3-18-2-16.5-1-16.5 0-15 0-15 1.5-16.5 2-16.5 3-16.5 5.5-25.5 6-20.5 3-7.5 4-4.5 2-4.5 2.5-15.5 1.5-22.5 1-34.5-2-70.5z"/>
<path fill="#8fff70" d="M1543 52l43 0 0 270 1 45 2.5 32.5 2 14.5 2 9 3 9 6 13.5 7 13 8 13 9 12 9 10 12 11 13 8.5 13 6.5 15 4.5 23 4 43 4.5 23 1.5 17-0.5 8-1.5 8-1.5 14-5.5 7-4 7-4.5 13-11 10-11.5 9-12.5 10-16.5 18-35.5 6-8 5-4 4-1 4 1 4 2.5 4 4 4 6 5 9.5 9 22 6 19.5 6.5 21 4.5 19.5 4.5 19.5 3 18 2 16.5 1 16.5 0.5 18-0.5 25.5-3 27-5 30-10.5 47.5-3 16.5-2.5 20-2 25.5-1 57 0 306-42.5 0-0.5-268.5 1.5-97.5-0.5-21-1-16.5-1.5-12.5-2-6-1-0.5-4 3.5-2-1-19-25-7-8-8-8-9-8-8-5.5-9-5-9-4.5-15-4.5-17-3-71-6.5-17-1-18 1-8 1.5-8 2-8 3-7 3.5-14 9.5-11 10-11 12-12 16.5-22 33.5-7 8-6 4.5-4 1-4-0.5-4-2-3-2.5-4-5-3-5-4-8.5-4-9.5-4.5-15-5-18-4.5-19.5-4-19.5-2.5-18-2-16.5-1-16.5-0.5-16.5 1.5-28.5 4-30 4-21 5-19.5 3-9 4.5-9 2-6 3-20 1.5-22 0.5-36-1.5-73.5z"/>
<path fill="#9fff60" d="M1543.5 52l42.5 0 0 274.5 1 48 2.5 33 2 12.5 3 13 5 13.5 7 15.5 8 15 8 12.5 9 12 10 11.5 12 11 13 9 13 6.5 14 4.5 22 3.5 47 5 19 1 15-1.5 8-1.5 7-2.5 13-6.5 7-4.5 7-5.5 13-13.5 10-12.5 9-13.5 10-18 18-38 5-7.5 5-5 4-1.5 4 0.5 4 2 4 4 4 5.5 4 8 9 21 6 18 5.5 19.5 4.5 19.5 4 19.5 3 18 2.5 18 1 16.5 0.5 18-0.5 24-2.5 25.5-4.5 30-11.5 61-3 24.5-1.5 27-1.5 58.5 0.5 304.5-42.5 0 0-265.5 1.5-94.5-0.5-24-1.5-22.5-1.5-13-2-6.5-1-1.5-1 0-2 1-2 0-2-2-18-26.5-15-18-13-12.5-14-10-14-7.5-14-4.5-9-2-11-1.5-64-6-16-0.5-13 1-14 3-13 5.5-13 8.5-13 11.5-12 13-11 14.5-8 12-17 28.5-6 9-6 7.5-5 3.5-4 2-4 0-4-2-3-2.5-4-4-3-5.5-7-16-4.5-13-4.5-16.5-4.5-19.5-3.5-19.5-4.5-34.5-1-16.5 0-16.5 1-27 3-28.5 3-16.5 3.5-16.5 3-10.5 6-16.5 2-9.5 2-17.5 1.5-24 1-31.5-1.5-79.5z"/>
<path fill="#afff50" d="M1544 52l41.5 0 0 282 1.5 51 1.5 18 2 17 3 16 4 13.5 7 17.5 9 18.5 9 16 11 17 11 14.5 12 13.5 12 11.5 12 9 12 7 12 5 15 3 47 6 12 0 11-1.5 7-2.5 6-3 7-4.5 8-6 8-7 8-8 15-18 12-17 10-17 10-20 17-39 5-8.5 5-6 4-2 4-0.5 4 1.5 4 3.5 4 5.5 4 7 8 19.5 5.5 16.5 5 18 4.5 19.5 4.5 21 3 18 2 18 1 16.5 0.5 18-0.5 24-2 24-3.5 25.5-8 47.5-3 20.5-2.5 23.5-1.5 28.5-1 58.5 0 303-41.5 0 0-261 1-102-1-34.5-2.5-25.5-1-5-2-4.5-5-2-2-2-15-24.5-9-13.5-12-16-12-13.5-14-14-15-12.5-14-8.5-12-5-7-1.5-8-1-27-1.5-26-2-12 0-10 1.5-6 2-7 3-8 4.5-7 4.5-14 11.5-15 15.5-11 13.5-11 15.5-12 19.5-21 37.5-6.5 9-5.5 6-4 2.5-4 1-4-1-4-2.5-4-4.5-3-5-3.5-7-3.5-9-4.5-13.5-4-15-7-36-4-34.5-1.5-33 1-24 2.5-25.5 5-28.5 8.5-32 2-11 2.5-23 1.5-27 0.5-36-1.5-78z"/>
<path fill="#bfff40" d="M1544.5 52l40.5 0 0.5 286.5 1.5 52.5 1.5 17.5 2 18.5 2 11.5 3 12.5 8 23 7 17 8 17 24.5 46.5 6 12 5 13.5 1.5 12 0 6-1.5 7.5-2.5 7.5-3.5 9-7 12-28.5 49-26.5 51.5-6.5 10.5-5 6.5-5 4-5 1-4-0.5-3-2-3-3-3-4-6.5-12.5-5.5-18-6-24-4.5-27-3-25.5-1.5-25.5 0-27 2.5-28.5 4-27 7.5-35 2-12 2.5-26.5 2-30 0.5-36-1.5-81zM1913.5 433l4 0.5 4 3 3 3 4 6 7.5 16 7 21 7.5 28.5 6 30 4 28.5 2 27 0.5 27-2 28.5-3 28.5-10 66-2.5 28.5-1.5 33-1 58.5 0 298.5-40.5 0 0-256.5 1-102-1-33-2-28.5-2-12-2-6-1-1.5-4-3-3.5-4.5-15.5-29-23.5-40-8.5-15-5.5-15-2.5-12 0-6 1.5-7.5 2-7.5 2.5-7.5 6.5-13.5 18.5-34.5 10-20.5 8-18.5 16-40 4-7.5 4-6 4-3.5z"/>
<path fill="#cfff30" d="M1544.5 52l40.5 0 0 277.5 1 52.5 2.5 37.5 3 21 5 22.5 10 30 19.5 49.5 5.5 15 4.5 18 2 15-1 13.5-3.5 15-5 15-9 21-29 63-8 16.5-5 7.5-4 4.5-5 4-4 1-3-0.5-3-1.5-3-3-3.5-4.5-5.5-11-6-17.5-5-21-4-25.5-3-25.5-1.5-25.5 0-25.5 2-27 3-24 6.5-36 3-21.5 2-26.5 1.5-28.5 0.5-31.5-1-84zM1912 439l3.5-0.5 4 2 3.5 3 3.5 4.5 4 7 3.5 8 7.5 21 6.5 25.5 6 30 4 28.5 2 28.5 0.5 27-1.5 27-2.5 25.5-9 71-2.5 28-1.5 33-1 60 0.5 297-40.5 0 0-253.5 1-102-0.5-33-2-27-1.5-16-3-12-6.5-9.5-3.5-7-26-56-4.5-12-3-10.5-2-10.5-1-9 0.5-10.5 1.5-12 3.5-13.5 5-15 18-45 14.5-40.5 5-13.5 4-7.5 3.5-5 3-3.5z"/>
<path fill="#dfff20" d="M1545 52l39.5 0 0 273 1 51 2 39 3 26.5 4 22 6 23 15.5 48.5 5 18 4 19.5 1.5 16.5-1 18-4 19.5-7 22.5-13.5 36-12.5 30-8.5 16.5-3.5 6-4 4.5-4 3-4 1-3-0.5-3-1.5-3-3-3-4-5.5-11.5-5-15-5-21-3.5-22.5-2.5-24-1.5-25.5 0-25.5 1-24 2.5-22.5 6.5-42 2-19.5 2.5-30 1.5-33 0.5-34.5-1-84zM1912 445l3.5-0.5 3 1 4 3 3 4 4 6.5 3 7 7.5 21 6.5 25.5 5.5 28.5 4 28.5 1.5 27 0.5 25.5-1 27-2.5 25.5-8 76-2 29-1.5 33-0.5 60 0 292.5-39.5 0 0-250.5 1-103.5-1-33-1-25.5-1.5-16.5-3-17.5-2-6-6-11.5-5.5-11.5-13.5-37.5-4-12-2.5-12-2-10.5-0.5-9 0-15 2-15 3.5-15 6-21 19-60 5.5-16.5 4-8.5 3.5-6.5 3.5-3.5z"/>
<path fill="#efff10" d="M1545.5 52l38.5 0 0 268.5 1 51 2 40.5 2.5 29.5 3 21 5 23.5 16 64 3.5 19.5 1 16.5-0.5 19.5-3 19.5-6 24-9.5 30-11 28.5-8 18-3.5 5.5-4 5-4 3-4 1.5-3-0.5-3-2-5-5.5-6-11.5-4.5-15-4.5-19.5-3.5-22.5-2.5-22.5-1-24 0-24 1-24 2-22.5 8-64.5 2-31.5 1.5-31.5 0-36-0.5-87zM1912 451l3.5-0.5 3 1 3.5 2.5 3.5 4.5 3.5 6 3.5 7.5 6 18 6 24 5.5 27 3.5 28.5 2 27 0.5 25.5-1 27-2 25.5-7.5 75-1.5 31.5-1.5 33-0.5 61.5 0 289.5-38.5 0 0-246 0.5-103.5-0.5-30-1-27-2-27-3-19-3-10-10-25-7.5-25.5-5-22.5-2.5-21 0.5-19.5 2.5-19.5 4.5-21 9-34.5 8-28.5 6-18 3.5-6.5 3-5 3-3.5z"/>
<path fill="#ffff00" d="M1545.5 52l38 0 0.5 265.5 0.5 52.5 1.5 39 2.5 31 3 25.5 4 22.5 12.5 60.5 2.5 19.5 1 16.5-0.5 21-2.5 21-5.5 25.5-8 27-9 25.5-7.5 16.5-3 5.5-4 4.5-4 3-3 0.5-3-0.5-3-1.5-5-6-5-10.5-4.5-14.5-4-18-3.5-21-2-22.5-1-22.5-0.5-22.5 1-22.5 2-22.5 7-72 2-28.5 1-31.5 0.5-31.5-1-88.5zM1912.5 457l4-0.5 3 1.5 3 2.5 3 4 6 12 6 18 6 24 5 25.5 3 27 2 27 0.5 25.5-1 27-8 102-2 33-1 34.5-0.5 60 0 285-37.5 0 0-241.5 0.5-105-0.5-31.5-1-25.5-1.5-25.5-3-24.5-3-14-8.5-27.5-6-22.5-3.5-19.5-1.5-19.5 0-19.5 2.5-21 4.5-25.5 7-31.5 5.5-22.5 6-16 3-6.5 2.5-4.5 3-3z"/>
<path fill="#ffef00" d="M1546 52l37.5 0 0 261 0.5 51 1.5 40 2 33.5 3 30 3 21 10 60 2 18 1 16.5-0.5 21-2.5 22.5-4.5 24-6.5 25.5-7.5 22.5-7 16.5-3.5 6-3 4-4 3-3 1-3-0.5-2-1-5-5.5-5-10.5-4.5-13-3.5-17-3.5-20.5-2-21-1-22.5 0-22.5 1-24 8-96 1.5-33 1-30zM1913.5 463l3 0 3 1 3 2.5 3 4.5 6 12 6 18 5 22 4.5 25.5 3 25.5 1.5 27 0.5 24-0.5 25.5-7.5 103.5-2 67.5-0.5 63 0 280.5-37.5 0 0.5-342-1-54-1.5-31.5-2.5-25.5-3-18.5-8.5-34-3-16.5-2.5-16.5-1.5-18 0-19.5 2-22.5 4-25.5 5.5-30 5-19.5 5.5-15 2.5-5 3-4.5 2-2.5z"/>
<path fill="#ffdf00" d="M1546.5 52l36.5 0 0 255 0.5 52.5 1 39 1.5 33 2.5 27.5 3 27 8.5 61 1.5 18 0.5 15 0 22.5-2 21-4 24-5.5 24-6.5 22.5-6.5 15.5-3.5 5.5-3.5 4.5-3 2.5-3 1-3-0.5-2-1-3-3-2-3-4-8.5-4.5-13-3.5-16.5-3-19.5-2-21-1-21 0-22.5 0.5-22.5 7.5-100.5 2.5-60zM1911.5 470.5l3-1.5 3 0.5 3 1.5 3 3.5 3 4.5 3 6 6 17 5 21 4.5 25.5 3 25.5 2 27 0.5 24-0.5 27-6.5 105-2 67.5-0.5 63 0 277.5-36.5 0 0.5-339-1-54-1.5-30-2-28-3-23-7.5-40.5-2.5-15-2-21-0.5-19.5 1-18 1.5-19.5 3.5-22.5 3.5-21 4-16.5 4.5-13.5 4.5-9z"/>
<path fill="#ffcf00" d="M1547 52l35.5 0 0 250.5 1.5 91.5 1.5 33.5 2 30.5 3 32 6 55.5 2 31.5 0 22.5-1.5 22.5-3.5 22.5-5 24-6 21-6 14.5-3 5.5-3 3.5-3 2.5-3 1-3-0.5-2-1-4-4.5-4.5-9-4.5-13.5-3-16-3-18.5-1.5-19.5-1-21 0-21 0.5-24 6.5-97.5 2-61.5zM1912.5 476.5l3-1 3 0.5 3 2.5 3 3.5 3 5.5 3 7 4.5 15 5 21 4 22.5 2.5 25.5 2 25.5 0.5 24-0.5 25.5-5.5 108-2 67.5-0.5 336-35.5 0 0.5-334.5-1-51-1-31.5-2-30-3-28-8-57.5-1.5-21-0.5-19.5 1-19.5 1.5-18 2.5-21 3.5-18 3.5-15 4-11.5 4-8 2-2.5z"/>
<path fill="#ffbf00" d="M1547.5 52l34.5 0 0 244.5 1.5 93 3 66.5 7.5 86.5 1.5 31.5 0 24-1.5 22.5-3 22.5-4.5 22.5-5.5 19.5-5.5 14-3 5-3 3.5-3 2-3 1-3-1-2-2-4-5.5-4-9.5-3-10.5-3-15-2.5-18-2-19.5-0.5-19.5 0-43.5 6-103.5 2-60zM1914.5 482.5l3 0 3 1.5 5 6.5 5 11 5 16.5 4 20 3.5 22.5 2.5 24 1.5 24 0.5 24-0.5 25.5-5 108-1.5 66-0.5 333-34.5 0 0-331.5-0.5-51-1.5-36-2-33-9-87-1-18 0-18 0.5-19.5 2-19.5 2-18 3.5-18 3-13.5 4-9.5 4-7 2-2z"/>
<path fill="#ffaf00" d="M1547.5 52l34 0 0.5 240 0.5 90 3 70.5 7 102 0.5 19.5 0 18-1 21-2 19.5-3.5 19.5-4 18-4 14-5 11-5 6.5-2 1.5-3 0.5-2 0-2-1.5-4-5-4-9.5-3.5-11.5-2.5-13.5-2.5-18-1.5-18-1-19.5 0.5-43.5 5-100.5 2-63zM1913.5 490l3-1 2 0.5 2.5 2 2.5 3 5 9.5 5 16 4.5 19.5 3.5 21 2.5 24 1.5 25.5 0.5 24-0.5 27-4 108-1.5 70.5-0.5 325.5-33.5 0 0-325.5-0.5-49.5-2.5-60-1.5-27.5-6.5-71.5-1-19.5-0.5-19.5 0.5-18 1.5-18 2-18 2.5-15 3.5-13.5 3-9 3-6 2-2.5z"/>
<path fill="#ff9f00" d="M1548 52l33 0 0.5 234 0.5 88.5 2.5 73 6 104 0 39-1 19.5-1.5 19.5-3.5 19.5-3.5 16.5-4 13.5-4.5 10.5-2 3-3 3-2 1-2 0.5-2-0.5-2-1.5-4-5.5-4-9-3-10.5-2.5-13.5-2-16.5-1.5-18-0.5-19.5 0-43.5 5-103.5 1.5-58.5zM1913 497.5l2.5-1 3 0 2 1.5 3 3.5 5 10 4 13 4 18 3.5 22.5 2.5 24 1.5 24 0.5 24 0 27-4 111-1 67.5 0 322.5-33.5 0 0.5-321-0.5-51-2.5-66-7-97.5-1-36 1.5-33 4-30 2.5-11 3-10 3-7z"/>
<path fill="#ff8f00" d="M1548.5 52l32.5 0 0 229.5 0.5 90 2 72 5 103.5 0.5 39-1 19.5-2 19.5-2.5 18-3.5 16.5-3.5 13-4 9-4.5 6.5-2.5 1.5-2 0.5-2-0.5-2-1.5-4-6-3-7.5-3-11.5-2.5-14-2-15-2-36 0-43.5 4.5-105 1-57zM1913.5 505l2-1 3 0 2 1 3 3.5 4.5 10 4 13.5 4 18 3.5 21 2 22.5 1.5 24 0.5 24 0 27-3.5 114-1 67.5 0 315-32.5 0 0-366-2-66-6.5-102-0.5-34.5 1.5-33 3.5-27.5 2-11.5 3-9 3-6.5z"/>
<path fill="#ff8000" d="M1549 52l31.5 0 0.5 310.5 1.5 75 4.5 105 0 40.5-1 19.5-1.5 18-2.5 18-3 15-3.5 12.5-4 9.5-4 5.5-2 1.5-2 0-2-0.5-2-1.5-3-4-3-7.5-3-11-2.5-13.5-2-15-2-36 0-43.5 4-102 1-60zM1914 512.5l2.5-1.5 2 0.5 2 1 2 2.5 5 9.5 4 13 4 18.5 2.5 19.5 2.5 22.5 1 24 0.5 52.5-2.5 109.5-1 70.5 0 310.5-31.5 0 0-363-2-67.5-5.5-97.5-0.5-36 1-31.5 3.5-27 2-10.5 3-10 3-6.5z"/>
<path fill="#ff7000" d="M1549.5 52l30.5 0 0.5 307.5 1 72 4 105 0 40.5-1 19.5-1.5 18-2 16.5-3 15-3 12-3.5 9.5-4 6-2 1-2 0.5-2-0.5-2-1.5-3-4.5-3-8-2.5-10-2.5-12-1.5-15-2-36 0-42 3.5-106.5 1-57zM1914.5 520l3-1 2 0.5 2 2 2 2.5 4 9 4 13.5 3 17 3 19.5 2 21 1 24 0.5 52.5-2 112.5-1 69 0 303-30.5 0 0-357-1.5-66-5-102-0.5-36 1-30 3-25.5 2-10.5 3-9 3-6.5z"/>
<path fill="#ff6000" d="M1550 52l29.5 0 0.5 298.5 1 73.5 3 106.5 0 42-1 19.5-1.5 18-2 16.5-2.5 13.5-3 12-3.5 8.5-3 4.5-2 2-2 0.5-2-1-2-1.5-3-5-3-9-2-8.5-3.5-26.5-2-34.5 0-43.5 3-97.5 1-61.5zM1916 527.5l2.5 0 2 1 4 5.5 4 10.5 3 11.5 3 16.5 2.5 19.5 1.5 21 1 22.5 0.5 51-2 114-0.5 67.5 0 297-29.5 0 0-354-1.5-61.5-4.5-105 0-36 1-31.5 3.5-25.5 2-9.5 2-7 3-5z"/>
<path fill="#ff5000" d="M1550.5 52l28.5 0 0 289.5 1 73.5 2.5 109.5 0 42-2 36-2 15-2 13.5-3 12.5-3 8-3 5-2 2-2 0.5-3-1.5-3-4.5-3-8-2-8.5-2-12.5-1.5-14-2-34.5 0-42 2.5-103.5 1-58.5zM1915.5 536.5l2-1 2 0.5 2 2 2 2.5 4 10 3 11 3 16 2 19 2 21 1 24 0.5 52.5-2 184.5 0 286.5-28.5 0 0-346.5-1.5-67.5-3.5-100.5-0.5-34.5 1-30 3-24 3.5-16.5 3-6.5z"/>
<path fill="#ff4000" d="M1551 52l27.5 0 0 285 1 75 2 103.5-0.5 43.5-2 36-1.5 16.5-2 12.5-3 12.5-3 8-3 4.5-3 1.5-3-1.5-3-5-2-5.5-2.5-10.5-2-12-1.5-15-1.5-33 0-42 2-96 1-63zM1916 545.5l1.5-1 2 0.5 2 1.5 2 3 3.5 9.5 3 12 3 16.5 2 18 2.5 42 1 48-2 171 0 298.5-27.5 0 0-343.5-1-63-3.5-100.5 0-36 1-28 2-23 2-9.5 2-7.5 2-5z"/>
<path fill="#ff3000" d="M1551.5 52l26.5 0 0 273 2 183 0 43.5-2 36-1.5 16.5-2 12-2 9.5-3 9-3 5-3 2-3-2-2.5-4-2.5-8-2-9.5-3-26-1.5-31.5 0-42 2.5-159zM1916.5 554.5l2-0.5 2 1 3 4 3 7.5 3 12 2.5 16.5 2 18 2.5 42 1 49.5-1.5 171 0 289.5-26.5 0 0-336-1-61.5-3-103.5 0-34.5 1-28.5 2-22.5 2-9 2-7.5 2-5z"/>
<path fill="#ff2000" d="M1552 52l25.5 0 0 265.5 1.5 180-0.5 45-1.5 36-3.5 28.5-2 10.5-2.5 7.5-2.5 5-3 1.5-2-0.5-1-1-2-4-2-5.5-2-9.5-3-25.5-1.5-32.5 0-42 2-157.5zM1916 565l1.5-1 2 0 3 3 3 7 3.5 13.5 2.5 14.5 2 18 2.5 42.5 0.5 52.5-1 166.5 0 283.5-25.5 0 0-331.5-1-66-2-94.5-0.5-34.5 1-27 2-21.5 3-16.5 2-5.5z"/>
<path fill="#ff1000" d="M1552.5 52l24 0 0.5 270 1 171-0.5 40.5-1.5 36-3 27-2 10.5-2.5 8.5-2 4-1 1-2 1-2-1-1-1-2-4-2-7-2-9-2.5-22.5-1-33-0.5-42 2-157.5zM1916.5 575.5l2-1 1 0 3 2.5 3 7.5 3 12 2 13.5 2 18 2.5 43.5 0.5 55.5-0.5 165-0.5 273-23.5 0-0.5-324-0.5-64.5-2-94.5 0-34.5 0.5-27 2-21 3-16.5 2-5.5z"/>
<path fill="#ff0000" d="M1553.5 52l22.5 0 0 259.5 1 166.5-0.5 46.5-1.5 34.5-2.5 26.5-2 11-2 7-2 4.5-2 2-1 0.5-2-1-2-3.5-2-6.5-2-10.5-2.5-24-1-31.5-0.5-40.5 2-159zM1917.5 586l2-0.5 1 0.5 3 4 3 9.5 2 10 2 14 1.5 18 2 40.5 0.5 58.5-0.5 424.5-22.5 0 0-318-2.5-190.5 0.5-25.5 2-22 3-16.5 2-5z"/>
<path fill="#ef0000" d="M1554 52l21.5 0 0.5 409.5-0.5 51-1.5 36-2.5 27-2 11-2 7-2 4-2 1-2-1-2-4-3-13.5-2.5-24-1.5-33 0-40.5 1.5-156zM1918 598l1.5-0.5 1 0 3 4.5 3 10.5 1.5 11 3.5 29 1.5 41.5 1 61.5-0.5 409.5-21.5 0 0-309-2-189 1-27 1.5-20 2-14.5 2-5z"/>
<path fill="#df0000" d="M1554.5 52l20 0 0.5 390-0.5 58.5-1.5 34.5-2 27-1.5 9.5-2 8-2 4.5-2 2-2-1.5-2-5-3-14.5-2-24-1-30 1-195zM1918 611.5l1.5-1 1 0 2 2.5 1 2 2 7 2 10.5 3 28.5 2 42.5 0.5 68.5 0 393-20 0-0.5-298.5-1.5-186 1-27 1-21 2.5-13.5 1-4z"/>
<path fill="#cf0000" d="M1555.5 52l18.5 0 0 366-0.5 69-1 33.5-2 25.5-3 18-2 5.5-2 2-2-2-1-2.5-2-8-1-8-2-23.5-1-28.5 1-198zM1919.5 625l1 0 1 0.5 2 4 2 7.5 2 12.5 2.5 29.5 1.5 37.5 0.5 75 0 373.5-18.5 0 0-285-1-189 0.5-27 1.5-19 2-13 1-4z"/>
<path fill="#bf0000" d="M1556 52l17 0 0 339-0.5 81-1 34.5-2 26.5-3 17.5-1 2.5-1 2-1 0.5-1-1-1-1.5-1-3-2-12-2-24-1-30zM1919.5 641.5l1-0.5 1 0.5 2 4 3 15.5 2.5 30 1.5 39 1 81-0.5 354-16.5 0 0-276-1-180 0.5-28.5 1.5-20 2-14z"/>
<path fill="#af0000" d="M1557 52l15 0 0 307.5-0.5 94.5-1 36-2 25.5-2 15-1 3.5-1 2-1 0.5-1-1-2-5-1.5-13.5-1.5-24-0.5-27zM1919.5 661l1-1.5 1 0.5 1 1.5 2 7 1.5 10.5 2.5 30 1 36 1 87 0 333-15.5 0-0.5-436.5 0.5-28.5 1-18 1.5-12.5z"/>
<path fill="#9f0000" d="M1558 52l13 0 0 279-0.5 102-1 36.5-1.5 22-2 15-1.5 6-1 1.5-1-1.5-1-3.5-2-16-1.5-46.5zM1921 682l1.5 1.5 1.5 6 2 19.5 1.5 25.5 1 36 0.5 88.5 0.5 306-13.5 0 0-421.5 1.5-43.5 2-15 1-2.5z"/>
<path fill="#8f0000" d="M1559.5 52l10.5 0 0 246-0.5 100.5-1 40.5-1 22.5-2 19-1 3.5-1 0.5-1-2.5-1-7-1-12-1-43.5zM1920.5 712l1-1.5 1 1 1 4 1.5 14.5 1.5 21.5 1 37 0.5 91.5 0 285-10.5 0 0-387 1-44.5 1-14z"/>
<path fill="#800000" d="M1561 52l7.5 0-0.5 301.5-1.5 63-1 18-1 5.5-1-0.5-1-8.5-1.5-46zM1921.5 755.5l1-1 1 5 1 12 1 23.5 0.5 40 0.5 330-7.5 0 0-349.5 1-45z"/></g></g>
<rect x="1919.9" y="57.8" width="3.6" height="10.9" fill="#dcdcff"/>
<path d="M668.6 1158.6V56" stroke="#00f" stroke-width="7.4" stroke-dasharray="29.4 29.3" fill="none" clip-path="url(#cl)"/>
<g fill="#e4e4e4"><rect x="250.2" y="54.1" width="836.7" height="3.7"/><rect x="246.9" y="57.8" width="3.3" height="1104.4"/><rect x="246.9" y="1158.5" width="840" height="3.7"/><rect x="1086.9" y="57.8" width="3.7" height="1100.7"/></g>
<g fill="#e4e4e4"><rect x="1362.1" y="54.1" width="840.1" height="3.7"/><rect x="1358.8" y="57.8" width="3.3" height="1104.4"/><rect x="1358.8" y="1158.5" width="843.4" height="3.7"/><rect x="2202.2" y="57.8" width="3.7" height="1100.7"/></g>
<rect x="2250" y="1134.34" width="29.2" height="17.36" fill="#ffffff"/>
<rect x="2250" y="1117.48" width="29.2" height="17.36" fill="#dbdbff"/>
<rect x="2250" y="1100.62" width="29.2" height="17.36" fill="#b6b6ff"/>
<rect x="2250" y="1083.76" width="29.2" height="17.36" fill="#9292ff"/>
<rect x="2250" y="1066.90" width="29.2" height="17.36" fill="#6d6dff"/>
<rect x="2250" y="1050.04" width="29.2" height="17.36" fill="#4949ff"/>
<rect x="2250" y="1033.18" width="29.2" height="17.36" fill="#2424ff"/>
<rect x="2250" y="1016.33" width="29.2" height="17.36" fill="#0000ff"/>
<rect x="2250" y="999.47" width="29.2" height="17.36" fill="#0010ff"/>
<rect x="2250" y="982.61" width="29.2" height="17.36" fill="#0020ff"/>
<rect x="2250" y="965.75" width="29.2" height="17.36" fill="#0030ff"/>
<rect x="2250" y="948.89" width="29.2" height="17.36" fill="#0040ff"/>
<rect x="2250" y="932.03" width="29.2" height="17.36" fill="#0050ff"/>
<rect x="2250" y="915.17" width="29.2" height="17.36" fill="#0060ff"/>
<rect x="2250" y="898.31" width="29.2" height="17.36" fill="#0070ff"/>
<rect x="2250" y="881.45" width="29.2" height="17.36" fill="#0080ff"/>
<rect x="2250" y="864.59" width="29.2" height="17.36" fill="#008fff"/>
<rect x="2250" y="847.73" width="29.2" height="17.36" fill="#009fff"/>
<rect x="2250" y="830.87" width="29.2" height="17.36" fill="#00afff"/>
<rect x="2250" y="814.01" width="29.2" height="17.36" fill="#00bfff"/>
<rect x="2250" y="797.15" width="29.2" height="17.36" fill="#00cfff"/>
<rect x="2250" y="780.29" width="29.2" height="17.36" fill="#00dfff"/>
<rect x="2250" y="763.43" width="29.2" height="17.36" fill="#00efff"/>
<rect x="2250" y="746.58" width="29.2" height="17.36" fill="#00ffff"/>
<rect x="2250" y="729.72" width="29.2" height="17.36" fill="#10ffef"/>
<rect x="2250" y="712.86" width="29.2" height="17.36" fill="#20ffdf"/>
<rect x="2250" y="696.00" width="29.2" height="17.36" fill="#30ffcf"/>
<rect x="2250" y="679.14" width="29.2" height="17.36" fill="#40ffbf"/>
<rect x="2250" y="662.28" width="29.2" height="17.36" fill="#50ffaf"/>
<rect x="2250" y="645.42" width="29.2" height="17.36" fill="#60ff9f"/>
<rect x="2250" y="628.56" width="29.2" height="17.36" fill="#70ff8f"/>
<rect x="2250" y="611.70" width="29.2" height="17.36" fill="#80ff80"/>
<rect x="2250" y="594.84" width="29.2" height="17.36" fill="#8fff70"/>
<rect x="2250" y="577.98" width="29.2" height="17.36" fill="#9fff60"/>
<rect x="2250" y="561.12" width="29.2" height="17.36" fill="#afff50"/>
<rect x="2250" y="544.26" width="29.2" height="17.36" fill="#bfff40"/>
<rect x="2250" y="527.40" width="29.2" height="17.36" fill="#cfff30"/>
<rect x="2250" y="510.54" width="29.2" height="17.36" fill="#dfff20"/>
<rect x="2250" y="493.68" width="29.2" height="17.36" fill="#efff10"/>
<rect x="2250" y="476.83" width="29.2" height="17.36" fill="#ffff00"/>
<rect x="2250" y="459.97" width="29.2" height="17.36" fill="#ffef00"/>
<rect x="2250" y="443.11" width="29.2" height="17.36" fill="#ffdf00"/>
<rect x="2250" y="426.25" width="29.2" height="17.36" fill="#ffcf00"/>
<rect x="2250" y="409.39" width="29.2" height="17.36" fill="#ffbf00"/>
<rect x="2250" y="392.53" width="29.2" height="17.36" fill="#ffaf00"/>
<rect x="2250" y="375.67" width="29.2" height="17.36" fill="#ff9f00"/>
<rect x="2250" y="358.81" width="29.2" height="17.36" fill="#ff8f00"/>
<rect x="2250" y="341.95" width="29.2" height="17.36" fill="#ff8000"/>
<rect x="2250" y="325.09" width="29.2" height="17.36" fill="#ff7000"/>
<rect x="2250" y="308.23" width="29.2" height="17.36" fill="#ff6000"/>
<rect x="2250" y="291.37" width="29.2" height="17.36" fill="#ff5000"/>
<rect x="2250" y="274.51" width="29.2" height="17.36" fill="#ff4000"/>
<rect x="2250" y="257.65" width="29.2" height="17.36" fill="#ff3000"/>
<rect x="2250" y="240.79" width="29.2" height="17.36" fill="#ff2000"/>
<rect x="2250" y="223.93" width="29.2" height="17.36" fill="#ff1000"/>
<rect x="2250" y="207.08" width="29.2" height="17.36" fill="#ff0000"/>
<rect x="2250" y="190.22" width="29.2" height="17.36" fill="#ef0000"/>
<rect x="2250" y="173.36" width="29.2" height="17.36" fill="#df0000"/>
<rect x="2250" y="156.50" width="29.2" height="17.36" fill="#cf0000"/>
<rect x="2250" y="139.64" width="29.2" height="17.36" fill="#bf0000"/>
<rect x="2250" y="122.78" width="29.2" height="17.36" fill="#af0000"/>
<rect x="2250" y="105.92" width="29.2" height="17.36" fill="#9f0000"/>
<rect x="2250" y="89.06" width="29.2" height="17.36" fill="#8f0000"/>
<rect x="2250" y="72.20" width="29.2" height="17.36" fill="#800000"/>
<rect x="2248.15" y="70.35" width="32.9" height="1082.7" fill="none" stroke="#262626" stroke-width="3.7"/>
<rect x="2272" y="285.3" width="7.2" height="3.6" fill="#262626"/>
<rect x="2272" y="501.8" width="7.2" height="3.6" fill="#262626"/>
<rect x="2272" y="718.3" width="7.2" height="3.6" fill="#262626"/>
<rect x="2272" y="934.8" width="7.2" height="3.6" fill="#262626"/>
<g font-family="Liberation Sans, Arial, sans-serif" fill="#262626" filter="url(#bt)"><text x="225.3" y="82.5" font-size="58.5" text-anchor="end" >0.5</text>
<text x="1337" y="82.5" font-size="58.5" text-anchor="end" >0.5</text>
<text x="225.3" y="303" font-size="58.5" text-anchor="end" >0.4</text>
<text x="1337" y="303" font-size="58.5" text-anchor="end" >0.4</text>
<text x="225.3" y="523.5" font-size="58.5" text-anchor="end" >0.3</text>
<text x="1337" y="523.5" font-size="58.5" text-anchor="end" >0.3</text>
<text x="225.3" y="745" font-size="58.5" text-anchor="end" >0.2</text>
<text x="1337" y="745" font-size="58.5" text-anchor="end" >0.2</text>
<text x="225.3" y="965" font-size="58.5" text-anchor="end" >0.1</text>
<text x="1337" y="965" font-size="58.5" text-anchor="end" >0.1</text>
<text x="225.3" y="1183" font-size="58.5" text-anchor="end" >0</text>
<text x="1337" y="1183" font-size="58.5" text-anchor="end" >0</text>
<text x="246.6" y="1242.5" font-size="58.5" text-anchor="middle" >-10</text>
<text x="456.65" y="1242.5" font-size="58.5" text-anchor="middle" >-5</text>
<text x="668.7" y="1242.5" font-size="58.5" text-anchor="middle" >0</text>
<text x="878.75" y="1242.5" font-size="58.5" text-anchor="middle" >5</text>
<text x="1088.8" y="1242.5" font-size="58.5" text-anchor="middle" >10</text>
<text x="1358.3" y="1242.5" font-size="58.5" text-anchor="middle" >-10</text>
<text x="1639.53" y="1242.5" font-size="58.5" text-anchor="middle" >-5</text>
<text x="1922.77" y="1242.5" font-size="58.5" text-anchor="middle" >0</text>
<text x="2204" y="1242.5" font-size="58.5" text-anchor="middle" >5</text>
<text x="2303" y="91.3" font-size="52.8" text-anchor="start" >0</text>
<text x="2303" y="307.8" font-size="52.8" text-anchor="start" >-10</text>
<text x="2303" y="524.3" font-size="52.8" text-anchor="start" >-20</text>
<text x="2303" y="740.8" font-size="52.8" text-anchor="start" >-30</text>
<text x="2303" y="957.3" font-size="52.8" text-anchor="start" >-40</text>
<text x="669.5" y="1327" font-size="66.2" text-anchor="middle" >Time (t /T<tspan dx="-3" dy="29.79" font-size="52.96">0</tspan><tspan dx="2" dy="-29.79">)</tspan></text>
<text transform="translate(85.4 607.7) rotate(-90)" font-size="66.2" letter-spacing="-0.55" text-anchor="middle">Distance (z/L<tspan dx="-3" dy="29.79" font-size="52.96">D</tspan><tspan dx="2" dy="-29.79">)</tspan></text>
<text transform="translate(1197 607.7) rotate(-90)" font-size="66.2" letter-spacing="-0.55" text-anchor="middle">Distance (z/L<tspan dx="-3" dy="29.79" font-size="52.96">D</tspan><tspan dx="2" dy="-29.79">)</tspan></text>
<text x="1782" y="1327" font-size="66.2" text-anchor="middle" >(<tspan font-family="Liberation Serif, serif" font-style="italic" font-size="72.82">ν</tspan>-<tspan font-family="Liberation Serif, serif" font-style="italic" font-size="72.82">ν</tspan><tspan dx="-3" dy="29.79" font-size="52.96">0</tspan><tspan dx="2" dy="-29.79">)T</tspan><tspan dx="-3" dy="29.79" font-size="52.96">0</tspan></text></g>
</svg>
</body></html>
